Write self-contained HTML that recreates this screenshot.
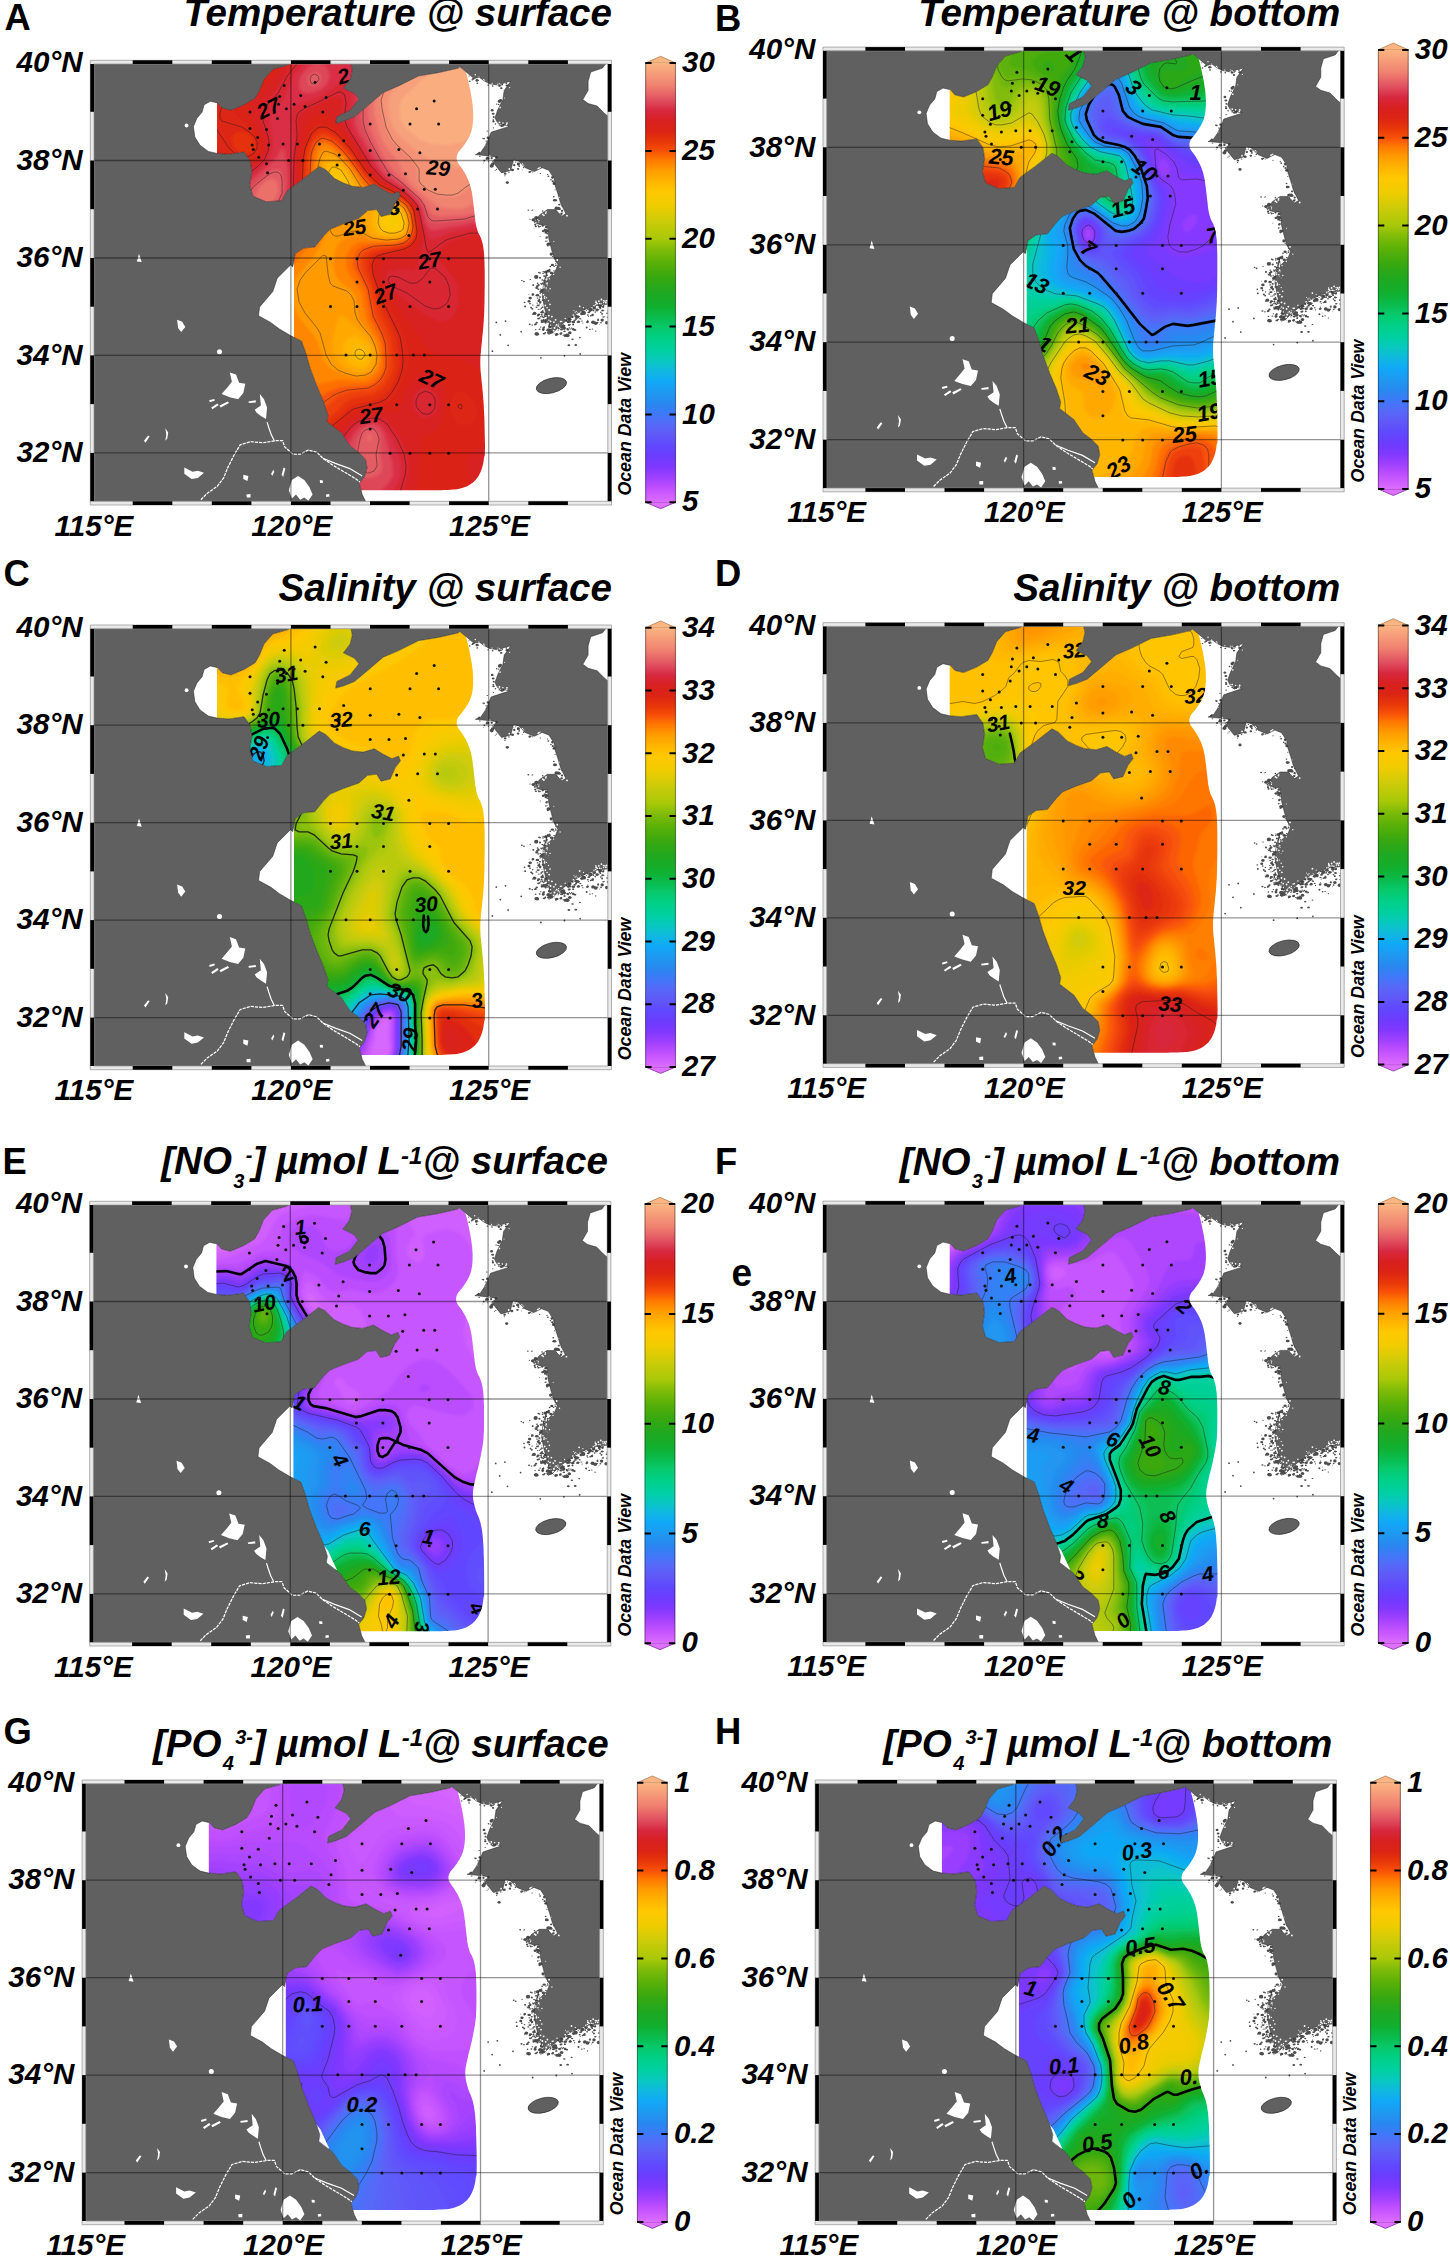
<!DOCTYPE html><html><head><meta charset="utf-8"><title>Figure</title><style>html,body{margin:0;padding:0;background:#fff}svg{display:block}text{font-family:"Liberation Sans", sans-serif}</style></head><body>
<svg width="1450" height="2259" viewBox="0 0 1450 2259">
<rect width="1450" height="2259" fill="#fff"/>
<defs><filter id="bl" x="-5%" y="-5%" width="110%" height="110%"><feGaussianBlur stdDeviation="1.6"/></filter><clipPath id="cf"><rect x="0" y="0" width="515.6" height="439.1"/></clipPath><clipPath id="csea"><path d="M123.9,90.3 135.6,91.2 151,89 157.2,97.8 158.8,108.9 156.6,122.1 159.9,133.1 173.1,138.7 188.6,137.6 194.1,127.6 210.6,115.5 226.1,103.3 232.7,106.7 241.5,115.5 250.3,119.9 259.2,123.2 270.2,124.3 281.2,121 290.1,126.5 298.9,130.9 305.5,128.3 307.3,133.1 302.2,139.8 297.1,151.2 287.9,153.4 283.5,146.4 274.6,147.5 265.8,155.2 250.3,160.7 237.1,166.2 230.5,172.9 221.7,183.9 210.6,185 202.2,190.5 199.6,203.8 197.4,201.9 184.1,215.1 179.7,228.4 166.5,243.8 165.4,252.7 177.5,259.3 186.3,265.9 197.4,272.5 204,275.8 208.4,278 212.8,290.2 217.2,305.6 223.9,323.3 230.5,338.7 234.9,352 233.8,358.6 248.1,369.6 257,382.9 265.8,389.5 272.4,396.1 274,404.9 271.3,413.8 266.2,420.4 269.1,431.4 272.9,439.1 272.9,442.1 518.6,442.1 518.6,241 515.9,241 504.1,242.3 495,244.9 484.5,250.1 472.7,258 464.8,264.6 459.6,269.8 455.7,259.3 451.7,246.2 449.1,233.1 450.4,220 454.3,206.9 451.7,222.5 455.7,214.7 462.2,208.1 464.8,201.6 460.9,195 458.3,185.8 455.7,175.3 454.3,162.2 449.1,162.2 441.2,159.6 446.5,151.8 454.3,146.5 462.2,146.5 468.8,153.1 472.7,150.5 467.5,140 464.8,130.8 462.2,122.9 460.9,115.1 455.7,107.2 449.1,104.6 441.2,108.5 432.1,104.6 425.5,98 420.3,96.7 417.7,107.2 408.5,109.8 403.2,103.3 399.3,98 404.6,94.1 395.4,92.8 382.3,91.5 387.5,89.5 391.5,83.6 395.4,75.8 398,69.2 409.8,65.3 416.3,63.3 404.6,60 401.9,54.8 404.6,46.9 409.8,36.5 411.1,27.3 417.7,18.1 412.4,19.4 404.6,22 396.7,20.7 391.5,18.1 386.2,14.2 381,15.5 373.1,8.9 366.6,3.7 365.1,5.1 345.2,9.6 325.4,12.9 305.5,22.8 290.1,29.4 274.6,42.7 261.4,53.7 250.3,58.1 242.6,60.3 243.7,53.7 257,47.1 265.8,36 261.4,30.5 250.3,25 257,16.2 259.2,7.3 257.4,-1.5 257.4,-3 197.4,-3 197.4,-1.5 195.2,1.8 179.7,6.2 170.9,16.2 166.5,27.2 162.1,34.9 151,41.6 137.8,47.1 129,44.9 124.1,39.3 123.9,39.7 117.2,38.2 111,41.7 109,49 103.8,55.2 100.3,63.5 101.7,73.8 106.9,82.1 115.2,88.3 123.9,90.3Z"/></clipPath><clipPath id="cenv"><path d="M123.9,-10 370.6,-10 370.6,0.7 370.7,1.1 370.9,1.8 371.2,2.8 371.6,4.2 372,5.9 372.6,8 373.2,10.4 374,13.1 374.7,15.9 375.4,18.8 376,21.6 376.6,24.5 377.2,27.5 377.8,30.4 378.3,33.4 378.8,36.5 379.2,39.4 379.6,42.3 379.8,45.1 380,47.9 380.1,50.6 380.1,53.2 380.1,55.8 379.9,58.2 379.7,60.6 379.4,62.9 379,65.1 378.5,67.1 378,69.1 377.3,71 376.6,72.7 375.7,74.4 374.8,76.1 373.8,77.7 372.7,79.5 371.6,81.2 370.3,82.9 369,84.7 367.5,86.5 366,88.2 364.8,90 364.1,91.8 363.6,93.6 363.6,95.4 363.8,97.2 364.5,99 365.5,100.8 366.9,102.6 368.2,104.4 369.5,106.2 370.6,108.1 371.7,109.9 372.8,111.8 373.7,113.7 374.6,115.6 375.5,117.6 376.2,119.6 376.9,121.7 377.6,124 378.1,126.3 378.7,128.8 379.1,131.3 379.5,134 379.8,136.7 380.2,139.5 380.5,142.1 380.8,144.8 381.1,147.4 381.4,150 381.7,152.6 382,155.1 382.2,157.6 382.6,159.9 383,162.1 383.4,164.2 384,166.1 384.5,167.9 385.2,169.6 385.9,171.1 386.7,172.5 387.4,173.9 388,175.5 388.6,177.2 389.1,179 389.6,180.9 390,182.9 390.3,185 390.6,187.2 390.9,189.7 391.1,192.5 391.2,195.7 391.4,199.1 391.5,202.8 391.6,206.8 391.6,211.2 391.6,215.8 391.6,220.2 391.6,224.5 391.5,228.6 391.5,232.5 391.4,236.1 391.4,239.7 391.3,243 391.2,246.1 391.1,249.2 391,252.2 390.8,255.2 390.6,258.2 390.4,261.1 390.2,263.9 390,266.7 389.7,269.5 389.4,272.2 389.1,275 388.9,277.8 388.6,280.5 388.3,283.3 388,286 387.8,288.8 387.5,291.6 387.3,294.5 387.2,297.6 387.2,300.9 387.3,304.3 387.5,307.9 387.9,311.7 388.3,315.7 388.7,319.8 389.2,324.1 389.6,328.6 390,333.3 390.4,338.1 390.7,343.1 390.9,348.3 391.2,353.6 391.4,359.1 391.5,364.3 391.6,369.1 391.7,373.6 391.8,377.8 391.9,381.6 391.9,385 391.8,388.1 391.8,390.9 391.7,393.1 391.7,394.8 391.7,396 391.6,396.7 391.6,396.8 391.6,396.5 391.6,395.6 391.6,394.2 391.6,393.2 391.5,392.6 391.4,392.5 391.3,392.8 391.1,393.5 390.9,394.6 390.7,396.2 390.5,398.2 390.1,400.2 389.7,402.1 389.2,403.9 388.7,405.7 388,407.5 387.3,409.2 386.5,410.9 385.7,412.5 384.7,414.1 383.6,415.5 382.5,416.9 381.2,418.2 379.9,419.3 378.4,420.5 376.9,421.5 375.3,422.4 373.6,423.3 371.8,424 369.9,424.7 368,425.2 366,425.7 363.9,426.1 361.7,426.4 359.5,426.5 357,426.7 354.4,426.8 351.6,427 348.6,427.1 345.4,427.1 342,427.2 338.5,427.2 334.7,427.2 331.4,427.2 328.6,427.2 326.3,427.2 324.4,427.2 323,427.2 322.1,427.2 321.6,427.2 200.9,427.2 200.9,198.9 123.9,198.9Z"/></clipPath><clipPath id="cenv2"><path d="M123.9,-10 370.6,-10 370.6,0.7 370.7,1.1 370.9,1.8 371.2,2.8 371.6,4.2 372,5.9 372.6,8 373.2,10.4 374,13.1 374.7,15.9 375.4,18.8 376,21.6 376.6,24.5 377.2,27.5 377.8,30.4 378.3,33.4 378.8,36.5 379.2,39.4 379.6,42.3 379.8,45.1 380,47.9 380.1,50.6 380.1,53.2 380.1,55.8 379.9,58.2 379.7,60.6 379.4,62.9 379,65.1 378.5,67.1 378,69.1 377.3,71 376.6,72.7 375.7,74.4 374.8,76.1 373.8,77.7 372.7,79.5 371.6,81.2 370.3,82.9 369,84.7 367.5,86.5 366,88.2 364.8,90 364.1,91.8 363.6,93.6 363.6,95.4 363.8,97.2 364.5,99 365.5,100.8 366.9,102.6 368.2,104.4 369.5,106.2 370.6,108.1 371.7,109.9 372.8,111.8 373.7,113.7 374.6,115.6 375.5,117.6 376.2,119.6 376.9,121.7 377.6,124 378.1,126.3 378.7,128.8 379.1,131.3 379.5,134 379.8,136.7 380.2,139.5 380.5,142.1 380.8,144.8 381.1,147.4 381.4,150 381.7,152.6 382,155.1 382.2,157.6 382.6,159.9 383,162.1 383.4,164.2 384,166.1 384.5,167.9 385.2,169.6 385.9,171.1 386.7,172.5 387.4,173.9 388,175.5 388.6,177.2 389.1,179 389.6,180.9 390,182.9 390.3,185 390.6,187.2 390.9,189.7 391.1,192.5 391.2,195.7 391.4,199.1 391.5,202.8 391.6,206.8 391.6,211.2 391.6,215.8 391.6,220.1 391.5,224 391.4,227.5 391.2,230.7 391.1,233.6 390.9,236 390.6,238.1 390.3,239.9 390.1,241.6 389.8,243.4 389.5,245.1 389.2,246.8 388.9,248.5 388.5,250.2 388.2,251.8 387.9,253.5 387.5,255.2 387.2,256.9 386.8,258.7 386.4,260.5 385.9,262.3 385.5,264.1 385,266 384.5,268 384,269.9 383.5,271.8 383.1,273.8 382.7,275.7 382.2,277.6 381.8,279.6 381.4,281.5 381,283.4 380.7,285.3 380.5,287.3 380.4,289.2 380.4,291.1 380.5,293.1 380.7,295 381,296.9 381.4,298.9 381.8,300.7 382.3,302.6 382.8,304.3 383.3,306.1 383.9,307.7 384.5,309.4 385.2,310.9 385.9,312.5 386.5,314.1 387.1,315.8 387.7,317.6 388.2,319.6 388.6,321.6 389.1,323.7 389.4,326 389.8,328.3 390.1,331 390.4,334.1 390.6,337.5 390.9,341.3 391.1,345.5 391.2,350 391.4,354.9 391.5,360.1 391.7,365 391.8,369.7 391.8,374 391.9,378 391.9,381.7 391.9,385 391.8,388.1 391.8,390.9 391.7,393.1 391.7,394.8 391.7,396 391.6,396.7 391.6,396.8 391.6,396.5 391.6,395.6 391.6,394.2 391.6,393.2 391.5,392.6 391.4,392.5 391.3,392.8 391.1,393.5 390.9,394.6 390.7,396.2 390.5,398.2 390.1,400.2 389.7,402.1 389.2,403.9 388.7,405.7 388,407.5 387.3,409.2 386.5,410.9 385.7,412.5 384.7,414.1 383.6,415.5 382.5,416.9 381.2,418.2 379.9,419.3 378.4,420.5 376.9,421.5 375.3,422.4 373.6,423.3 371.8,424 369.9,424.7 368,425.2 366,425.7 363.9,426.1 361.7,426.4 359.5,426.5 357,426.7 354.4,426.8 351.6,427 348.6,427.1 345.4,427.1 342,427.2 338.5,427.2 334.7,427.2 331.4,427.2 328.6,427.2 326.3,427.2 324.4,427.2 323,427.2 322.1,427.2 321.6,427.2 200.9,427.2 200.9,198.9 123.9,198.9Z"/></clipPath><g id="base"><rect x="0" y="0" width="515.6" height="439.1" fill="#606060"/><g clip-path="url(#cf)" fill="#fff"><path d="M123.9,90.3 135.6,91.2 151,89 157.2,97.8 158.8,108.9 156.6,122.1 159.9,133.1 173.1,138.7 188.6,137.6 194.1,127.6 210.6,115.5 226.1,103.3 232.7,106.7 241.5,115.5 250.3,119.9 259.2,123.2 270.2,124.3 281.2,121 290.1,126.5 298.9,130.9 305.5,128.3 307.3,133.1 302.2,139.8 297.1,151.2 287.9,153.4 283.5,146.4 274.6,147.5 265.8,155.2 250.3,160.7 237.1,166.2 230.5,172.9 221.7,183.9 210.6,185 202.2,190.5 199.6,203.8 197.4,201.9 184.1,215.1 179.7,228.4 166.5,243.8 165.4,252.7 177.5,259.3 186.3,265.9 197.4,272.5 204,275.8 208.4,278 212.8,290.2 217.2,305.6 223.9,323.3 230.5,338.7 234.9,352 233.8,358.6 248.1,369.6 257,382.9 265.8,389.5 272.4,396.1 274,404.9 271.3,413.8 266.2,420.4 269.1,431.4 272.9,439.1 272.9,442.1 518.6,442.1 518.6,241 515.9,241 504.1,242.3 495,244.9 484.5,250.1 472.7,258 464.8,264.6 459.6,269.8 455.7,259.3 451.7,246.2 449.1,233.1 450.4,220 454.3,206.9 451.7,222.5 455.7,214.7 462.2,208.1 464.8,201.6 460.9,195 458.3,185.8 455.7,175.3 454.3,162.2 449.1,162.2 441.2,159.6 446.5,151.8 454.3,146.5 462.2,146.5 468.8,153.1 472.7,150.5 467.5,140 464.8,130.8 462.2,122.9 460.9,115.1 455.7,107.2 449.1,104.6 441.2,108.5 432.1,104.6 425.5,98 420.3,96.7 417.7,107.2 408.5,109.8 403.2,103.3 399.3,98 404.6,94.1 395.4,92.8 382.3,91.5 387.5,89.5 391.5,83.6 395.4,75.8 398,69.2 409.8,65.3 416.3,63.3 404.6,60 401.9,54.8 404.6,46.9 409.8,36.5 411.1,27.3 417.7,18.1 412.4,19.4 404.6,22 396.7,20.7 391.5,18.1 386.2,14.2 381,15.5 373.1,8.9 366.6,3.7 365.1,5.1 345.2,9.6 325.4,12.9 305.5,22.8 290.1,29.4 274.6,42.7 261.4,53.7 250.3,58.1 242.6,60.3 243.7,53.7 257,47.1 265.8,36 261.4,30.5 250.3,25 257,16.2 259.2,7.3 257.4,-1.5 257.4,-3 197.4,-3 197.4,-1.5 195.2,1.8 179.7,6.2 170.9,16.2 166.5,27.2 162.1,34.9 151,41.6 137.8,47.1 129,44.9 124.1,39.3 123.9,39.7 117.2,38.2 111,41.7 109,49 103.8,55.2 100.3,63.5 101.7,73.8 106.9,82.1 115.2,88.3 123.9,90.3Z"/><path d="M518.6,-3 515.4,-3 509.4,5 497.6,8.9 495,18.1 495,27.3 489.7,36.5 495,40.4 504.1,43 510.7,49.6 516.6,54.8 518.6,54.8Z"/><path d="M136.7,309.3 142.9,311.4 146.0,319.7 152.2,320.7 150.2,330.0 145.0,336.2 136.7,334.1 128.5,331.0 134.7,323.8 138.8,318.6Z"/><path d="M166.7,331.0 170.9,336.2 174.0,344.5 172.9,355.9 167.8,352.8 163.6,349.7 161.6,346.6 167.8,342.4Z"/><path d="M91.2,404.5 99.5,408.6 104.7,407.6 110.9,409.7 104.7,414.8 98.5,415.9 91.2,410.7Z"/><path d="M198.8,416.9 205.0,412.8 211.2,416.9 216.4,424.1 219.5,431.4 215.3,437.6 211.2,434.5 207.1,436.6 202.9,431.4 198.8,435.5 195.7,427.2Z"/><path d="M84.0,256.6 89.1,258.6 92.2,263.8 88.1,269.0 85.0,264.8Z"/><path d="M150.2,411.7 155.3,412.8 154.3,417.9 150.2,415.9Z"/><path d="M153.3,431.4 157.4,431.0 157.4,434.5 153.7,434.5Z"/><path d="M178.1,410.7 180.2,406.6 181.2,408.6 179.1,412.8Z"/><path d="M188.5,411.7 190.5,404.5 192.2,405.5 190.1,413.8Z"/><path d="M50.9,377.6 55.0,372.4 56.5,373.5 52.3,379.7Z"/><path d="M72.2,365.2 75.1,369.3 74.2,375.5 72.2,377.6 73.2,371.4Z"/><path d="M116.0,337.2 121.2,335.8 121.8,337.5 116.7,339.1Z"/><path d="M118.1,344.5 124.3,340.3 125.6,342.0 119.3,346.1Z"/><path d="M126.4,342.4 134.7,338.3 135.9,339.9 127.6,344.5Z"/><path d="M155.3,338.3 162.6,337.2 162.8,339.3 155.8,339.9Z"/><path d="M226.7,416.9 229.8,417.3 229.8,420.0 226.9,419.8Z"/><path d="M232.9,431.4 236.0,431.0 236.5,433.5 233.1,433.9Z"/><path d="M200.9,423.1 207.1,424.1 209.1,428.3 205.0,427.2Z"/><circle cx="126.4" cy="288.6" r="2.5"/><circle cx="93.5" cy="62.4" r="1.9"/><path d="M45.9,190.7 48.6,199.0 43.8,198.3Z"/><path d="M107.8,436.6 114.0,430.3 124.3,423.1 130.5,414.8 134.7,404.5 140.9,392.1 147.1,381.7 157.4,378.6 169.8,379.7 182.2,377.6 189.5,377.6 191.6,383.8 199.8,391.0 207.1,391.0 215.3,386.9 223.6,389.0 229.8,395.2 240.2,402.4 252.6,409.7 262.9,415.9 272.2,423.1" fill="none" stroke="#fff" stroke-width="1.25" stroke-linejoin="round" stroke-dasharray="3.2 1"/><path d="M229.8,395.2 242.2,400.3 256.7,405.5 269.1,412.8" fill="none" stroke="#fff" stroke-width="1.2"/><path d="M174.0,359.0 175.6,364.1 178.1,371.4 181.2,377.6" fill="none" stroke="#fff" stroke-width="1.2"/></g><g clip-path="url(#cf)" fill="#4c4c4c"><ellipse cx="458.3" cy="322.5" rx="15.5" ry="7.3" transform="rotate(-14 458.3 322.5)" stroke="#222" stroke-width=".6" fill="#606060"/><ellipse cx="506.6" cy="261.2" rx="0.5" ry="0.4"/><ellipse cx="468.4" cy="266.5" rx="1.5" ry="1.0"/><ellipse cx="441.4" cy="250.6" rx="0.5" ry="0.4"/><ellipse cx="469.6" cy="149.4" rx="0.5" ry="0.3"/><ellipse cx="440.3" cy="156.7" rx="1.9" ry="1.6"/><ellipse cx="476.3" cy="264.7" rx="0.7" ry="0.6"/><ellipse cx="505.1" cy="255.7" rx="0.6" ry="0.4"/><ellipse cx="475.8" cy="282.2" rx="1.4" ry="1.0"/><ellipse cx="406.4" cy="61.9" rx="0.9" ry="0.8"/><ellipse cx="462.0" cy="126.7" rx="0.6" ry="0.5"/><ellipse cx="452.8" cy="178.2" rx="0.8" ry="0.8"/><ellipse cx="494.6" cy="257.3" rx="0.6" ry="0.6"/><ellipse cx="386.7" cy="93.2" rx="0.9" ry="0.5"/><ellipse cx="448.5" cy="251.5" rx="0.9" ry="0.9"/><ellipse cx="419.4" cy="106.9" rx="1.5" ry="1.2"/><ellipse cx="514.0" cy="250.1" rx="0.9" ry="0.7"/><ellipse cx="402.1" cy="107.4" rx="0.5" ry="0.5"/><ellipse cx="469.8" cy="263.6" rx="0.8" ry="0.7"/><ellipse cx="439.8" cy="251.2" rx="0.8" ry="0.7"/><ellipse cx="449.2" cy="226.7" rx="1.2" ry="0.9"/><ellipse cx="407.5" cy="37.2" rx="1.4" ry="1.3"/><ellipse cx="410.3" cy="61.7" rx="1.0" ry="1.0"/><ellipse cx="454.1" cy="177.9" rx="0.6" ry="0.4"/><ellipse cx="473.3" cy="273.0" rx="0.6" ry="0.5"/><ellipse cx="444.4" cy="235.0" rx="0.9" ry="0.6"/><ellipse cx="496.0" cy="248.0" rx="0.8" ry="0.5"/><ellipse cx="461.0" cy="203.2" rx="0.9" ry="0.6"/><ellipse cx="484.4" cy="253.9" rx="1.8" ry="1.4"/><ellipse cx="400.2" cy="57.0" rx="0.9" ry="0.8"/><ellipse cx="449.1" cy="243.8" rx="0.7" ry="0.5"/><ellipse cx="447.5" cy="253.4" rx="0.6" ry="0.6"/><ellipse cx="366.4" cy="9.2" rx="1.1" ry="0.7"/><ellipse cx="457.9" cy="116.7" rx="0.8" ry="0.8"/><ellipse cx="475.6" cy="266.0" rx="0.8" ry="0.7"/><ellipse cx="485.2" cy="259.0" rx="1.7" ry="1.0"/><ellipse cx="450.2" cy="266.4" rx="1.4" ry="1.4"/><ellipse cx="468.6" cy="263.9" rx="1.7" ry="1.5"/><ellipse cx="439.3" cy="230.8" rx="0.7" ry="0.4"/><ellipse cx="408.6" cy="22.7" rx="0.7" ry="0.4"/><ellipse cx="459.4" cy="115.1" rx="0.8" ry="0.6"/><ellipse cx="436.9" cy="240.5" rx="0.9" ry="0.8"/><ellipse cx="385.4" cy="17.4" rx="0.6" ry="0.6"/><ellipse cx="445.8" cy="251.4" rx="1.5" ry="1.0"/><ellipse cx="473.3" cy="257.6" rx="0.8" ry="0.8"/><ellipse cx="442.8" cy="163.4" rx="1.1" ry="0.8"/><ellipse cx="471.1" cy="265.0" rx="1.8" ry="1.5"/><ellipse cx="510.7" cy="247.5" rx="0.6" ry="0.5"/><ellipse cx="496.8" cy="248.2" rx="1.0" ry="0.9"/><ellipse cx="376.0" cy="12.9" rx="0.6" ry="0.5"/><ellipse cx="440.1" cy="221.9" rx="0.6" ry="0.6"/><ellipse cx="458.1" cy="191.0" rx="1.6" ry="1.6"/><ellipse cx="476.9" cy="261.4" rx="0.8" ry="0.7"/><ellipse cx="469.8" cy="264.1" rx="1.0" ry="0.7"/><ellipse cx="447.2" cy="110.3" rx="0.7" ry="0.5"/><ellipse cx="491.3" cy="249.2" rx="1.0" ry="0.7"/><ellipse cx="445.9" cy="209.4" rx="1.0" ry="0.8"/><ellipse cx="496.3" cy="263.0" rx="0.5" ry="0.3"/><ellipse cx="446.2" cy="241.3" rx="0.5" ry="0.4"/><ellipse cx="443.1" cy="213.9" rx="2.1" ry="1.9"/><ellipse cx="454.8" cy="259.4" rx="0.7" ry="0.6"/><ellipse cx="474.2" cy="265.7" rx="0.8" ry="0.7"/><ellipse cx="463.7" cy="271.1" rx="1.7" ry="1.2"/><ellipse cx="445.9" cy="163.6" rx="1.0" ry="0.9"/><ellipse cx="485.8" cy="258.4" rx="1.0" ry="0.7"/><ellipse cx="450.2" cy="168.0" rx="1.5" ry="1.2"/><ellipse cx="395.0" cy="22.0" rx="0.9" ry="0.6"/><ellipse cx="435.3" cy="147.0" rx="1.0" ry="0.7"/><ellipse cx="501.7" cy="244.6" rx="0.8" ry="0.6"/><ellipse cx="446.5" cy="266.2" rx="1.0" ry="0.7"/><ellipse cx="430.5" cy="104.5" rx="0.8" ry="0.7"/><ellipse cx="443.7" cy="224.8" rx="1.6" ry="1.0"/><ellipse cx="444.9" cy="251.0" rx="0.7" ry="0.4"/><ellipse cx="400.3" cy="64.7" rx="0.7" ry="0.6"/><ellipse cx="471.6" cy="268.1" rx="0.9" ry="0.7"/><ellipse cx="490.2" cy="249.5" rx="0.6" ry="0.5"/><ellipse cx="476.8" cy="258.6" rx="1.6" ry="1.1"/><ellipse cx="509.7" cy="247.5" rx="1.0" ry="1.0"/><ellipse cx="485.3" cy="258.0" rx="1.0" ry="0.7"/><ellipse cx="470.0" cy="261.4" rx="0.7" ry="0.6"/><ellipse cx="480.2" cy="266.1" rx="1.3" ry="1.2"/><ellipse cx="487.4" cy="255.8" rx="0.9" ry="0.7"/><ellipse cx="452.6" cy="250.9" rx="1.5" ry="1.3"/><ellipse cx="507.0" cy="242.3" rx="1.4" ry="1.0"/><ellipse cx="449.7" cy="162.8" rx="1.1" ry="0.8"/><ellipse cx="446.3" cy="236.4" rx="0.9" ry="0.9"/><ellipse cx="461.1" cy="270.2" rx="0.5" ry="0.4"/><ellipse cx="463.7" cy="147.9" rx="0.6" ry="0.6"/><ellipse cx="446.1" cy="237.9" rx="1.0" ry="0.8"/><ellipse cx="455.4" cy="181.1" rx="2.0" ry="1.6"/><ellipse cx="500.0" cy="259.1" rx="2.0" ry="1.7"/><ellipse cx="432.0" cy="243.4" rx="1.0" ry="0.9"/><ellipse cx="473.8" cy="270.7" rx="0.7" ry="0.6"/><ellipse cx="486.8" cy="258.4" rx="0.5" ry="0.3"/><ellipse cx="413.2" cy="20.2" rx="1.0" ry="0.8"/><ellipse cx="493.6" cy="264.3" rx="1.0" ry="1.0"/><ellipse cx="459.7" cy="118.1" rx="1.1" ry="1.0"/><ellipse cx="507.3" cy="245.5" rx="1.0" ry="0.6"/><ellipse cx="445.0" cy="242.3" rx="1.5" ry="0.9"/><ellipse cx="439.9" cy="231.3" rx="1.3" ry="1.2"/><ellipse cx="470.8" cy="268.2" rx="0.7" ry="0.5"/><ellipse cx="456.2" cy="263.9" rx="0.8" ry="0.7"/><ellipse cx="439.4" cy="109.0" rx="0.5" ry="0.5"/><ellipse cx="488.9" cy="257.9" rx="0.9" ry="0.6"/><ellipse cx="394.1" cy="94.1" rx="0.9" ry="0.6"/><ellipse cx="456.5" cy="269.1" rx="1.3" ry="1.0"/><ellipse cx="513.6" cy="259.7" rx="1.7" ry="1.7"/><ellipse cx="399.1" cy="100.7" rx="0.7" ry="0.5"/><ellipse cx="494.7" cy="251.9" rx="1.0" ry="0.7"/><ellipse cx="439.5" cy="146.9" rx="0.8" ry="0.5"/><ellipse cx="398.6" cy="95.0" rx="1.2" ry="1.1"/><ellipse cx="421.1" cy="102.1" rx="1.2" ry="1.1"/><ellipse cx="489.2" cy="250.5" rx="1.1" ry="0.7"/><ellipse cx="444.5" cy="220.2" rx="0.9" ry="0.7"/><ellipse cx="414.1" cy="22.4" rx="1.8" ry="1.1"/><ellipse cx="509.1" cy="257.0" rx="1.7" ry="1.6"/><ellipse cx="439.1" cy="261.9" rx="0.9" ry="0.6"/><ellipse cx="507.9" cy="259.6" rx="0.9" ry="0.8"/><ellipse cx="444.3" cy="232.1" rx="1.8" ry="1.2"/><ellipse cx="452.4" cy="208.4" rx="0.7" ry="0.6"/><ellipse cx="394.7" cy="74.8" rx="1.2" ry="1.1"/><ellipse cx="456.0" cy="271.1" rx="0.7" ry="0.5"/><ellipse cx="449.7" cy="257.6" rx="0.6" ry="0.6"/><ellipse cx="441.6" cy="261.7" rx="0.7" ry="0.6"/><ellipse cx="394.2" cy="67.8" rx="0.8" ry="0.5"/><ellipse cx="442.6" cy="266.5" rx="0.8" ry="0.7"/><ellipse cx="506.8" cy="243.9" rx="1.4" ry="1.3"/><ellipse cx="472.0" cy="272.4" rx="1.5" ry="1.5"/><ellipse cx="495.8" cy="249.4" rx="1.3" ry="0.8"/><ellipse cx="425.1" cy="100.9" rx="1.1" ry="1.0"/><ellipse cx="456.9" cy="263.5" rx="1.6" ry="1.3"/><ellipse cx="475.1" cy="258.8" rx="1.3" ry="1.3"/><ellipse cx="468.9" cy="147.7" rx="1.2" ry="1.1"/><ellipse cx="449.3" cy="220.2" rx="0.7" ry="0.6"/><ellipse cx="480.0" cy="261.4" rx="1.0" ry="0.9"/><ellipse cx="454.1" cy="170.9" rx="0.6" ry="0.4"/><ellipse cx="475.9" cy="261.8" rx="1.3" ry="1.0"/><ellipse cx="451.1" cy="263.6" rx="0.6" ry="0.5"/><ellipse cx="367.3" cy="9.6" rx="1.1" ry="0.7"/><ellipse cx="507.8" cy="242.5" rx="1.2" ry="0.9"/><ellipse cx="380.1" cy="15.8" rx="1.3" ry="0.8"/><ellipse cx="454.5" cy="207.4" rx="0.9" ry="0.8"/><ellipse cx="459.4" cy="193.3" rx="0.7" ry="0.5"/><ellipse cx="430.8" cy="218.5" rx="0.9" ry="0.8"/><ellipse cx="445.3" cy="255.5" rx="1.3" ry="0.9"/><ellipse cx="448.8" cy="258.8" rx="1.3" ry="1.1"/><ellipse cx="425.1" cy="101.6" rx="0.9" ry="0.7"/><ellipse cx="506.6" cy="243.1" rx="0.6" ry="0.6"/><ellipse cx="465.7" cy="265.3" rx="1.0" ry="0.9"/><ellipse cx="445.2" cy="226.1" rx="1.0" ry="0.7"/><ellipse cx="461.1" cy="120.6" rx="1.7" ry="1.2"/><ellipse cx="373.1" cy="25.2" rx="1.4" ry="0.8"/><ellipse cx="437.1" cy="235.0" rx="1.7" ry="1.4"/><ellipse cx="466.3" cy="141.5" rx="1.2" ry="0.9"/><ellipse cx="489.6" cy="248.8" rx="1.1" ry="0.8"/><ellipse cx="407.6" cy="62.7" rx="0.7" ry="0.6"/><ellipse cx="450.7" cy="249.3" rx="0.7" ry="0.6"/><ellipse cx="454.9" cy="214.2" rx="0.7" ry="0.6"/><ellipse cx="494.2" cy="259.1" rx="1.2" ry="1.1"/><ellipse cx="454.3" cy="182.3" rx="0.5" ry="0.5"/><ellipse cx="445.4" cy="222.0" rx="1.2" ry="1.2"/><ellipse cx="502.6" cy="268.1" rx="0.7" ry="0.6"/><ellipse cx="446.9" cy="246.1" rx="0.7" ry="0.5"/><ellipse cx="425.1" cy="106.6" rx="0.6" ry="0.4"/><ellipse cx="454.5" cy="111.3" rx="0.7" ry="0.5"/><ellipse cx="452.6" cy="208.9" rx="1.7" ry="1.5"/><ellipse cx="458.4" cy="209.9" rx="1.7" ry="1.3"/><ellipse cx="448.3" cy="257.3" rx="0.8" ry="0.8"/><ellipse cx="452.1" cy="169.8" rx="0.7" ry="0.7"/><ellipse cx="426.1" cy="103.0" rx="0.9" ry="0.9"/><ellipse cx="510.5" cy="242.4" rx="0.8" ry="0.5"/><ellipse cx="448.9" cy="241.8" rx="0.5" ry="0.4"/><ellipse cx="489.7" cy="259.9" rx="0.6" ry="0.6"/><ellipse cx="445.6" cy="271.3" rx="0.7" ry="0.4"/><ellipse cx="450.1" cy="267.6" rx="0.7" ry="0.4"/><ellipse cx="505.0" cy="256.9" rx="1.1" ry="0.9"/><ellipse cx="438.8" cy="147.4" rx="0.5" ry="0.4"/><ellipse cx="443.4" cy="244.1" rx="1.0" ry="0.7"/><ellipse cx="447.8" cy="228.0" rx="1.2" ry="0.9"/><ellipse cx="457.1" cy="267.7" rx="1.3" ry="1.0"/><ellipse cx="399.6" cy="100.9" rx="1.6" ry="1.4"/><ellipse cx="447.0" cy="239.8" rx="1.1" ry="0.8"/><ellipse cx="445.0" cy="162.3" rx="0.6" ry="0.6"/><ellipse cx="449.3" cy="216.8" rx="1.0" ry="0.7"/><ellipse cx="486.7" cy="274.6" rx="1.0" ry="0.6"/><ellipse cx="454.3" cy="170.7" rx="0.6" ry="0.5"/><ellipse cx="449.9" cy="220.5" rx="0.6" ry="0.4"/><ellipse cx="477.4" cy="265.9" rx="0.7" ry="0.6"/><ellipse cx="497.7" cy="252.7" rx="1.0" ry="0.7"/><ellipse cx="376.7" cy="18.1" rx="0.8" ry="0.7"/><ellipse cx="455.6" cy="269.5" rx="0.7" ry="0.6"/><ellipse cx="453.2" cy="218.5" rx="0.8" ry="0.5"/><ellipse cx="455.3" cy="113.2" rx="1.0" ry="0.8"/><ellipse cx="440.2" cy="222.0" rx="1.0" ry="0.9"/><ellipse cx="444.9" cy="252.5" rx="1.2" ry="1.0"/><ellipse cx="463.4" cy="145.2" rx="2.0" ry="1.7"/><ellipse cx="490.4" cy="248.6" rx="0.9" ry="0.8"/><ellipse cx="407.9" cy="24.8" rx="0.6" ry="0.4"/><ellipse cx="460.7" cy="133.6" rx="0.9" ry="0.7"/><ellipse cx="456.4" cy="206.5" rx="1.0" ry="0.8"/><ellipse cx="393.1" cy="78.0" rx="0.9" ry="0.5"/><ellipse cx="486.8" cy="255.4" rx="0.7" ry="0.6"/><ellipse cx="482.9" cy="255.8" rx="1.2" ry="0.9"/><ellipse cx="481.6" cy="257.1" rx="1.3" ry="0.8"/><ellipse cx="453.4" cy="174.8" rx="1.2" ry="0.9"/><ellipse cx="442.5" cy="261.1" rx="1.3" ry="1.0"/><ellipse cx="465.3" cy="145.3" rx="2.0" ry="1.7"/><ellipse cx="471.0" cy="262.5" rx="1.3" ry="0.9"/><ellipse cx="475.2" cy="267.0" rx="0.7" ry="0.5"/><ellipse cx="499.3" cy="265.9" rx="0.8" ry="0.5"/><ellipse cx="514.5" cy="254.1" rx="0.9" ry="0.8"/><ellipse cx="431.5" cy="239.4" rx="0.9" ry="0.7"/><ellipse cx="502.6" cy="260.2" rx="1.9" ry="1.7"/><ellipse cx="422.6" cy="99.0" rx="0.7" ry="0.5"/><ellipse cx="462.9" cy="272.1" rx="1.0" ry="0.8"/><ellipse cx="494.8" cy="245.9" rx="1.0" ry="0.7"/><ellipse cx="507.7" cy="249.2" rx="0.9" ry="0.8"/><ellipse cx="459.2" cy="114.2" rx="1.3" ry="1.1"/><ellipse cx="443.6" cy="259.6" rx="1.2" ry="0.9"/><ellipse cx="447.6" cy="263.9" rx="0.8" ry="0.5"/><ellipse cx="446.7" cy="255.0" rx="0.9" ry="0.8"/><ellipse cx="455.0" cy="269.5" rx="1.1" ry="0.9"/><ellipse cx="514.5" cy="250.3" rx="1.0" ry="0.7"/><ellipse cx="394.6" cy="95.3" rx="1.8" ry="1.4"/><ellipse cx="448.0" cy="228.7" rx="1.6" ry="1.3"/><ellipse cx="444.1" cy="239.9" rx="0.8" ry="0.5"/><ellipse cx="446.9" cy="234.0" rx="1.2" ry="0.8"/><ellipse cx="486.2" cy="253.5" rx="0.7" ry="0.6"/><ellipse cx="482.7" cy="281.9" rx="1.4" ry="0.9"/><ellipse cx="447.0" cy="209.9" rx="0.9" ry="0.7"/><ellipse cx="469.7" cy="263.2" rx="2.0" ry="1.5"/><ellipse cx="451.1" cy="213.0" rx="1.0" ry="0.9"/><ellipse cx="461.0" cy="207.8" rx="0.9" ry="0.6"/><ellipse cx="450.0" cy="210.1" rx="0.9" ry="0.7"/><ellipse cx="471.6" cy="268.3" rx="0.8" ry="0.5"/><ellipse cx="449.6" cy="147.9" rx="0.8" ry="0.7"/><ellipse cx="438.0" cy="244.5" rx="1.0" ry="0.9"/><ellipse cx="455.5" cy="266.8" rx="2.0" ry="1.6"/><ellipse cx="499.4" cy="252.0" rx="1.4" ry="1.2"/><ellipse cx="442.2" cy="161.7" rx="1.1" ry="1.1"/><ellipse cx="384.9" cy="90.2" rx="0.8" ry="0.6"/><ellipse cx="450.2" cy="256.5" rx="0.9" ry="0.6"/><ellipse cx="399.5" cy="22.9" rx="0.9" ry="0.7"/><ellipse cx="449.6" cy="244.1" rx="0.9" ry="0.7"/><ellipse cx="441.2" cy="158.5" rx="0.6" ry="0.5"/><ellipse cx="402.3" cy="60.9" rx="0.8" ry="0.7"/><ellipse cx="500.3" cy="247.3" rx="0.9" ry="0.9"/><ellipse cx="447.1" cy="173.2" rx="0.7" ry="0.4"/><ellipse cx="448.5" cy="221.0" rx="1.1" ry="0.8"/><ellipse cx="468.1" cy="270.0" rx="1.2" ry="0.8"/><ellipse cx="450.9" cy="258.0" rx="2.0" ry="1.6"/><ellipse cx="450.1" cy="208.5" rx="0.8" ry="0.6"/><ellipse cx="451.5" cy="166.1" rx="1.0" ry="0.6"/><ellipse cx="508.8" cy="247.4" rx="0.7" ry="0.7"/><ellipse cx="467.7" cy="270.7" rx="1.4" ry="1.1"/><ellipse cx="454.7" cy="182.7" rx="1.0" ry="0.8"/><ellipse cx="428.8" cy="217.5" rx="0.9" ry="0.7"/><ellipse cx="449.0" cy="249.2" rx="1.7" ry="1.2"/><ellipse cx="379.2" cy="16.6" rx="0.9" ry="0.7"/><ellipse cx="437.6" cy="108.5" rx="1.0" ry="0.7"/><ellipse cx="503.9" cy="246.9" rx="1.6" ry="1.4"/><ellipse cx="471.0" cy="265.2" rx="0.9" ry="0.8"/><ellipse cx="390.9" cy="75.5" rx="0.9" ry="0.9"/><ellipse cx="457.1" cy="266.6" rx="0.8" ry="0.5"/><ellipse cx="479.4" cy="254.0" rx="1.2" ry="1.0"/><ellipse cx="400.4" cy="58.4" rx="1.2" ry="1.0"/><ellipse cx="444.0" cy="213.0" rx="0.8" ry="0.6"/><ellipse cx="451.9" cy="253.2" rx="1.0" ry="1.0"/><ellipse cx="496.8" cy="266.3" rx="0.9" ry="0.7"/><ellipse cx="448.4" cy="227.3" rx="0.8" ry="0.8"/><ellipse cx="383.8" cy="17.3" rx="1.4" ry="1.3"/><ellipse cx="443.1" cy="270.7" rx="1.8" ry="1.6"/><ellipse cx="499.9" cy="250.8" rx="0.7" ry="0.5"/><ellipse cx="476.2" cy="257.7" rx="1.1" ry="0.9"/><ellipse cx="470.1" cy="271.9" rx="0.8" ry="0.5"/><ellipse cx="395.3" cy="98.7" rx="0.6" ry="0.5"/><ellipse cx="452.2" cy="269.6" rx="0.9" ry="0.8"/><ellipse cx="384.9" cy="16.1" rx="0.5" ry="0.4"/><ellipse cx="480.3" cy="258.7" rx="0.5" ry="0.4"/><ellipse cx="408.2" cy="25.1" rx="1.2" ry="0.9"/><ellipse cx="435.9" cy="231.3" rx="0.6" ry="0.4"/><ellipse cx="457.2" cy="270.1" rx="0.9" ry="0.9"/><ellipse cx="384.2" cy="20.1" rx="1.0" ry="0.7"/><ellipse cx="468.4" cy="150.6" rx="1.2" ry="1.2"/><ellipse cx="455.5" cy="269.7" rx="1.3" ry="1.0"/><ellipse cx="454.5" cy="257.7" rx="1.3" ry="1.0"/><ellipse cx="482.9" cy="253.4" rx="1.6" ry="1.4"/><ellipse cx="498.2" cy="247.0" rx="1.4" ry="1.1"/><ellipse cx="469.3" cy="266.0" rx="0.9" ry="0.7"/><ellipse cx="448.9" cy="252.1" rx="0.5" ry="0.5"/><ellipse cx="449.6" cy="247.6" rx="0.9" ry="0.8"/><ellipse cx="466.7" cy="145.9" rx="1.1" ry="1.0"/><ellipse cx="425.0" cy="105.7" rx="1.3" ry="0.9"/><ellipse cx="391.2" cy="97.5" rx="1.0" ry="0.9"/><ellipse cx="502.2" cy="248.9" rx="0.9" ry="0.8"/><ellipse cx="405.6" cy="41.3" rx="0.8" ry="0.6"/><ellipse cx="451.3" cy="252.1" rx="0.8" ry="0.7"/><ellipse cx="403.6" cy="41.0" rx="0.8" ry="0.7"/><ellipse cx="457.2" cy="203.4" rx="0.9" ry="0.8"/><ellipse cx="449.5" cy="237.1" rx="1.0" ry="0.8"/><ellipse cx="488.7" cy="250.8" rx="1.7" ry="1.4"/><ellipse cx="495.1" cy="249.2" rx="0.8" ry="0.5"/><ellipse cx="399.5" cy="101.1" rx="0.9" ry="0.8"/><ellipse cx="452.2" cy="257.2" rx="0.7" ry="0.4"/><ellipse cx="448.8" cy="227.0" rx="1.0" ry="0.9"/><ellipse cx="473.6" cy="257.8" rx="0.9" ry="0.9"/><ellipse cx="455.0" cy="267.2" rx="1.5" ry="1.2"/><ellipse cx="445.7" cy="237.6" rx="1.4" ry="1.2"/><ellipse cx="454.7" cy="215.6" rx="0.6" ry="0.5"/><ellipse cx="495.4" cy="253.5" rx="0.6" ry="0.5"/><ellipse cx="443.2" cy="154.9" rx="2.1" ry="2.0"/><ellipse cx="447.5" cy="163.5" rx="0.7" ry="0.5"/><ellipse cx="425.3" cy="100.9" rx="1.6" ry="1.4"/><ellipse cx="471.1" cy="266.0" rx="1.0" ry="0.7"/><ellipse cx="509.0" cy="250.7" rx="1.0" ry="0.9"/><ellipse cx="449.5" cy="219.5" rx="0.5" ry="0.4"/><ellipse cx="462.7" cy="198.5" rx="0.5" ry="0.5"/><ellipse cx="400.1" cy="50.6" rx="1.5" ry="1.0"/><ellipse cx="439.3" cy="245.7" rx="1.0" ry="0.9"/><ellipse cx="452.5" cy="164.4" rx="0.8" ry="0.6"/><ellipse cx="514.6" cy="247.9" rx="0.8" ry="0.5"/><ellipse cx="452.5" cy="256.7" rx="0.9" ry="0.6"/><ellipse cx="410.4" cy="62.7" rx="1.0" ry="0.8"/><ellipse cx="386.1" cy="89.5" rx="0.9" ry="0.9"/><ellipse cx="446.1" cy="238.4" rx="0.7" ry="0.5"/><ellipse cx="506.0" cy="242.2" rx="1.3" ry="0.9"/><ellipse cx="510.1" cy="243.7" rx="1.2" ry="1.1"/><ellipse cx="453.0" cy="169.3" rx="1.4" ry="1.0"/><ellipse cx="451.0" cy="270.5" rx="1.4" ry="0.9"/><ellipse cx="429.2" cy="106.8" rx="0.6" ry="0.4"/><ellipse cx="389.8" cy="75.3" rx="0.6" ry="0.6"/><ellipse cx="450.7" cy="254.4" rx="0.9" ry="0.8"/><ellipse cx="447.2" cy="238.9" rx="1.3" ry="0.9"/><ellipse cx="406.4" cy="22.5" rx="1.4" ry="1.4"/><ellipse cx="436.9" cy="156.2" rx="0.7" ry="0.5"/><ellipse cx="493.4" cy="247.5" rx="0.6" ry="0.5"/><ellipse cx="474.4" cy="272.4" rx="2.1" ry="1.8"/><ellipse cx="411.8" cy="112.6" rx="0.7" ry="0.5"/><ellipse cx="394.8" cy="74.1" rx="0.8" ry="0.6"/><ellipse cx="454.2" cy="267.1" rx="1.0" ry="0.7"/><ellipse cx="497.1" cy="247.8" rx="1.0" ry="0.7"/><ellipse cx="478.5" cy="265.0" rx="0.8" ry="0.7"/><ellipse cx="390.4" cy="99.8" rx="0.5" ry="0.4"/><ellipse cx="483.9" cy="254.1" rx="0.8" ry="0.7"/><ellipse cx="436.5" cy="108.9" rx="1.2" ry="1.1"/><ellipse cx="453.3" cy="164.0" rx="1.4" ry="1.3"/><ellipse cx="448.2" cy="245.1" rx="0.9" ry="0.8"/><ellipse cx="456.3" cy="266.9" rx="0.8" ry="0.7"/><ellipse cx="479.4" cy="276.2" rx="1.3" ry="0.8"/><ellipse cx="453.4" cy="168.0" rx="1.9" ry="1.4"/><ellipse cx="445.2" cy="246.3" rx="0.6" ry="0.6"/><ellipse cx="412.1" cy="110.6" rx="1.3" ry="1.1"/><ellipse cx="474.4" cy="266.2" rx="1.1" ry="1.1"/><ellipse cx="449.0" cy="216.8" rx="0.5" ry="0.4"/><ellipse cx="476.2" cy="258.4" rx="0.7" ry="0.5"/><ellipse cx="439.6" cy="241.9" rx="0.8" ry="0.6"/><ellipse cx="453.9" cy="212.3" rx="0.8" ry="0.6"/><ellipse cx="415.8" cy="109.1" rx="0.8" ry="0.6"/><ellipse cx="502.1" cy="243.3" rx="0.7" ry="0.6"/><ellipse cx="452.6" cy="259.6" rx="1.1" ry="1.0"/><ellipse cx="456.3" cy="261.3" rx="0.9" ry="0.6"/><ellipse cx="501.1" cy="244.8" rx="1.8" ry="1.5"/><ellipse cx="455.8" cy="207.8" rx="1.8" ry="1.5"/><ellipse cx="505.6" cy="246.5" rx="0.7" ry="0.6"/><ellipse cx="447.9" cy="220.2" rx="0.8" ry="0.5"/><ellipse cx="481.9" cy="266.9" rx="1.3" ry="0.9"/><ellipse cx="491.6" cy="246.6" rx="0.6" ry="0.6"/><ellipse cx="504.4" cy="259.3" rx="1.0" ry="0.7"/><ellipse cx="406.4" cy="38.2" rx="1.7" ry="1.7"/><ellipse cx="461.2" cy="136.4" rx="0.7" ry="0.6"/><ellipse cx="459.3" cy="201.8" rx="1.6" ry="1.2"/><ellipse cx="403.3" cy="106.3" rx="0.6" ry="0.6"/><ellipse cx="488.8" cy="249.5" rx="0.5" ry="0.5"/><ellipse cx="476.7" cy="269.7" rx="1.8" ry="1.5"/><ellipse cx="453.8" cy="174.0" rx="1.3" ry="0.8"/><ellipse cx="470.9" cy="263.8" rx="1.0" ry="0.7"/><ellipse cx="453.8" cy="211.7" rx="0.8" ry="0.5"/><ellipse cx="508.9" cy="243.6" rx="0.9" ry="0.6"/><ellipse cx="447.3" cy="225.9" rx="0.9" ry="0.6"/><ellipse cx="436.6" cy="261.1" rx="1.1" ry="0.8"/><ellipse cx="399.5" cy="101.8" rx="0.9" ry="0.6"/><ellipse cx="399.1" cy="47.1" rx="1.4" ry="1.2"/><ellipse cx="454.1" cy="255.9" rx="1.1" ry="0.8"/><ellipse cx="452.6" cy="218.6" rx="1.6" ry="1.5"/><ellipse cx="480.3" cy="258.9" rx="1.8" ry="1.3"/><ellipse cx="414.2" cy="119.5" rx="1.6" ry="1.4"/><ellipse cx="490.8" cy="249.9" rx="2.1" ry="1.9"/><ellipse cx="441.6" cy="155.6" rx="0.6" ry="0.6"/><ellipse cx="462.6" cy="200.4" rx="0.5" ry="0.5"/><ellipse cx="461.9" cy="137.1" rx="2.0" ry="1.3"/><ellipse cx="437.2" cy="216.4" rx="0.8" ry="0.5"/><ellipse cx="495.2" cy="258.6" rx="0.7" ry="0.7"/><ellipse cx="408.8" cy="62.6" rx="1.4" ry="1.3"/><ellipse cx="476.6" cy="256.3" rx="2.0" ry="1.4"/><ellipse cx="453.7" cy="170.0" rx="0.9" ry="0.6"/><ellipse cx="446.9" cy="214.6" rx="1.1" ry="1.0"/><ellipse cx="456.7" cy="263.3" rx="1.8" ry="1.3"/><ellipse cx="444.1" cy="223.1" rx="1.3" ry="1.0"/><ellipse cx="497.3" cy="246.2" rx="2.1" ry="1.6"/><ellipse cx="452.6" cy="167.2" rx="1.8" ry="1.3"/><ellipse cx="462.8" cy="202.2" rx="1.0" ry="0.8"/><ellipse cx="409.1" cy="21.4" rx="0.9" ry="0.8"/><ellipse cx="441.5" cy="250.3" rx="1.9" ry="1.6"/><ellipse cx="457.5" cy="267.1" rx="1.0" ry="0.9"/><ellipse cx="447.0" cy="230.2" rx="0.8" ry="0.6"/><ellipse cx="511.2" cy="253.4" rx="0.5" ry="0.4"/><ellipse cx="449.3" cy="253.6" rx="1.0" ry="0.9"/><ellipse cx="453.0" cy="253.2" rx="0.8" ry="0.5"/><ellipse cx="460.6" cy="119.3" rx="0.9" ry="0.7"/><ellipse cx="451.0" cy="217.6" rx="1.1" ry="0.8"/><ellipse cx="452.8" cy="257.5" rx="1.7" ry="1.6"/><ellipse cx="510.3" cy="253.9" rx="1.1" ry="0.8"/><ellipse cx="398.6" cy="102.8" rx="2.0" ry="1.8"/><ellipse cx="368.8" cy="7.9" rx="0.5" ry="0.5"/><ellipse cx="450.6" cy="264.5" rx="1.3" ry="0.9"/><ellipse cx="458.0" cy="269.1" rx="1.8" ry="1.5"/><ellipse cx="393.2" cy="95.9" rx="0.8" ry="0.7"/><ellipse cx="487.5" cy="248.8" rx="0.6" ry="0.4"/><ellipse cx="403.4" cy="94.2" rx="1.3" ry="1.3"/><ellipse cx="465.1" cy="266.9" rx="0.6" ry="0.6"/><ellipse cx="447.3" cy="228.3" rx="0.8" ry="0.5"/><ellipse cx="475.6" cy="257.0" rx="0.7" ry="0.7"/><ellipse cx="439.3" cy="232.0" rx="0.9" ry="0.6"/><ellipse cx="400.6" cy="53.9" rx="1.0" ry="0.9"/><ellipse cx="442.0" cy="224.0" rx="0.5" ry="0.4"/><ellipse cx="484.7" cy="253.8" rx="1.4" ry="1.4"/><ellipse cx="435.9" cy="238.2" rx="1.5" ry="1.2"/><ellipse cx="455.2" cy="269.9" rx="0.8" ry="0.5"/><ellipse cx="444.0" cy="270.9" rx="2.0" ry="1.7"/><ellipse cx="420.7" cy="99.9" rx="0.5" ry="0.4"/><ellipse cx="468.9" cy="142.9" rx="0.7" ry="0.6"/><g fill="#fff"><circle cx="450.6" cy="224.4" r="0.9"/><circle cx="453.1" cy="224.9" r="0.8"/><circle cx="399.0" cy="20.4" r="0.7"/><circle cx="513.7" cy="237.6" r="0.9"/><circle cx="451.7" cy="148.3" r="0.5"/><circle cx="460.5" cy="211.3" r="0.7"/><circle cx="504.1" cy="240.6" r="0.8"/><circle cx="452.1" cy="242.4" r="0.9"/><circle cx="406.4" cy="21.1" r="0.9"/><circle cx="385.8" cy="14.2" r="0.7"/><circle cx="445.2" cy="105.6" r="0.9"/><circle cx="456.1" cy="246.8" r="0.9"/><circle cx="391.4" cy="17.9" r="0.8"/><circle cx="487.4" cy="248.5" r="0.7"/><circle cx="449.4" cy="231.5" r="0.8"/><circle cx="455.6" cy="257.2" r="0.9"/><circle cx="512.8" cy="239.6" r="0.9"/><circle cx="461.3" cy="264.7" r="0.9"/><circle cx="461.7" cy="264.8" r="0.7"/><circle cx="390.6" cy="16.6" r="0.8"/><circle cx="510.8" cy="241.5" r="0.5"/><circle cx="455.4" cy="237.7" r="0.7"/><circle cx="462.2" cy="262.9" r="0.5"/><circle cx="452.7" cy="150.0" r="0.9"/><circle cx="502.8" cy="238.0" r="0.7"/><circle cx="460.8" cy="259.0" r="0.9"/><circle cx="449.6" cy="151.3" r="0.9"/><circle cx="453.9" cy="220.3" r="0.8"/><circle cx="510.3" cy="237.7" r="0.7"/><circle cx="452.1" cy="218.5" r="0.5"/><circle cx="445.9" cy="105.2" r="0.9"/><circle cx="473.9" cy="152.6" r="0.9"/><circle cx="464.2" cy="196.9" r="0.9"/><circle cx="442.7" cy="159.9" r="0.9"/><circle cx="429.3" cy="101.0" r="0.8"/><circle cx="461.5" cy="267.4" r="0.4"/><circle cx="480.6" cy="252.7" r="0.7"/><circle cx="458.3" cy="265.1" r="0.7"/><circle cx="409.8" cy="60.0" r="0.8"/><circle cx="484.7" cy="249.9" r="0.7"/><circle cx="508.1" cy="240.9" r="0.8"/><circle cx="400.2" cy="97.7" r="0.8"/><circle cx="503.0" cy="239.4" r="0.9"/><circle cx="452.5" cy="216.4" r="0.9"/><circle cx="413.9" cy="60.0" r="0.9"/><circle cx="406.4" cy="59.2" r="0.9"/><circle cx="451.5" cy="235.0" r="0.9"/><circle cx="453.6" cy="226.8" r="0.4"/><circle cx="465.3" cy="263.1" r="0.9"/><circle cx="467.0" cy="204.2" r="0.7"/><circle cx="462.5" cy="256.7" r="0.9"/><circle cx="450.4" cy="231.7" r="0.8"/><circle cx="508.3" cy="236.4" r="0.9"/><circle cx="457.5" cy="258.2" r="0.9"/><circle cx="501.0" cy="242.6" r="0.9"/><circle cx="503.4" cy="239.8" r="0.7"/><circle cx="404.4" cy="59.4" r="0.8"/><circle cx="482.0" cy="249.1" r="0.6"/><circle cx="445.8" cy="157.3" r="0.6"/><circle cx="502.6" cy="241.8" r="0.8"/><circle cx="465.5" cy="260.9" r="0.6"/><circle cx="406.9" cy="44.3" r="0.9"/><circle cx="453.4" cy="219.6" r="0.9"/><circle cx="467.4" cy="258.5" r="0.8"/><circle cx="480.3" cy="252.0" r="0.9"/><circle cx="416.6" cy="24.5" r="0.6"/><circle cx="463.6" cy="261.8" r="0.9"/><circle cx="483.2" cy="248.2" r="0.6"/><circle cx="468.6" cy="258.3" r="0.7"/><circle cx="490.4" cy="244.6" r="0.6"/><circle cx="510.6" cy="239.5" r="0.7"/><circle cx="480.8" cy="247.5" r="0.5"/><circle cx="382.2" cy="11.7" r="0.7"/><circle cx="453.5" cy="234.6" r="0.6"/><circle cx="450.7" cy="222.9" r="0.9"/><circle cx="460.4" cy="267.8" r="0.9"/><circle cx="483.0" cy="250.2" r="0.4"/><circle cx="396.6" cy="92.7" r="0.9"/><circle cx="458.8" cy="253.5" r="0.9"/><circle cx="457.4" cy="262.1" r="0.8"/><circle cx="515.3" cy="240.4" r="0.7"/><circle cx="451.6" cy="233.4" r="0.7"/><circle cx="452.7" cy="221.0" r="0.8"/><circle cx="444.4" cy="156.1" r="0.5"/><circle cx="456.1" cy="215.6" r="0.8"/><circle cx="413.4" cy="61.8" r="0.9"/><circle cx="430.6" cy="102.1" r="0.6"/><circle cx="447.0" cy="104.3" r="0.7"/><circle cx="460.7" cy="267.4" r="0.7"/><circle cx="454.3" cy="221.9" r="0.5"/><circle cx="416.2" cy="105.9" r="0.9"/><circle cx="404.8" cy="19.8" r="0.4"/><circle cx="472.1" cy="255.4" r="0.7"/><circle cx="486.6" cy="243.2" r="0.9"/><circle cx="411.5" cy="34.8" r="0.5"/><circle cx="450.8" cy="152.2" r="0.9"/><circle cx="445.7" cy="158.9" r="0.6"/><circle cx="457.0" cy="225.6" r="0.7"/><circle cx="511.9" cy="238.0" r="0.9"/><circle cx="505.8" cy="238.0" r="0.9"/><circle cx="455.7" cy="252.5" r="0.9"/><circle cx="455.3" cy="228.0" r="0.4"/><circle cx="404.5" cy="21.8" r="0.9"/><circle cx="466.0" cy="134.4" r="0.7"/><circle cx="392.5" cy="82.0" r="0.6"/><circle cx="456.9" cy="241.3" r="0.8"/><circle cx="460.7" cy="178.4" r="0.5"/><circle cx="506.4" cy="240.5" r="0.8"/><circle cx="454.0" cy="244.7" r="0.8"/><circle cx="453.0" cy="148.6" r="0.7"/></g><circle cx="403.2" cy="259.3" r=".9"/><circle cx="412.4" cy="258.0" r=".9"/><circle cx="407.2" cy="271.8" r=".9"/><circle cx="415.0" cy="282.2" r=".9"/><circle cx="399.3" cy="288.1" r=".9"/><circle cx="428.1" cy="268.5" r=".9"/><circle cx="521.2" cy="258.7" r=".9"/><circle cx="487.1" cy="290.8" r=".9"/><circle cx="447.8" cy="294.7" r=".9"/><circle cx="471.4" cy="292.7" r=".9"/></g></g><g id="over"><g clip-path="url(#cf)"><path d="M123.9,90.3 135.6,91.2 151,89 157.2,97.8 158.8,108.9 156.6,122.1 159.9,133.1 173.1,138.7 188.6,137.6 194.1,127.6 210.6,115.5 226.1,103.3 232.7,106.7 241.5,115.5 250.3,119.9 259.2,123.2 270.2,124.3 281.2,121 290.1,126.5 298.9,130.9 305.5,128.3 307.3,133.1 302.2,139.8 297.1,151.2 287.9,153.4 283.5,146.4 274.6,147.5 265.8,155.2 250.3,160.7 237.1,166.2 230.5,172.9 221.7,183.9 210.6,185 202.2,190.5 199.6,203.8 197.4,201.9 184.1,215.1 179.7,228.4 166.5,243.8 165.4,252.7 177.5,259.3 186.3,265.9 197.4,272.5 204,275.8 208.4,278 212.8,290.2 217.2,305.6 223.9,323.3 230.5,338.7 234.9,352 233.8,358.6 248.1,369.6 257,382.9 265.8,389.5 272.4,396.1 274,404.9 271.3,413.8 266.2,420.4 269.1,431.4 272.9,439.1 272.9,442.1 518.6,442.1 518.6,241 515.9,241 504.1,242.3 495,244.9 484.5,250.1 472.7,258 464.8,264.6 459.6,269.8 455.7,259.3 451.7,246.2 449.1,233.1 450.4,220 454.3,206.9 451.7,222.5 455.7,214.7 462.2,208.1 464.8,201.6 460.9,195 458.3,185.8 455.7,175.3 454.3,162.2 449.1,162.2 441.2,159.6 446.5,151.8 454.3,146.5 462.2,146.5 468.8,153.1 472.7,150.5 467.5,140 464.8,130.8 462.2,122.9 460.9,115.1 455.7,107.2 449.1,104.6 441.2,108.5 432.1,104.6 425.5,98 420.3,96.7 417.7,107.2 408.5,109.8 403.2,103.3 399.3,98 404.6,94.1 395.4,92.8 382.3,91.5 387.5,89.5 391.5,83.6 395.4,75.8 398,69.2 409.8,65.3 416.3,63.3 404.6,60 401.9,54.8 404.6,46.9 409.8,36.5 411.1,27.3 417.7,18.1 412.4,19.4 404.6,22 396.7,20.7 391.5,18.1 386.2,14.2 381,15.5 373.1,8.9 366.6,3.7 365.1,5.1 345.2,9.6 325.4,12.9 305.5,22.8 290.1,29.4 274.6,42.7 261.4,53.7 250.3,58.1 242.6,60.3 243.7,53.7 257,47.1 265.8,36 261.4,30.5 250.3,25 257,16.2 259.2,7.3 257.4,-1.5 257.4,-3 197.4,-3 197.4,-1.5 195.2,1.8 179.7,6.2 170.9,16.2 166.5,27.2 162.1,34.9 151,41.6 137.8,47.1 129,44.9 124.1,39.3 123.9,39.7 117.2,38.2 111,41.7 109,49 103.8,55.2 100.3,63.5 101.7,73.8 106.9,82.1 115.2,88.3 123.9,90.3Z" fill="none" stroke="#262626" stroke-opacity=".75" stroke-width=".7"/><path d="M518.6,-3 515.4,-3 509.4,5 497.6,8.9 495,18.1 495,27.3 489.7,36.5 495,40.4 504.1,43 510.7,49.6 516.6,54.8 518.6,54.8Z" fill="none" stroke="#262626" stroke-opacity=".75" stroke-width=".7"/></g><g stroke="#000" stroke-opacity=".42" stroke-width="1.3"><line x1="197.8" y1="0" x2="197.8" y2="439.1"/><line x1="395.6" y1="0" x2="395.6" y2="439.1"/><line x1="0" y1="97.4" x2="515.6" y2="97.4"/><line x1="0" y1="194.9" x2="515.6" y2="194.9"/><line x1="0" y1="292.3" x2="515.6" y2="292.3"/><line x1="0" y1="389.8" x2="515.6" y2="389.8"/></g><path d="M-2.8,-2.8H518.4V441.9H-2.8ZM0.9,0.9V438.2H514.7V0.9Z" fill="#e9e9e9" fill-rule="evenodd" stroke="#909090" stroke-width=".7"/><g fill="#000"><rect x="39.6" y="-2.8" width="39.6" height="3.7"/><rect x="39.6" y="438.2" width="39.6" height="3.7"/><rect x="118.7" y="-2.8" width="39.6" height="3.7"/><rect x="118.7" y="438.2" width="39.6" height="3.7"/><rect x="197.8" y="-2.8" width="39.6" height="3.7"/><rect x="197.8" y="438.2" width="39.6" height="3.7"/><rect x="276.9" y="-2.8" width="39.6" height="3.7"/><rect x="276.9" y="438.2" width="39.6" height="3.7"/><rect x="356.0" y="-2.8" width="39.6" height="3.7"/><rect x="356.0" y="438.2" width="39.6" height="3.7"/><rect x="435.2" y="-2.8" width="39.6" height="3.7"/><rect x="435.2" y="438.2" width="39.6" height="3.7"/><rect x="-2.8" y="0.9" width="3.7" height="47.8"/><rect x="514.7" y="0.9" width="3.7" height="47.8"/><rect x="-2.8" y="97.4" width="3.7" height="48.7"/><rect x="514.7" y="97.4" width="3.7" height="48.7"/><rect x="-2.8" y="194.9" width="3.7" height="48.7"/><rect x="514.7" y="194.9" width="3.7" height="48.7"/><rect x="-2.8" y="292.3" width="3.7" height="48.7"/><rect x="514.7" y="292.3" width="3.7" height="48.7"/><rect x="-2.8" y="389.8" width="3.7" height="48.4"/><rect x="514.7" y="389.8" width="3.7" height="48.4"/></g></g><g id="axl" font-size="29.6" font-weight="bold" font-style="italic" fill="#000"><text x="-10.5" y="9.3" text-anchor="end">40°N</text><text x="-10.5" y="106.7" text-anchor="end">38°N</text><text x="-10.5" y="204.2" text-anchor="end">36°N</text><text x="-10.5" y="301.6" text-anchor="end">34°N</text><text x="-10.5" y="399.1" text-anchor="end">32°N</text><text x="0.8" y="472.5" text-anchor="middle">115°E</text><text x="198.6" y="472.5" text-anchor="middle">120°E</text><text x="396.4" y="472.5" text-anchor="middle">125°E</text><text transform="translate(538.1,361.2) rotate(-90)" font-size="17.8" text-anchor="middle">Ocean Data View</text></g><g id="st" fill="#111"><circle cx="191.1" cy="22.4" r="1.5"/><circle cx="222.0" cy="19.1" r="1.5"/><circle cx="186.6" cy="33.4" r="1.5"/><circle cx="207.6" cy="32.3" r="1.5"/><circle cx="233.0" cy="34.5" r="1.5"/><circle cx="185.5" cy="41.2" r="1.5"/><circle cx="193.3" cy="45.6" r="1.5"/><circle cx="201.0" cy="41.2" r="1.5"/><circle cx="212.0" cy="43.4" r="1.5"/><circle cx="229.7" cy="48.9" r="1.5"/><circle cx="156.9" cy="48.9" r="1.5"/><circle cx="184.4" cy="55.5" r="1.5"/><circle cx="156.9" cy="65.4" r="1.5"/><circle cx="173.4" cy="66.5" r="1.5"/><circle cx="164.6" cy="74.3" r="1.5"/><circle cx="159.1" cy="82.0" r="1.5"/><circle cx="175.6" cy="82.0" r="1.5"/><circle cx="190.0" cy="80.9" r="1.5"/><circle cx="204.3" cy="80.9" r="1.5"/><circle cx="226.4" cy="80.9" r="1.5"/><circle cx="160.2" cy="86.4" r="1.5"/><circle cx="165.7" cy="94.1" r="1.5"/><circle cx="195.5" cy="97.4" r="1.5"/><circle cx="209.8" cy="97.4" r="1.5"/><circle cx="173.4" cy="100.7" r="1.5"/><circle cx="174.5" cy="109.6" r="1.5"/><circle cx="246.2" cy="91.9" r="1.5"/><circle cx="250.6" cy="77.6" r="1.5"/><circle cx="244.0" cy="101.8" r="1.5"/><circle cx="277.1" cy="61.0" r="1.5"/><circle cx="316.9" cy="61.0" r="1.5"/><circle cx="345.5" cy="61.0" r="1.5"/><circle cx="341.1" cy="37.8" r="1.5"/><circle cx="323.5" cy="45.6" r="1.5"/><circle cx="277.1" cy="87.5" r="1.5"/><circle cx="305.8" cy="86.4" r="1.5"/><circle cx="326.8" cy="89.7" r="1.5"/><circle cx="277.1" cy="111.8" r="1.5"/><circle cx="295.9" cy="111.8" r="1.5"/><circle cx="312.4" cy="110.7" r="1.5"/><circle cx="310.2" cy="127.2" r="1.5"/><circle cx="331.2" cy="126.1" r="1.5"/><circle cx="342.2" cy="126.1" r="1.5"/><circle cx="303.6" cy="147.1" r="1.5"/><circle cx="324.6" cy="146.0" r="1.5"/><circle cx="344.4" cy="146.0" r="1.5"/><circle cx="315.8" cy="172.5" r="1.5"/><circle cx="237.4" cy="195.6" r="1.5"/><circle cx="263.9" cy="195.6" r="1.5"/><circle cx="290.4" cy="195.6" r="1.5"/><circle cx="336.7" cy="195.6" r="1.5"/><circle cx="355.5" cy="195.6" r="1.5"/><circle cx="263.9" cy="218.8" r="1.5"/><circle cx="290.4" cy="218.8" r="1.5"/><circle cx="336.7" cy="218.8" r="1.5"/><circle cx="237.4" cy="243.4" r="1.5"/><circle cx="263.9" cy="243.4" r="1.5"/><circle cx="290.4" cy="243.4" r="1.5"/><circle cx="316.9" cy="243.4" r="1.5"/><circle cx="355.5" cy="243.4" r="1.5"/><circle cx="252.9" cy="292.0" r="1.5"/><circle cx="277.1" cy="292.0" r="1.5"/><circle cx="303.6" cy="292.0" r="1.5"/><circle cx="320.2" cy="292.0" r="1.5"/><circle cx="331.2" cy="292.0" r="1.5"/><circle cx="277.1" cy="341.6" r="1.5"/><circle cx="303.6" cy="341.6" r="1.5"/><circle cx="336.7" cy="341.6" r="1.5"/><circle cx="355.5" cy="341.6" r="1.5"/><circle cx="277.1" cy="365.9" r="1.5"/><circle cx="297.0" cy="390.2" r="1.5"/><circle cx="316.9" cy="390.2" r="1.5"/><circle cx="336.7" cy="390.2" r="1.5"/><circle cx="355.5" cy="390.2" r="1.5"/></g><linearGradient id="cb" x1="0" y1="0" x2="0" y2="1"><stop offset="0.000" stop-color="#fbb582"/><stop offset="0.052" stop-color="#f08070"/><stop offset="0.084" stop-color="#e05060"/><stop offset="0.108" stop-color="#d82840"/><stop offset="0.132" stop-color="#d82020"/><stop offset="0.156" stop-color="#dc2414"/><stop offset="0.180" stop-color="#e83808"/><stop offset="0.200" stop-color="#f85008"/><stop offset="0.220" stop-color="#ff7800"/><stop offset="0.244" stop-color="#ff9c00"/><stop offset="0.268" stop-color="#ffb400"/><stop offset="0.292" stop-color="#ffc800"/><stop offset="0.324" stop-color="#f0cc00"/><stop offset="0.356" stop-color="#d0cc08"/><stop offset="0.400" stop-color="#a8c808"/><stop offset="0.424" stop-color="#80bc08"/><stop offset="0.456" stop-color="#58b008"/><stop offset="0.488" stop-color="#38a810"/><stop offset="0.520" stop-color="#20a820"/><stop offset="0.556" stop-color="#10b030"/><stop offset="0.588" stop-color="#08c058"/><stop offset="0.600" stop-color="#08c868"/><stop offset="0.628" stop-color="#00d088"/><stop offset="0.654" stop-color="#00d0a0"/><stop offset="0.678" stop-color="#08c8c0"/><stop offset="0.702" stop-color="#10b8e0"/><stop offset="0.726" stop-color="#10a8f8"/><stop offset="0.752" stop-color="#2098f0"/><stop offset="0.776" stop-color="#2888f0"/><stop offset="0.800" stop-color="#4078f8"/><stop offset="0.824" stop-color="#5868f8"/><stop offset="0.848" stop-color="#6058f8"/><stop offset="0.872" stop-color="#6048ff"/><stop offset="0.896" stop-color="#6c3cff"/><stop offset="0.920" stop-color="#8038ff"/><stop offset="0.944" stop-color="#a040ff"/><stop offset="0.968" stop-color="#c050ff"/><stop offset="1.000" stop-color="#dc6cff"/></linearGradient></defs>
<g transform="translate(93.1,63.1)">
<use href="#base"/>
<g clip-path="url(#csea)"><g clip-path="url(#cenv)">
<g filter="url(#bl)"><rect x="105" y="-13" width="310" height="454" fill="#f5cb00"/><path fill="#fcc900" d="M110-8l300 0 0 444-300 0zM299 152l-3 2 0 3 1 3 5 3 3-3 0-3-3-5z"/><path fill="#ffc200" d="M110-8l300 0 0 444-300 0zM242 112l-1 3 1 6 3 4 3 1 3-2-1-6-5-6zM296 147l-5 4-2 6 1 4 5 5 4 1 6 0 4-4-1-9-5-6z"/><path fill="#ffb600" d="M110-8l300 0 0 444-300 0zM242 103l-3 0-3 3-1 3-1 6 2 9 3 7 3 4 3 2 6 1 4-2 3-3 0-6-1-6-6-11-4-4zM263 284l-3 4 0 5 3 4 3 1 3 0 3-3 1-6-4-4-3-1zM293 144l-6 4-2 3-1 9 2 6 5 3 5 1 6 0 6-1 3-6 0-6-3-8-6-4z"/><path fill="#ffa900" d="M110-8l300 0 0 444-300 0zM236 98l-4 5-2 9 1 9 3 12 5 9 6 5 6 1 6-1 6-4 2-4 0-6-4-12-7-12-6-7-6-4zM290 142l-9 3-2 3 1 15 3 6 4 3 6 1 9 0 6-2 3-2 2-6-1-9-3-6-2-3-5-3zM254 276l-3 4-1 6 1 6 3 6 3 3 6 3 6 1 3-1 3-3 3-6 0-6-3-7-6-5-6-3-6 0z"/><path fill="#ff9b00" d="M110-8l300 0 0 444-300 0zM233 93l-3 4-2 6-1 16 4 20 8 15 6 5 6 1 18-5 3 2 4 12 3 3 5 2 18 1 9-3 3-6 1-6-2-9-4-6-4-3-6-2-18-1-6-2-4-4-10-18-10-14-9-7-6-2zM245 255l-4 16-1 9 1 9 2 6 5 7 9 6 9 2 6-1 3-2 5-6 1-6 0-8-3-7-6-8-21-18-3-1z"/><path fill="#ff8600" d="M110-8l300 0 0 444-300 0zM230 87l-3 4-2 6-1 18 2 18 6 30 0 9-2 6-7 12-20 25-4 11 0 12 3 9 3 6 15 18 4 6 7 21 5 6 4 3 11 4 12 3 6 0 9-4 5-6 2-9-1-9-3-9-15-21-4-24-5-6-9-6-5-6-3-12 2-15 3-6 3-3 6-4 9-2 6 0 9 4 9 1 12 0 9-1 5-4 2-3 1-6 0-6-3-9-5-6-9-4-15-3-6-2-6-5-15-23-9-10-12-8z"/><path fill="#fd6f02" d="M110-8l300 0 0 444-300 0zM230 81l-3 1-3 5-3 16 0 18 3 33-2 15-7 15-19 24-6 9-6 15-3 18 1 11 2 10 13 36 4 6 7 6 7 3 6 0 24-5 27 1 6-3 6-6 2-5 2-6-1-9-1-9-3-6-10-18-5-27-14-21-1-6 0-9 5-9 8-5 6 0 27 0 12-3 4-4 2-9-1-12-6-9-8-5-18-5-6-3-6-6-21-29-12-10-6-3z"/><path fill="#f85307" d="M110-8l300 0 0 444-300 0zM227 78l-3 3-3 4-2 9-1 18 1 39-3 15-8 15-24 30-11 18-11 27-6 27 0 12 1 9 2 9 5 8 7 7 8 6 9 3 9 2 12 0 9-1 21-11 9-3 27-2 6-3 6-6 3-6 1-6-2-21-3-9-8-15-5-27-2-6-9-15-2-6 1-6 2-6 2-3 7-4 6-1 24-1 9-3 6-6 2-6-2-15-2-6-4-4-9-6-15-4-7-4-8-8-16-22-8-9-12-9-6-1z"/><path fill="#ee4108" d="M110-8l300 0 0 444-300 0zM227 75l-6 5-4 11-1 18 0 36-2 12-3 9-10 15-30 33-19 27-20 33-5 12-3 12-2 12 1 9 3 9 3 6 5 6 8 6 10 5 9 3 15 2 15 0 15-2 15-4 9-4 14-12 6-3 7-2 18-2 6-2 6-5 3-4 4-9 1-9-2-21-11-24-6-27-9-21 0-9 3-6 8-5 27-3 6-2 4-2 3-3 2-6 0-6-2-12-4-9-6-5-21-9-9-6-9-10-15-21-12-12-9-5z"/><path fill="#e5330b" d="M134-5l2-3 274 0 0 444-300 0 0-62 21 4 18 0 21-2 24-5 18-6 18-8 9-5 15-14 6-3 21-4 6-4 5-5 5-9 3-9-2-27-3-9-8-18-7-24-7-18-1-9 2-6 3-3 4-2 24-4 9-3 6-6 2-9-3-18-5-8-9-7-16-6-8-5-9-9-15-22-12-13-9-6-6-2-3 1-6 5-4 6-2 6-2 12-1 45-3 12-6 12-15 18-34 33-38 38-6 5 0-254 9-4z"/><path fill="#de2712" d="M163-5l1-3 246 0 0 444-300 0 0-21 39-11 42-18 45-24 9-7 12-11 6-2 21-5 6-4 6-5 5-9 4-12 1-9-2-18-3-12-11-23-11-31-2-9 0-6 3-6 4-3 30-6 6-6 3-6 0-9-2-12-2-6-4-6-10-7-15-7-6-4-12-12-15-22-12-13-9-6-6-2-3 0-6 4-8 15-2 12-2 45-3 12-6 12-12 14-18 15-36 26-18 12-6 3 0-196 6-4 16-14 21-15zM143 69l-3 3-1 4 1 6 3 5 6 4 6 0 3-2 3-3 1-4-2-6-2-3-6-3-6-1z"/><path fill="#da2219" d="M181-8l229 0 0 444-262 0 5-6 83-61 21-18 9-4 21-4 9-4 6-7 7-13 5-12 2-9-1-12-4-15-4-9-20-35-5-13-1-9 1-6 5-5 27-7 7-6 3-6 1-6-3-21-3-6-8-8-21-11-10-8-8-9-12-19-9-11-9-9-9-6-6-1-6 3-3 3-7 16-2 12-2 33-1 15-4 12-8 12-15 15-21 14-27 14-21 7 0-134 12 3 15 9 9 4 9-1 8-6 3-6-1-9-4-7-18-17-2-3 0-6 2-6 5-6 16-13 5-5zM365 328l-3 2-3 4-1 6 0 9 4 9 3 3 3 1 6 0 6-3 3-4 1-3 0-6-2-6-5-6-6-5z"/><path fill="#d82020" d="M193-5l1-3 216 0 0 339-27-27-6-4-12-5-21-4-6-3-6-7-22-31-17-20-6-13-1-6 1-7 3-5 3-2 10-4 14-3 6-6 3-6 1-6-3-24-3-6-7-8-9-6-15-8-9-8-8-9-13-21-24-30-6-2-9 2-6 4-2 5-7 30-1 33-2 15-4 12-8 12-15 13-21 11-24 9-21 3 0-96 30 2 9-1 9-3 8-7 3-6 1-9-1-6-11-18-2-6 1-6 4-7 15-14zM329 310l6-1 3 1 3 2 6 7 3 9 1 15-2 12-3 9-5 5-11 4-3 3-4 60-140 0 6-9 21-24 47-46 9-5 12-2 9-1 15 1 3 0 2-4 5-15 5-9 6-8zM408 370l2-2 0 68-31 0-5-33 1-9 5-5 18-10z"/><path fill="#d82533" d="M206-8l204 0 0 189-18-7-12-2-21 6-6 3-6 6-2 6 1 3 14 18 4 6 2 9 0 9-2 9-3 6-5 4-6 1-6 0-12-6-33-24-6-8-1-6 1-4 3-2 15-3 9 2 3-2 1-6 4-12 2-9 0-6-5-24-2-6-5-6-10-8-18-10-13-15-27-42-2-9 1-15-1-2-3-1-3 0-27 12-6 4-3 5-1 18-3 21-1 39-5 15-8 11-6 6-9 6-9 5-12 4-21 3-21-2 0-60 15-5 27-7 9-5 8-7 5-9 1-9-1-6-7-15-1-6 2-6 3-6 11-12 11-18 9-12zM328 325l4-1 6 2 3 2 3 6 1 9-2 6-2 3-6 3-6 0-3-2-4-4-2-6 0-9 3-5zM273 355l11-1 9 3 11 13 7 12 4 12 1 12-2 12-5 18-102 0 4-9 8-15 19-27 21-24 7-4z"/><path fill="#d92e45" d="M218-8l192 0 0 175-18-2-12 0-24 5-15 6-3 0-3-2-6-15-3-14-3-6-12-11-16-10-7-6-10-12-18-30-4-12 2-21-1-7-3-8-3-3-3 0-18 13-9 4-15 5-5 2-2 3-1 9 2 21-2 51-4 15-6 11-6 5-9 6-9 4-9 2-9 1-9-1-9-2-7-5-4-6-1-6 0-6 3-6 4-6 7-6 31-17 13-13 5-9 1-9-4-21 0-6 4-6 10-9 10-24zM334 340l1 0zM274 358l10 0 6 3 2 3 9 15 5 15 2 9 0 9-3 8-8 16-69 0 1-9 3-12 5-12 6-12 17-25 6-5z"/><path fill="#de4658" d="M266-5l0-3 144 0 0 165-24 2-45 8-3 0-3-3-3-5-3-14-4-6-14-14-16-10-5-5-9-13-17-30-2-6 0-6 2-21 0-24zM220 1l7-1 6 3 3 7 0 6-3 6-6 5-9 3-6 0-4-2-2-3 0-6 2-6 4-6zM187 88l1-2 3 0 3 17 1 12-1 18-6 12-9 9-12 6-9 1-6 0-6-1-5-3-3-3-3-6 1-6 2-6 8-9 29-24 9-9zM275 361l6 0 3 1 3 2 4 6 8 30 1 12-3 6-4 5-16 13-22 0-6-9-2-6-1-9 3-12 5-15 8-15 6-6z"/><path fill="#e45b64" d="M277-8l133 0 0 155-39 10-27 3-6-1-3-3-5-14-4-6-15-14-17-13-16-27-7-15-3-9 0-12 3-24zM219 10l5-1 3 2 1 2-1 6-3 3-3 1-5-1-2-3 1-5zM177 109l5-3 3 0 3 3 3 12-1 9-2 6-6 9-6 4-9 3-10-1-4-3-2-3-1-6 2-6 10-12zM270 367l5-3 6 1 5 5 1 6 0 15 2 12-1 6-4 4-9 2-6 0-3-2-4-4-1-6 0-9 4-18 3-6z"/><path fill="#eb706b" d="M286-5l1-3 123 0 0 145-9 3-24 11-6 1-24 1-6-1-3-2-9-14-28-27-11-16-7-14-5-12-3-15 0-12 2-15zM173 118l6-2 4 2 2 6 0 6-3 6-3 3-6 3-6 0-4-3-1-6 4-9zM274 373l4-1 0 5-3 1z"/><path fill="#f18371" d="M298-8l112 0 0 132-15 7-21 13-6 2-6 0-12-1-6-2-24-20-10-14-6-12-8-9-6-9-4-9-5-21 0-12 3-12z"/><path fill="#f49276" d="M311-8l99 0 0 116-18 8-15 8-12 9-6 1-9 0-6-2-10-5-8-6-2-6-1-9-1-3-7-9-15-15-4-6-4-9-4-18-1-9 4-12z"/><path fill="#f7a07b" d="M328-8l82 0 0 96-39 15-9 2-9 0-6-2-24-15-17-15-6-9-3-9-2-12 1-9 6-11 22-25z"/><path fill="#faae80" d="M356-8l54 0 0 69-25 12-17 6-15 3-15-1-12-5-14-12-5-9 0-12 1-5 3-4z"/></g><path d="M239 104l-3 4-1 4 1 9 2 6 4 6 3 2 3 1 4 0 4-3 1-3 0-6-2-6-7-11-6-3zM293 145l-5 3-2 3-1 9 2 5 3 3 6 2 6 0 6-2 2-2 1-6-3-10-3-3-3-2zM266 286l-3 1-1 2 0 3 2 3 2 1 3 0 3-4-1-3-2-2zM230 89l-3 6-2 8 0 18 5 26 6 18 3 6 3 2 3 0 15-5 6 0 13 7 14 2 12-1 3-1 5-3 2-6 1-6-2-9-3-6-4-3-5-3-21-3-5-3-6-6-13-21-9-10-6-5-6-2-3-1zM230 192l-18 18-5 7-3 9 2 13 6 11 12 15 3 5 6 22 5 9 7 6 7 3 11 3 9-1 6-3 5-8 1-9-2-9-4-9-10-12-4-6-2-6-1-12-3-6-4-4-14-5-3-3-2-9-2-18zM230 75l-3 1-4 3-3 6-2 6-1 18 0 39-1 9-3 9-9 15-26 30-16 24-16 30-5 15-3 12-1 12 0 9 3 9 4 6 5 6 9 7 9 4 12 3 9 1 12 0 18-3 9-4 12-9 6-3 9-3 21-2 6-3 6-5 4-7 2-6 0-9-1-15-3-9-9-18-5-27-10-21-1-9 3-6 3-3 5-2 6-2 21-1 9-2 6-5 2-6 1-6-2-12-5-9-8-6-18-7-9-5-8-9-15-21-7-8-9-8-6-2zM110 63l9 0 3 1 14 21 7 7 3 2 6 1 6-3 3-2 3-5 0-3 0-3-3-6-6-5-6-4-20-6-2-3 0-6 3-9 4-6 8-9 20-15 8-12 3-6M365 342l0 2 3 2 1-3-1-2zM114 436l9-6 44-23 42-24 30-20 21-17 27-7 6-3 6-7 6-10 4-12 1-9-1-12-2-12-4-9-13-26-6-16-4-12-1-9 2-6 3-3 6-2 21-5 6-3 3-3 3-5 1-6-3-21-3-6-7-7-6-4-18-9-8-7-7-8-15-22-15-16-9-5-6 0-3 1-6 6-6 14-2 12-1 33-2 12-3 12-7 12-12 13-21 16-30 19-18 10-6 2M110 129l15-8 30-11 9-6 7-7 4-9 1-9-1-6-5-15 0-9 3-6 12-13 9-17 12-15 4-6M410 175l-21-5-12 0-18 5-6 2-6 4-9 7-3 1-2-5-2-12-5-24-2-6-5-6-8-7-21-13-12-13-24-39-3-9 2-15-1-6-1-3-3-2-3 0-18 9-15 7-6 4-2 3-1 6 1 15-3 21-1 36-4 15-8 12-9 8-9 5-9 4-12 3-12 1-9 0-9-2-9-4M335 208l3-3 3 0 3 2 8 7 4 9 1 9-2 6-2 3-6 4-6 1-9-3-18-13-15-7-3-3-1-3 1-3 3-1 6 1 12 6 6 0 6-4zM326 331l6-3 3 1 3 1 3 4 1 3 0 6-1 3-3 4-3 1-3 0-3-1-4-4-2-3 0-6zM215 436l5-15 7-15 10-15 16-21 7-8 6-4 6-2 9-1 6 1 7 5 10 15 7 15 2 12-1 9-7 24M218 13l3-2 3 1 1 1 1 3-2 3-3 2-3-1-1-4zM181 109l4 0 3 3 1 6 0 12-4 9-6 6-6 4-9 1-6-2-4-3-1-6 3-9 4-6 7-6 9-7zM410 145l-9 2-30 9-30 2-3-1-3-3-4-12-4-6-19-17-13-10-8-13-9-16-6-13-2-9 0-12 2-21 7-33M272 367l6-2 3 1 3 4 2 6-3 15 1 12-3 5-6 2-6-1-3-4-2-5 0-9 3-15 2-6zM410 106l-6 2-18 8-12 7-9 7-6 2-6 0-9-1-9-4-7-6-2-3 0-12-2-3-7-9-13-12-5-6-6-12-4-18-1-9 4-12 4-8 16-25" fill="none" stroke="#181818" stroke-opacity="0.6" stroke-width="0.75"/><g font-size="21" font-weight="bold" font-style="italic" fill="#000"><text transform="translate(175.3,44.9) rotate(-25)" y="7.6" text-anchor="middle">27</text><text transform="translate(250.3,12.9) rotate(-15)" y="7.6" text-anchor="middle">2</text><text transform="translate(345.2,104.5) rotate(5)" y="7.6" text-anchor="middle">29</text><text transform="translate(301.1,144.2) rotate(-10)" y="7.6" text-anchor="middle">3</text><text transform="translate(261.4,164.0) rotate(-8)" y="7.6" text-anchor="middle">25</text><text transform="translate(336.4,197.1) rotate(-10)" y="7.6" text-anchor="middle">27</text><text transform="translate(292.3,230.6) rotate(-20)" y="7.6" text-anchor="middle">27</text><text transform="translate(338.6,315.6) rotate(25)" y="7.6" text-anchor="middle">27</text><text transform="translate(277.9,352.0) rotate(-8)" y="7.6" text-anchor="middle">27</text></g>
</g></g>
<use href="#st"/>
<use href="#over"/>
<use href="#axl"/>
<path d="M552.2,0L567.5,-6.8L582.7,0Z" fill="#fbb582" stroke="#b08050" stroke-width=".8"/><path d="M552.2,439.1L567.5,445.6L582.7,439.1Z" fill="#e070ff" stroke="#8030a0" stroke-width=".8"/><rect x="552.2" y="0" width="30.5" height="439.1" fill="url(#cb)"/><path d="M552.5,0V439.1M582.4,0V439.1" stroke="#000" stroke-opacity=".35" stroke-width="1.2" fill="none"/><path d="M552.2,439.1h6.3M582.7,439.1h-6.3M552.2,351.3h6.3M582.7,351.3h-6.3M552.2,263.5h6.3M582.7,263.5h-6.3M552.2,175.6h6.3M582.7,175.6h-6.3M552.2,87.8h6.3M582.7,87.8h-6.3M552.2,0.0h6.3M582.7,0.0h-6.3" stroke="#000" stroke-width="2" fill="none"/><g font-size="29.4" font-weight="bold" font-style="italic" fill="#000"><text x="589.0" y="448.4">5</text><text x="589.0" y="360.6">10</text><text x="589.0" y="272.8">15</text><text x="589.0" y="184.9">20</text><text x="589.0" y="97.1">25</text><text x="589.0" y="9.3">30</text></g>
</g>
<text x="4.6" y="30.3" font-size="36.4" font-weight="bold">A</text><text x="612.0" y="26.4" text-anchor="end" font-size="38.6" font-weight="bold" font-style="italic">Temperature @ surface</text>
<g transform="translate(825.8,49.9)">
<use href="#base"/>
<g clip-path="url(#csea)"><g clip-path="url(#cenv)">
<g filter="url(#bl)"><rect x="105" y="-13" width="310" height="454" fill="#aa45ff"/><path fill="#973eff" d="M110-8l300 0 0 444-300 0zM263 180l-2 1-1 3 1 3 2 1 3-4z"/><path fill="#8539ff" d="M110-8l300 0 0 444-300 0zM260 178l-2 3-1 3 3 6 3 2 3-2 2-3-1-6-2-3-2-1zM335 109l-2 6 0 6 2 3 3 2 3 0 3-5-1-6-2-4-3-2zM365 166l-6 4-2 5 0 3 2 4 3 0 3-2 6-8 0-7-3 0z"/><path fill="#773aff" d="M110-8l300 0 0 444-300 0zM263 175l-3 0-3 3-1 6 2 6 2 3 3 1 3-1 3-3 1-6-2-6zM329 96l-2 1 0 3 4 24 4 6 9 9 3 9 0 9-8 33 0 6 1 3 7 5 9 3 9-1 15-3 6-5 6-7 4-7 4-9 1-15-4-15-6-9-8-7-6-2-15-2-6-2-9-14-12-10z"/><path fill="#6c3cff" d="M110-8l300 0 0 152-13-14-7-6-7-4-21-6-30-22-3-2-6 0-4 1 0 3 6 12 4 20 10 16 2 9-1 9-6 21-5 9-7 9-1 3 2 4 30 22 11 4 10 1 9-1 9-6 6-6 12-19 0 235-300 0zM257 175l-3 6 2 9 4 5 3 1 3 0 3-3 2-6 0-6-1-3-2-3-5-2-3 0z"/><path fill="#6543ff" d="M110-8l300 0 0 140-20-14-34-14-9-5-16-11-8-2-15 1 0 1 8 9 6 9 4 18 8 15 3 12-3 18-5 12-6 7-13 8-3 3-1 3 3 6 15 15 9 15 5 3 9 3 15 1 18-4 15-7 15-13 0 215-300 0zM260 171l-3 1-3 4-1 5 1 6 2 6 3 3 4 3 3-1 3-1 2-4 2-6 0-6-4-7-3-2z"/><path fill="#604bfe" d="M110-8l300 0 0 132-21-12-39-14-20-13-34-4-9-4-3 2 4 3 8 2 15 11 5 5 5 9 5 18 7 18 1 6-1 9-4 12-3 7-6 7-18 10-5 6 0 3 2 4 12 11 4 6 6 15 4 6 7 4 27 2 6 0 24-9 21-12 0 204-300 0zM257 170l-3 3-2 5 0 6 2 8 3 5 3 2 6 2 3-1 3-3 2-4 1-9-1-6-2-3-6-5-6-1z"/><path fill="#6054fa" d="M110-8l300 0 0 126-21-10-39-13-15-10-6-2-15-2-12-3-18-9-4 1-2 2-1 4 1 4 3 4 18 5 9 6 5 5 6 9 4 15 7 18 1 6-1 9-2 12-5 9-6 6-23 12-7 6 0 3 4 6 16 15 6 15 5 9 5 5 6 4 18-2 15 2 27-9 21-11 0 197-300 0zM257 168l-4 4-3 6 0 6 3 9 4 6 3 3 6 2 6-1 4-4 1-15-1-6-5-6-5-3-6-2z"/><path fill="#5d5df8" d="M110-8l300 0 0 121-34-13-26-7-18-11-18-3-12-4-9-5-12-11-3 0-3 4-2 7 0 6 2 6 3 3 3 2 15 3 9 5 6 5 6 9 11 33 1 9-2 12-5 12-5 6-9 5-21 7-3 1-3-3-2-10-3-6-7-6-6-3-6 0-3 2-4 7-1 6 3 12 5 9 6 4 15 3 6 4 16 16 7 15 7 9 6 7 6 4 6 0 15-3 18 2 24-8 21-9 0 190-300 0z"/><path fill="#5966f8" d="M110-8l300 0 0 116-39-13-21-4-18-11-18-3-11-4-7-4-5-5-7-17-3-2-3 1-5 6-4 9 0 9 3 12 2 3 4 3 18 4 6 3 7 5 4 6 5 9 8 27 0 9-2 12-3 9-4 6-6 4-15 6-6 0-4-1-11-15-9-7-6-1-6 2-3 3-3 6 0 6 2 12 5 9 5 5 15 6 6 4 10 12 17 24 9 10 6 5 6 1 18-4 18 2 24-7 21-9 0 185-300 0z"/><path fill="#4c70f8" d="M110-8l300 0 0 112-42-12-18-3-16-10-18-3-9-3-8-5-4-4-8-22-3-2-6 1-6 5-7 15 0 6 3 12 3 6 4 3 6 3 12 2 6 2 8 5 5 6 4 9 8 24 1 12-3 12-3 9-5 6-9 5-12 2-6-2-10-11-8-6-6-3-6-1-3 2-5 5-2 6-1 6 4 15 4 8 6 6 18 10 27 35 12 13 6 4 9 1 15-4 15 1 6 0 21-6 21-7 0 179-300 0z"/><path fill="#3f79f8" d="M110-8l300 0 0 108-42-11-15-1-6-3-12-7-18-4-9-3-10-7-3-6-4-15-4-6-3-1-6 1-7 6-7 12-3 9 1 6 5 12 5 6 6 3 21 5 6 4 5 6 5 9 7 21 1 12-2 12-3 9-4 6-6 5-6 2-6 1-6-1-18-16-6-4-6-2-6 2-3 2-4 5-2 9 0 6 4 15 5 9 6 6 15 9 39 48 6 5 9 3 18-7 15 2 6-1 21-4 21-7 0 174-300 0z"/><path fill="#3182f3" d="M110-8l300 0 0 104-42-9-15-1-6-3-12-7-18-3-6-2-6-4-6-6-6-20-4-7-5-2-3 1-6 3-4 4-5 7-6 11-2 6 1 6 8 15 5 5 6 3 20 4 5 3 5 6 6 11 5 16 2 12-1 12-2 9-3 6-7 6-6 2-6 0-6-1-21-16-9-4-6 1-4 3-5 6-2 9 0 6 5 18 6 12 3 4 15 9 18 19 17 22 6 9 5 12 3 3 5 1 6-2 9-10 6-3 21 0 18-3 24-8 0 169-300 0z"/><path fill="#268bf0" d="M110-8l300 0 0 101-42-8-15-1-18-10-21-4-6-3-6-6-9-26-3-4-3-2-6 1-10 7-7 9-6 12-2 6 0 6 9 15 6 6 7 3 18 4 6 3 4 5 7 12 5 15 1 12-1 12-2 9-5 7-6 4-9 1-9-3-21-16-6-2-6 1-4 2-5 6-3 6-1 6 8 39 5 5 15 9 21 18 14 19 3 6 5 15 5 7 6 2 6-1 6-2 15-9 21-1 39-14 0 165-300 0z"/><path fill="#2295f0" d="M110-8l300 0 0 97-42-7-15 0-15-8-18-4-8-3-4-3-5-6-8-24-2-4-3-2-3-1-6 0-6 4-6 6-7 9-6 12-2 6 0 7 9 14 6 6 9 5 18 3 6 4 3 3 6 12 5 15 2 12-2 12-2 9-4 6-5 3-9 2-9-4-21-15-6-2-6 0-6 4-3 3-5 9-1 6 4 18-1 21 2 6 4 3 21 10 18 13 15 22 9 23 6 6 9 0 24-6 23-2 37-16 0 160-300 0z"/><path fill="#1a9ef3" d="M110-8l300 0 0 94-42-6-15 0-15-8-18-4-6-2-8-8-10-27-3-4-3-2-3-1-6 1-6 4-6 5-9 12-6 12-2 9 1 6 11 15 5 5 9 4 18 3 7 6 8 16 4 11 1 12-1 12-3 9-4 5-6 3-6 1-9-4-21-14-6-3-6 1-6 3-5 5-5 9-2 9 4 15-1 9-2 12 0 6 1 3 4 3 18 6 9 5 16 10 13 18 10 26 6 7 9 2 24-4 24-1 9-3 21-11 9-3 0 155-300 0z"/><path fill="#12a6f7" d="M110-8l300 0 0 91-45-6-12 0-15-7-21-5-6-4-3-4-6-13-5-16-4-4-3-2-9 1-6 3-6 6-9 12-8 14-2 9 1 6 11 15 7 7 9 3 15 2 5 3 3 3 9 18 3 9 1 15-2 12-4 9-6 3-6 1-9-3-21-15-6-2-6 0-8 4-5 6-9 15-1 6 5 12 0 6-4 18 1 6 1 3 5 4 18 5 12 5 9 4 6 5 6 7 7 12 8 21 3 6 6 6 9 2 21-4 21 0 9 0 9-4 21-11 6-2 0 151-300 0z"/><path fill="#10afed" d="M110-8l300 0 0 87-57-5-12-5-21-5-6-4-4-5-6-12-7-18-2-3-5-2-9 0-6 4-6 6-10 13-8 15-2 9 1 6 10 15 9 8 6 3 18 3 7 4 3 6 8 21 1 18-1 9-3 6-3 3-3 1-6 1-6-1-6-3-18-13-6-2-6 0-6 2-7 6-13 18-3 6 0 3 5 12-1 6-3 15 2 9 3 3 5 3 24 7 15 6 7 5 6 6 7 12 10 25 3 5 6 5 9 2 18-3 24 1 9-1 9-3 27-13 0 147-300 0z"/><path fill="#10b8df" d="M110-8l300 0 0 84-57-5-33-9-6-5-6-9-4-8-5-16-3-4-6-3-6 0-6 3-12 11-9 12-6 12-3 9 1 9 5 9 12 13 9 5 18 3 6 4 10 26 1 15 0 9-2 6-3 3-3 2-6 2-6-2-6-3-15-11-6-3-9-1-9 4-6 6-18 22-1 5 2 15-2 18 3 9 7 7 6 3 21 4 18 8 6 3 6 7 6 10 12 28 4 5 5 4 9 1 18-2 21 2 9 0 12-3 27-13 0 143-300 0z"/><path fill="#0bc2cd" d="M110-8l300 0 0 81-30-1-27-4-30-7-6-4-6-8-5-9-6-18-7-6-6-1-6 1-6 3-9 9-9 13-8 14-2 9 0 9 7 11 12 13 9 4 18 3 6 5 8 24 2 18-1 6-2 6-4 3-6 2-6-1-6-3-15-11-6-4-9-1-9 4-6 5-21 24-1 6-1 15-3 15 0 6 3 6 9 9 8 3 21 3 21 9 6 4 10 14 9 21 5 9 3 4 6 4 9 2 18-2 21 3 9 0 12-3 27-12 0 139-300 0z"/><path fill="#07c9ba" d="M110-8l300 0 0 77-33-1-15-2-15-1-19-4-8-5-6-7-6-9-6-18-6-7-6-2-6 0-6 2-9 8-12 15-8 14-4 12 1 9 8 13 12 12 9 4 15 2 4 2 3 3 7 21 3 21-1 6-4 7-3 2-6 0-9-4-15-11-6-3-9-1-9 3-6 5-18 19-5 7-9 33 0 6 1 6 3 6 4 5 7 4 8 3 21 2 21 8 6 3 5 5 6 9 14 30 5 6 6 4 9 1 12-1 9 0 24 4 15-4 27-10 0 135-300 0z"/><path fill="#02cea8" d="M110-8l300 0 0 74-30 0-18-3-18-1-15-3-7-4-10-12-4-7-6-17-6-7-6-2-6 0-9 5-6 5-12 16-8 13-5 15 1 9 3 7 6 8 12 12 9 4 15 2 6 4 6 20 3 21-1 6-1 3-3 3-7 1-9-3-15-12-6-3-9-1-9 3-9 8-21 22-3 6-8 27-3 12 1 6 2 6 3 3 5 4 15 5 15-1 9 1 21 9 6 3 5 6 6 9 10 21 5 9 6 6 7 3 6 1 18-2 21 5 6 1 12-3 30-11 0 132-300 0z"/><path fill="#00d098" d="M110-8l300 0 0 70-30 1-18-3-18 0-12-2-9-6-9-10-5-8-4-15-4-6-5-4-6-1-6 0-9 4-6 6-12 16-9 15-5 15 1 9 7 13 12 13 9 5 18 3 3 2 2 3 5 18 3 21-1 6-3 4-3 1-6 0-9-5-12-9-9-4-9 0-9 4-21 21-8 9-14 36-3 15 0 6 2 6 2 3 5 3 19 3 24-2 9 3 18 8 6 6 6 9 16 30 6 6 8 4 6 1 18-1 21 6 6 1 42-14 0 129-300 0z"/><path fill="#00d08c" d="M110-8l300 0 0 67-27 1-21-2-18 0-9-2-9-4-12-13-3-6-6-17-6-8-6-3-9 0-9 5-6 5-14 19-7 12-5 15-1 9 2 6 5 9 7 9 7 7 9 5 18 3 4 3 3 15 3 24-1 6-3 3-3 0-6-1-6-4-12-9-9-4-6 0-6 1-9 6-21 20-9 12-15 36-4 15-1 12 2 10 3 4 3 1 48-9 9 1 17 8 7 6 6 7 14 26 6 9 7 6 6 3 6 1 18-2 6 2 15 6 6 1 42-14 0 126-300 0z"/><path fill="#03cd7d" d="M110-8l300 0 0 63-27 2-39-1-9-2-6-3-13-14-4-6-6-18-7-8-6-3-9 1-9 4-6 6-14 18-7 12-6 15-1 12 3 9 6 9 13 15 9 5 15 2 3 1 3 4 2 12 3 27-2 3-3 1-6-1-5-3-13-10-9-4-6 0-6 2-12 7-21 21-9 14-18 39-6 21-3 15 1 6 2 6 4 3 5 1 6-2 12-10 9-4 24-7 6 0 9 2 15 8 6 5 8 10 17 30 8 7 9 4 21-1 6 2 15 7 6 2 6-2 12-6 24-7 0 123-300 0z"/><path fill="#07c96d" d="M110-8l300 0 0 59-27 3-36 0-9-1-7-4-14-14-3-5-6-19-3-5-6-5-6-2-9 1-9 4-6 6-15 21-8 12-5 15-1 12 2 7 6 11 12 14 9 6 6 2 12 2 4 3 2 9 2 24-1 6-4 1-5-1-16-13-9-3-6 0-6 2-6 3-7 5-21 21-10 15-22 42-9 24-3 15 1 9 4 6 7 4 9 1 9-4 11-13 8-6 20-8 6-1 6 0 15 7 9 6 9 11 18 31 6 5 9 5 6 1 18 0 8 3 13 7 6 2 6-1 14-8 22-6 0 120-300 0z"/><path fill="#08c25b" d="M110-8l300 0 0 55-21 3-42 1-6 0-6-2-13-12-5-6-6-20-4-7-5-5-6-3-6 0-6 0-9 5-6 6-19 27-5 9-5 15-1 12 2 6 6 12 13 16 9 6 18 5 3 3 1 27-1 6-3 1-3-2-12-10-6-3-6-1-12 2-6 3-9 6-24 26-21 35-21 42-4 12-1 9 2 9 6 8 9 3 12 0 6-2 6-3 10-15 8-7 18-9 6-1 6 1 15 7 9 6 9 11 18 30 6 5 9 5 6 1 12 0 6 0 6 3 15 9 9 2 17-9 22-6 0 117-300 0z"/><path fill="#0bba49" d="M110-8l173 0-11 8-6 7-20 30-6 15-2 15 1 9 5 9 5 9 8 9 6 6 6 4 12 3 5 2 1 3 1 6-1 15-3 3-12-8-6-2-12-1-9 3-6 4-15 13-14 15-6 9-37 60-6 12-5 12-1 9 0 9 4 9 8 6 12 2 12-1 9-3 6-4 11-18 7-6 15-8 6-1 6 0 13 6 11 8 9 11 18 29 6 5 9 5 6 2 12-1 6 1 19 12 5 2 6 1 6-2 12-8 21-5 0 114-300 0zM298-8l112 0 0 51-33 4-30 2-9-1-6-4-12-13-3-6-3-15-3-6-5-6z"/><path fill="#0eb338" d="M110-8l166 0-11 12-20 33-6 15-2 15 0 6 4 9 5 9 8 11 12 12 16 7 2 6-2 6-1 2-3 0-12-4-6 0-6 1-9 3-12 8-22 23-9 12-23 33-24 39-5 12-2 9-1 9 2 6 5 9 4 3 6 3 12 2 15-3 12-5 6-4 9-17 5-6 16-9 9-2 6 1 7 4 14 10 9 11 17 27 7 7 9 4 6 2 12 0 6 1 18 12 6 3 6 0 6-1 15-8 18-5 0 111-300 0zM307-8l103 0 0 46-27 5-33 4-6 0-6-1-7-6-10-12-6-24z"/><path fill="#13ae2d" d="M110-8l161 0-8 11-20 34-5 12-3 15 2 12 7 15 23 30 0 3-19 7-12 7-21 22-15 18-41 57-13 21-4 12-2 9 0 9 4 9 8 9 9 3 15 1 15-4 12-5 9-7 8-18 6-6 13-8 9-2 6 2 6 3 15 11 8 9 17 27 8 8 9 5 6 1 15 1 18 12 12 4 9 0 18-9 15-4 0 108-300 0zM314-8l96 0 0 41-31 7-29 5-6 0-6-1-7-7-7-9-2-6-3-18z"/><path fill="#19ab27" d="M110-8l156 0-14 27-11 18-4 12-3 15 0 6 3 9 7 15 13 18 2 6 0 3-3 3-14 8-9 7-21 22-12 14-52 69-10 18-5 15 0 12 1 6 3 6 9 8 12 4 15 0 15-4 15-8 9-6 4-6 5-12 6-8 12-7 9-2 6 1 6 3 15 12 6 7 18 28 6 5 12 8 6 2 15 2 15 11 9 3 6 2 9-1 18-8 15-4 0 105-300 0zM321-8l89 0 0 35-57 15-6 1-6 0-8-6-7-12-1-21z"/><path fill="#20a820" d="M110-8l152 0-12 27-11 18-4 12-2 12 0 9 3 9 6 15 10 15 2 6 0 3-4 6-11 7-9 8-22 24-59 72-10 15-10 18-4 15 1 12 5 12 9 8 12 4 15 0 15-4 15-7 15-10 5-6 6-15 4-6 12-8 9-2 6 1 5 3 16 13 6 7 17 25 7 8 15 8 18 5 8 6 10 5 12 4 9-1 21-8 12-4 0 103-300 0zM330-8l80 0 0 28-59 20-10 0-7-6-4-9 0-6 3-15z"/><path fill="#2aa819" d="M110-8l148 0-10 27-9 12-2 6-5 24 0 9 1 6 7 18 9 15 2 6-1 3-2 3-18 16-23 26-62 72-14 18-9 18-4 15 0 15 6 12 4 4 6 5 12 4 15-1 15-3 21-11 18-13 4-6 6-15 8-8 12-6 9 1 12 8 10 8 21 30 8 9 12 7 18 7 9 6 8 4 10 4 12 1 8-2 19-7 9-3 0 100-300 0zM345-8l65 0 0 20-45 14-16 11-5 1-3-1-3-3-3-6 0-3 3-5 3-1 15 2 3-1 2-4 0-3-2-6z"/><path fill="#34a813" d="M110-8l144 0-8 24-8 12-3 6-5 27 1 9 2 10 5 14 8 15 1 6-1 3-19 19-48 56-45 48-13 18-11 21zM366-8l44 0 0 10-18 3-9 0-9-4zM242 265l6-1 5 1 16 11 9 8 18 26 6 7 12 9 17 8 15 9 16 6 12 1 9-2 18-7 9-2 0 97-300 0 0-126 12 15 12 6 15 2 18-3 21-10 24-17 7-8 6-15 4-6 7-6z"/><path fill="#41aa0e" d="M110-8l138 0-6 24-9 9-4 36 0 9 2 9 5 15 7 15 0 6-2 3-53 62-54 55-24 29zM218 12l-2 4 2 3 6 3 4 0 2-3-3-6-3-2-3 0zM239 268l6-2 6 0 6 3 12 8 9 9 17 24 7 8 12 9 27 16 18 7 15 2 9-2 27-8 0 94-300 0 0-107 15 9 15 2 15-1 18-7 21-12 21-18 6-7 8-18 4-5z"/><path fill="#4fae0a" d="M110-8l130 0-1 4-3 5-3 0-12 0-6 2-6 4-2 3-1 3 1 3 5 6 12 7 4 5 0 6 0 30 11 39-2 9-25 33-27 30-53 51-22 22zM243 268l5-1 4 1 17 11 9 8 18 26 6 6 30 22 9 5 18 6 15 1 10-1 26-7 0 91-300 0 0-93 15 5 15 0 15-3 18-7 21-15 21-19 8-9 8-18 5-5z"/><path fill="#5eb208" d="M110-8l95 0-17 11-3 4-2 6 2 4 15 4 6 3 13 7 5 5 2 7 0 27 9 39-1 9-6 9-16 21-15 18-27 27-60 53zM241 271l4-2 6 0 18 11 9 9 21 29 30 23 9 5 18 7 15 2 12-1 27-7 0 89-300 0 0-81 15 2 15 0 15-5 18-9 21-16 24-23 6-9 9-18z"/><path fill="#6fb708" d="M110-8l72 0-6 11-2 7 0 9 4 6 4 3 15-1 9 2 11 5 5 6 2 9 1 21 6 27 1 12-1 9-5 9-15 21-17 19-27 26-57 47zM246 271l8 1 17 11 7 8 21 28 29 24 7 4 18 7 18 3 12-1 27-6 0 86-300 0 0-70 15 1 15-2 15-5 18-11 15-12 15-15 21-24 8-15 4-6 3-3z"/><path fill="#81bc08" d="M110-8l62 0-3 12-1 12 2 9 6 11 3 2 3 0 12-5 9-1 6 2 6 3 5 6 2 6 1 21 6 27 1 9-2 12-4 9-15 21-15 17-30 28-54 41zM243 274l8-1 18 10 9 9 20 27 27 24 10 6 18 7 15 3 15-1 27-5 0 83-300 0 0-58 18-1 15-4 15-7 15-10 15-14 15-16 21-25 12-21z"/><path fill="#98c308" d="M110-8l55 0-2 12 0 12 7 35 2 4 4 3 3 0 3-3 7-12 8-6 9 0 6 2 3 2 4 8 2 18 5 24 2 12-1 12-4 9-14 21-12 15-15 15-18 15-48 35-6 3zM242 277l3-1 6-1 9 4 9 6 9 9 18 25 14 12 13 13 12 7 18 7 15 2 15 0 27-5 0 81-300 0 0-47 18-2 15-5 15-8 15-11 12-12 12-13 28-37 11-18z"/><path fill="#acc808" d="M110-8l49 0-1 12 0 12 6 36 2 6 3 3 4 2 6 1 6-4 8-14 4-4 3-1 6 0 6 2 3 4 2 5 2 18 6 24 1 9-2 12-5 12-11 18-14 16-15 14-18 14-45 31-6 3zM241 280l4-2 6-1 9 4 9 5 9 10 18 24 13 11 13 15 11 6 17 7 18 3 12 0 30-5 0 79-300 0 0-35 15-2 18-7 15-9 15-12 12-12 12-15 30-43 9-15z"/><path fill="#b8ca08" d="M110-8l43 0 0 12 1 12 5 24 1 15 3 6 4 4 4 2 5 1 6-1 8-6 7-12 3-3 6-1 3 1 3 3 1 3 3 15 7 21 2 12-2 12-5 12-12 21-12 14-15 14-18 14-45 28-6 3zM247 280l4 0 6 1 12 7 9 10 18 23 14 13 10 12 9 6 18 8 15 3 15 1 33-4 0 76-300 0 0-22 15-3 18-8 15-10 15-13 12-13 9-12 44-69 4-4z"/><path fill="#c5cb08" d="M110-8l38 0 0 12 1 12 6 24 2 18 3 6 4 4 6 3 6 1 6-1 10-7 10-12 4-1 4 4 10 30 3 15-3 15-7 15-9 15-13 15-15 13-18 13-42 25-6 2zM245 283l6-1 6 1 12 6 9 10 17 23 13 12 9 12 9 7 21 9 12 3 15 0 36-3 0 74-300 0 0-9 18-5 18-9 15-11 15-15 12-14 9-14 27-49 15-22z"/><path fill="#d2cc08" d="M110-8l32 0 2 18 7 30 2 18 4 9 8 6 11 2 9-2 18-11 3 1 6 8 6 12 2 8 1 9-3 15-8 18-10 15-9 10-15 13-15 10-27 16-24 12zM245 286l6-2 6 1 6 2 6 4 12 14 12 16 13 13 8 12 9 7 21 10 12 3 15 1 39-2 0 71-280 0 31-21 12-12 9-11 18-28 24-51 15-21z"/><path fill="#e0cc04" d="M110-8l27 0 2 18 8 33 2 18 1 3 5 6 9 6 12 3 9-2 15-7 6 1 6 6 5 8 3 9 0 6-3 12-11 24-8 12-10 11-15 12-15 10-27 14-21 9zM245 289l6-3 6 1 6 2 6 4 12 13 12 17 11 11 10 15 8 6 22 10 12 3 15 1 39-2 0 69-256 0 22-22 15-21 14-26 20-51 11-17z"/><path fill="#eecc01" d="M110-8l21 0 2 15 9 36-1 18 7 9 13 9 12 3 9-1 18-6 6 1 6 5 3 4 4 12-3 12-12 27-7 12-9 9-12 10-18 11-24 12-24 10zM250 289l10 0 9 6 12 13 12 17 9 9 9 16 3 3 6 4 24 10 9 3 15 1 24-2 18 1 0 66-239 0 18-24 12-21 10-24 13-42 5-12 13-19z"/><path fill="#f5cb00" d="M110-8l15 0 3 15 9 33-1 6-1 3-8 9 0 3 2 3 29 17 12 4 12 0 18-6 6 1 6 5 2 3 3 9-2 9-13 30-5 9-9 10-12 10-18 10-24 11-24 9zM249 292l5-1 6 0 9 6 12 13 9 14 11 13 8 15 8 6 27 12 9 2 15 0 24-1 18 1 0 64-223 0 14-24 9-21 7-21 9-42 3-12 10-15 6-6z"/><path fill="#fcc900" d="M110-8l9 0 3 15 9 30 0 6-1 3-8 9-1 3 1 6 2 3 4 3 15 7 15 8 9 4 12 0 6-1 15-5 6 0 6 5 3 9-1 6-7 15-8 21-6 9-8 8-12 9-18 9-24 10-21 7zM249 295l5-2 6 1 9 5 12 13 8 13 10 12 8 18 7 5 12 4 15 7 9 2 12 1 30-1 18 2 0 61-208 0 11-24 6-18 4-21 5-42 3-12 2-6 6-9z"/><path fill="#ffc200" d="M110-8l12 36 2 9-1 6-6 9-2 6 0 6 4 6 6 4 15 6 24 12 9 1 9 0 21-6 6 2 3 4 1 4-1 6-7 12-4 15-4 9-6 9-6 6-12 9-18 9-21 7-24 7zM249 298l8-2 6 1 12 11 21 29 6 18 3 5 3 3 18 4 21 8 12 1 30-1 21 3 0 58-192 0 8-21 4-21 2-33 0-33 1-9 6-12z"/><path fill="#ffb600" d="M110 22l0-1 3 7 1 9-1 5-3 5zM110 70l0-1 12 9 15 5 27 13 9 1 12 0 18-6 3 0 3 3 1 3-1 5-7 10-5 24-5 9-7 7-12 8-18 9-21 7-24 6zM249 301l8-3 6 2 6 4 8 9 16 27 4 21 2 5 3 3 6 2 15 0 24 7 42-1 21 4 0 55-173 0 7-21 1-18-4-45-5-21 0-9 1-6 3-6 5-6z"/><path fill="#ffa900" d="M110 79l0-2 12 6 15 5 24 11 9 2 25 2 2 3 0 21-2 9-5 9-11 9-18 10-24 8-27 5zM250 304l4-2 6 0 9 6 9 10 9 19 3 9-2 9-4 8-6 4-9 1-6-2-5-8-1-15-12-8-3-5-2-8 1-6 3-6zM317 379l9-2 24 3 36-1 9 1 15 5 0 51-145 0 1-3 6-5 18-9 9-7 6-9 6-18z"/><path fill="#ff9b00" d="M110 85l24 7 26 11 22 4 6 2 4 6 3 9-1 9-4 9-5 6-6 4-18 9-21 6-30 5zM253 307l4-1 6 1 9 8 4 10 2 9 0 3-3 1-10-7-14-3-4-3-2-5 0-4 3-5zM362 382l15-1 12 0 21 9 0 46-113 0 17-21 3-8 2-13 4-7 3-3 6-1 18 0z"/><path fill="#ff8600" d="M110 94l0-3 3 1 21 5 24 10 18 2 7 3 5 4 4 8 0 9-2 6-5 6-6 5-15 8-24 6-30 3zM255 316l2-3 3 0 4 3 1 3-2 1-6 0zM359 385l15-2 12 1 9 3 15 9 0 40-98 0 12-21 3-18 4-6 7-3z"/><path fill="#fd6f02" d="M110 100l0-2 15 3 30 9 24 4 6 4 4 6 1 9-3 6-9 9-8 5-9 3-21 4-30 1zM360 388l14-2 13 2 5 3 15 13 3 2 0 30-88 0 8-18 3-15 3-6 3-3 5-2z"/><path fill="#f85307" d="M110 109l0-2 15 1 51 9 6 3 3 4 2 6-1 6-3 6-4 3-9 5-9 3-21 2-30-1zM364 391l13-1 8 4 5 6 5 15 6 5 9 4 0 12-80 0 9-30 3-6 8-5z"/><path fill="#ee4108" d="M119 118l18-1 36 3 6 2 3 3 2 5 0 3-2 6-3 3-12 6-18 2-22-2-17-5 0-24zM361 397l10-1 6 4 1 6 1 15 3 6 8 9-52 0 4-21 3-9 7-6z"/><path fill="#e5330b" d="M151 124l13-1 9 1 5 3 2 3 0 6-2 3-5 3-9 3-6 0-9 0-9-3-5-3-3-3 0-3 2-3 4-3zM356 406l6-1 3 2 2 2 2 6 4 21-27 0 0-12 2-9 3-6z"/><path fill="#de2712" d="M161 130l9-1 3 1 1 3-1 3-3 2-9 0-4-2 0-3z"/></g><path d="M332 99l-3 1 0 3 1 15 1 6 4 5 10 7 2 3 2 6 1 9-6 21-2 12 1 6 1 3 3 3 6 3 9 0 9-3 6-3 9-8 6-7 3-6 3-12-1-6-2-9-6-10-5-5-4-2-9-2-15 1-3-2-2-10-3-6-7-7zM260 176l-3 3-1 5 2 6 2 2 3 2 3-1 2-3 1-3 0-6-3-4-3-2zM410 88l-42-6-15-1-3-1-12-7-18-4-6-2-5-3-5-6-8-24-3-5-3-2-3-1-3 0-6 2-9 8-9 13-6 12-1 9 4 7 8 11 4 4 9 4 18 3 6 4 2 3 7 13 5 14 1 15-2 12-2 6-4 6-7 4-6 0-9-3-21-15-6-3-6 1-6 3-5 7-4 9-1 6 4 15 0 9-1 12 1 6 2 3 4 2 12 4 9 5 12 8 6 5 7 9 7 12 7 18 3 6 3 4 3 2 9 0 21-5 21-1 6-2 28-13 8-3M410 69l-33-1-15-2-15-1-21-5-7-5-8-10-4-8-5-15-5-6-4-3-6-1-6 2-6 3-9 9-12 17-7 15-2 6 0 6 2 6 4 6 7 9 8 7 9 4 15 3 4 1 3 3 3 6 4 18 3 18-2 9-3 4-3 1-6 1-9-4-15-11-6-3-9-1-9 3-6 5-18 19-5 7-9 33 0 6 0 6 3 6 5 5 7 4 8 3 21 2 21 8 6 3 5 5 6 9 14 30 5 6 6 4 9 2 12-2 9 0 18 4 6 0 15-4 27-10M410 48l-30 3-33 1-9-1-6-3-14-14-3-6-5-18-4-6-4-4-6-3-9 0-9 3-6 4-9 11-18 28-5 15-1 12 2 6 6 12 4 6 9 9 9 7 15 3 4 2 2 3 1 6 1 24 0 3-2 1-6-1-12-10-6-3-6-1-9 0-6 2-12 9-18 18-7 9-20 33-20 42-4 12-1 9 3 9 5 6 8 4 12 0 6-2 6-4 9-13 9-8 18-8 6-1 6 1 15 6 9 7 9 11 12 21 6 9 6 5 9 5 6 1 12-1 6 1 6 2 15 10 6 1 6 0 9-6 6-3 21-6M260-8l-11 27-8 12-3 6-4 12-2 12 1 9 2 9 6 15 10 15 1 6 0 3-5 6-17 14-23 25-60 72-12 15-8 15-5 15-1 12 2 12 4 6 4 5 6 4 6 2 6 2 9 0 9-1 9-2 18-9 18-12 6-7 6-15 5-6 10-7 9-2 9 3 18 13 6 8 16 24 8 8 15 9 15 4 8 6 10 6 12 3 9 1 6-1 18-8 12-3M410 15l-15 5-27 10-18 8-6 1-3-1-3-1-4-6-1-6 1-6 4-5 3-1 9 1 1-1-1-3-9-11-4-7M178-8l-5 12-1 6 0 9 4 8 3 3 3 1 15-2 9 1 9 4 6 6 2 9 1 21 7 30 0 9 0 6-4 9-12 18-12 15-15 16-24 22-51 41-3 2M110 370l15 0 15-2 15-6 18-11 21-18 27-30 5-8 6-12 4-5 6-5 6-2 9 4 15 10 6 6 21 28 27 23 9 6 18 7 18 3 12-1 27-6M142-8l1 18 7 30 3 18 2 6 2 3 8 6 5 2 6 0 10-2 17-10 3 1 6 8 6 12 3 10 0 9-3 12-10 21-8 12-12 13-15 12-15 10-27 15-21 10M133 436l28-20 12-12 9-11 9-13 9-15 25-52 14-21 3-3 6-4 6-1 6 2 9 5 12 14 12 16 13 13 11 15 6 4 21 10 12 3 15 1 39-2M110 17l4 8 2 12-1 6-5 7M110 67l6 6 6 4 15 6 27 12 9 2 12-1 18-6 3 1 3 2 2 4-2 6-6 9-6 24-5 9-7 7-12 9-18 8-21 8-24 6M233 436l7-21 2-18-3-45-4-24 1-9 2-6 4-6 6-6 6-3 6 0 5 3 13 13 16 26 5 21 3 5 3 2 18 2 24 7 9 1 33-2 21 5M110 113l21 1 42 4 6 3 4 3 2 4 1 5-3 6-4 4-9 5-9 3-12 1-12 0-27-4M335 436l5-24 4-9 3-3 6-3 11-3 7-1 6 2 3 2 2 3 1 6 0 12 3 6 6 5 15 7" fill="none" stroke="#181818" stroke-opacity="0.6" stroke-width="0.75"/><path d="M410 99l-42-11-15-1-6-2-12-8-18-3-9-4-6-3-5-6-4-16-4-8-2-2-3-1-6 2-8 7-7 12-3 9 1 6 7 15 4 4 6 3 15 3 6 2 5 3 5 6 5 9 7 21 1 12-2 12-2 9-4 5-6 5-6 2-6 1-6-1-21-17-9-4-6 1-3 2-4 6-3 9 1 6 3 15 6 11 6 6 12 7 3 3 18 21 21 27 12 11 3-1 10-7 8-3 15 2 6-1 21-4 21-7" fill="none" stroke="#000" stroke-width="2.6" stroke-linejoin="round"/><g font-size="22" font-weight="bold" font-style="italic" fill="#000"><text transform="translate(222.0,36.2) rotate(20)" y="7.9" text-anchor="middle">19</text><text transform="translate(248.4,4.2) rotate(45)" y="7.9" text-anchor="middle">1</text><text transform="translate(173.4,60.5) rotate(-15)" y="7.9" text-anchor="middle">19</text><text transform="translate(175.6,106.9) rotate(5)" y="7.9" text-anchor="middle">25</text><text transform="translate(308.0,37.3) rotate(40)" y="7.9" text-anchor="middle">3</text><text transform="translate(369.8,41.8) rotate(0)" y="7.9" text-anchor="middle">1</text><text transform="translate(319.1,120.1) rotate(35)" y="7.9" text-anchor="middle">10</text><text transform="translate(297.0,157.6) rotate(-15)" y="7.9" text-anchor="middle">15</text><text transform="translate(386.4,185.2) rotate(-10)" y="7.9" text-anchor="middle">7</text><text transform="translate(262.8,198.4) rotate(35)" y="7.9" text-anchor="middle">7</text><text transform="translate(210.9,233.0) rotate(25)" y="7.9" text-anchor="middle">13</text><text transform="translate(251.8,274.9) rotate(-5)" y="7.9" text-anchor="middle">21</text><text transform="translate(218.6,293.7) rotate(30)" y="7.9" text-anchor="middle">1</text><text transform="translate(271.6,324.6) rotate(25)" y="7.9" text-anchor="middle">23</text><text transform="translate(384.2,327.9) rotate(-10)" y="7.9" text-anchor="middle">15</text><text transform="translate(383.1,362.1) rotate(-10)" y="7.9" text-anchor="middle">19</text><text transform="translate(358.8,384.2) rotate(-5)" y="7.9" text-anchor="middle">25</text><text transform="translate(292.6,417.3) rotate(-30)" y="7.9" text-anchor="middle">23</text></g>
</g></g>
<use href="#st"/>
<use href="#over"/>
<use href="#axl"/>
<path d="M552.2,0L567.5,-6.8L582.7,0Z" fill="#fbb582" stroke="#b08050" stroke-width=".8"/><path d="M552.2,439.1L567.5,445.6L582.7,439.1Z" fill="#e070ff" stroke="#8030a0" stroke-width=".8"/><rect x="552.2" y="0" width="30.5" height="439.1" fill="url(#cb)"/><path d="M552.5,0V439.1M582.4,0V439.1" stroke="#000" stroke-opacity=".35" stroke-width="1.2" fill="none"/><path d="M552.2,439.1h6.3M582.7,439.1h-6.3M552.2,351.3h6.3M582.7,351.3h-6.3M552.2,263.5h6.3M582.7,263.5h-6.3M552.2,175.6h6.3M582.7,175.6h-6.3M552.2,87.8h6.3M582.7,87.8h-6.3M552.2,0.0h6.3M582.7,0.0h-6.3" stroke="#000" stroke-width="2" fill="none"/><g font-size="29.4" font-weight="bold" font-style="italic" fill="#000"><text x="589.0" y="448.4">5</text><text x="589.0" y="360.6">10</text><text x="589.0" y="272.8">15</text><text x="589.0" y="184.9">20</text><text x="589.0" y="97.1">25</text><text x="589.0" y="9.3">30</text></g>
</g>
<text x="715.1" y="30.6" font-size="36.4" font-weight="bold">B</text><text x="1340.3" y="26.4" text-anchor="end" font-size="38.6" font-weight="bold" font-style="italic">Temperature @ bottom</text>
<g transform="translate(93.1,627.8)">
<use href="#base"/>
<g clip-path="url(#csea)"><g clip-path="url(#cenv)">
<g filter="url(#bl)"><rect x="105" y="-13" width="310" height="454" fill="#d767ff"/><path fill="#cc5cff" d="M110-8l300 0 0 444-120 0 5-9 2-6-2-12 1-15-1-3-2-1-3 1-3 3-4 6-1 12-5 15-1 9-166 0z"/><path fill="#c151ff" d="M110-8l300 0 0 444-117 0 4-9 2-6-2-12 1-18-2-3-3-1-6 4-6 9-2 12-7 18-1 6-161 0z"/><path fill="#b048ff" d="M110-8l300 0 0 444-115 0 4-9 1-6 0-30-1-3-3-3-3 0-5 3-7 8-6 19-8 21-157 0z"/><path fill="#a040ff" d="M110-8l300 0 0 444-113 0 4-15 0-30-2-6-3-1-6 1-3 2-6 6-3 7-5 15-10 21-153 0z"/><path fill="#8f3cff" d="M110-8l300 0 0 444-112 0 4-14 0-31-1-6-2-2-3-1-9 3-6 6-3 6-7 18-12 21-149 0z"/><path fill="#7f38ff" d="M110-8l300 0 0 444-110 0 3-15 0-33 0-3-2-3-5-1-9 3-7 7-11 23-14 22-145 0z"/><path fill="#753aff" d="M110-8l300 0 0 444-109 0 3-15 0-33-2-7-6-2-8 3-8 6-3 6-10 21-16 21-141 0z"/><path fill="#6b3dff" d="M110-8l300 0 0 444-108 0 3-15 0-36-3-5-6-2-9 3-8 7-13 25-19 23-137 0z"/><path fill="#6543ff" d="M110-8l300 0 0 444-107 0 3-15 0-36-1-4-2-2-7-2-9 3-7 5-4 6-13 23-20 22-133 0z"/><path fill="#604afe" d="M110-8l300 0 0 444-106 0 2-15 1-36-2-6-3-2-6-1-9 3-9 6-15 26-24 25-129 0z"/><path fill="#6052fa" d="M110-8l300 0 0 444-105 0 2-15 1-36-3-7-3-2-6-1-9 3-9 6-3 4-9 16-6 8-27 24-123 0z"/><path fill="#5f5bf8" d="M110-8l300 0 0 444-104 0 2-18 0-36-1-3-3-3-8-1-9 2-9 5-5 6-7 14-9 11-9 8-20 15-118 0z"/><path fill="#5a63f8" d="M110-8l300 0 0 444-104 0 3-18 0-36-1-3-3-3-9-2-9 2-9 5-4 4-8 14-9 11-12 10-24 16-111 0z"/><path fill="#536cf8" d="M110-8l300 0 0 444-103 0 3-21 0-33-2-5-3-2-9-2-9 2-9 4-6 6-9 16-9 10-15 11-27 14-98 0-4-1z"/><path fill="#4674f8" d="M110-8l300 0 0 444-102 0 2-21 1-33-3-6-3-2-9-2-9 2-12 6-4 5-5 9-6 9-15 12-18 10-29 11-60 0-28-8z"/><path fill="#3a7cf6" d="M110-8l300 0 0 444-101 0 2-21 0-33-2-6-4-3-9-2-10 2-11 6-6 6-9 15-15 13-18 9-18 6-21 4-21 1-24-3-33-8z"/><path fill="#2d84f2" d="M110-8l300 0 0 444-101 0 3-21 0-33-1-4-3-4-9-3-12 1-10 4-7 6-10 16-9 8-18 11-24 8-21 3-24 0-24-3-30-9z"/><path fill="#268df0" d="M110-8l300 0 0 444-100 0 2-21 1-33-2-6-3-3-9-3-12 1-9 3-7 5-11 17-12 10-18 9-21 7-24 3-24-1-24-5-27-8z"/><path fill="#2195f0" d="M110-8l300 0 0 444-99 0 2-24 0-33-2-4-3-3-9-3-12 1-10 3-8 6-9 15-12 10-18 9-21 6-24 2-24-2-24-5-27-9z"/><path fill="#1b9df3" d="M110-8l300 0 0 444-98 0 2-24 0-33-3-5-3-3-9-2-12 0-9 2-9 6-12 17-9 8-18 8-21 5-24 2-24-2-24-6-27-10z"/><path fill="#13a5f6" d="M110-8l300 0 0 444-98 0 2-24 0-33-3-6-3-2-9-3-12 0-9 2-9 6-12 16-9 7-18 9-21 4-24 1-24-2-24-7-27-11z"/><path fill="#10adf1" d="M110-8l300 0 0 444-97 0 2-24 0-33-4-7-6-3-6-2-12 0-9 2-11 7-11 15-11 8-18 7-21 4-24 0-22-4-23-7-27-13z"/><path fill="#10b5e4" d="M110-8l300 0 0 444-96 0 2-24 0-33-2-5-3-3-9-4-15-1-9 1-12 8-12 15-9 7-18 6-21 3-22 0-23-4-22-8-29-14zM164 123l-5 4-3 6-1 6 3 4 6-1 3-2 3-4 2-6-1-3-2-3z"/><path fill="#0dbed5" d="M110-8l300 0 0 444-96 0 2-24 0-33-2-6-3-3-9-3-15-2-9 1-12 7-12 15-9 6-18 7-21 2-24-1-21-5-23-9-28-15zM164 120l-9 7-5 9-1 6 1 3 2 3 3 1 6 0 6-3 5-4 3-6 1-6-3-8-3-3z"/><path fill="#09c6c4" d="M110-8l300 0 0 444-95 0 2-24 0-33-3-7-3-3-6-2-18-4-9 1-12 8-15 16-9 5-18 5-21 2-24-3-22-6-20-9-27-17zM164 117l-10 7-8 12-2 6 0 6 2 4 3 2 6 1 9-2 9-7 4-7 2-9-3-9-3-3-3-2z"/><path fill="#05cbb4" d="M110-8l300 0 0 444-94 0 2-24-1-33-3-8-3-3-6-2-18-4-9 1-9 5-18 17-9 6-18 5-21 1-21-3-24-7-21-11-27-19zM164 115l-12 9-5 6-6 9-2 6 0 6 2 6 4 3 10 0 9-3 9-6 6-9 3-9-1-6-2-6-6-7-3 0z"/><path fill="#01cfa3" d="M110-8l300 0 0 444-93 0 1-24 0-33-2-6-2-3-6-4-24-5-6 0-9 5-18 16-9 6-18 5-24 0-24-5-21-8-21-13-24-19zM167 112l-7 3-8 6-8 9-7 9-3 9-1 6 1 6 3 4 3 2 6 1 6-1 9-4 12-7 8-10 3-9 0-6-2-6-6-10-3-2z"/><path fill="#00d097" d="M110-8l300 0 0 444-93 0 2-24 0-33-2-6-2-3-7-4-24-7-6 0-9 5-21 18-9 4-18 4-21-1-24-5-24-11-18-13-24-22zM164 111l-10 7-10 9-8 9-6 9-4 9-1 6 1 6 5 6 6 1 6 0 15-5 15-10 9-10 3-6 2-9-4-12-3-6-4-4-6-1z"/><path fill="#00d08b" d="M110-8l300 0 0 444-92 0 2-24-1-15 0-18-2-8-6-5-27-8-6 0-9 4-21 17-9 4-9 3-12 1-23-2-13-4-12-4-21-12-18-16-21-23zM167 109l-12 6-11 9-12 12-8 12-6 12-2 9 1 6 2 3 3 3 6 1 6 0 18-7 18-11 13-13 4-9 2-6-1-6-1-6-8-13-6-3z"/><path fill="#03cd7d" d="M110-8l300 0 0 444-91 0 1-24-1-15 1-18-3-9-3-3-20-6-10-4-6-1-6 2-24 18-12 5-9 2-12 1-12-1-12-3-12-4-12-6-21-15-18-18-18-26 0-111 12-4 15-7 18-11 15-10 9-9 6-8 5-9 1-9-3-9-6-12-6-5-3-1-6 1-14 8-15 12-12 12-16 20z"/><path fill="#06ca6f" d="M110-8l300 0 0 444-91 0 2-24-1-15 1-18-3-9-4-4-17-5-13-6-6-1-6 2-18 14-15 7-9 3-9 0-18-1-21-7-20-11-17-15-14-18-10-18-11-26 0-54 10-16 8-9 42-34 12-12 6-8 3-6 1-12-2-9-8-15-6-4-6 0-9 4-18 12-33 29z"/><path fill="#08c460" d="M110-8l300 0 0 444-90 0 1-24-1-15 1-21-2-6-5-5-18-5-12-6-6-2-6 2-18 14-15 6-15 3-18-2-18-5-18-10-17-14-12-15-7-12-6-12-6-24-2-24 1-12 2-12 6-15 10-15 14-15 26-24 8-9 6-12 1-12-2-9-8-15-5-5-6-1-9 3-15 9-39 29z"/><path fill="#0abd50" d="M110-8l300 0 0 444-89 0 1-24-1-15 1-18-2-9-3-4-3-2-18-5-12-7-6-2-7 2-17 14-12 4-15 3-18-1-16-5-17-9-14-12-13-15-11-21-6-24-1-24 3-27 6-18 9-15 9-12 24-24 7-9 6-12 1-12-2-9-9-17-6-5-6 0-9 3-13 7-41 28z"/><path fill="#0db640" d="M110-8l300 0 0 444-89 0 2-24-1-15 0-21-2-8-3-3-21-6-12-9-6-2-6 1-15 13-9 4-18 4-18-1-15-5-16-9-14-12-10-12-5-9-5-12-5-21-1-27 3-33 5-15 7-15 9-12 20-21 7-9 5-12 0-12-3-12-8-15-4-5-6-1-6 1-9 4-51 31z"/><path fill="#10b030" d="M110-8l300 0 0 444-88 0 1-24-1-15 1-21-2-9-3-3-22-6-15-11-6-1-6 2-12 11-6 3-18 4-9 1-9-2-14-4-13-7-13-11-10-12-9-18-5-21 0-18 3-54 3-12 6-12 6-9 19-21 6-9 4-12 1-12-2-9-9-19-3-4-6-3-6 1-6 2-57 31z"/><path fill="#15ad2b" d="M110-8l300 0 0 444-87 0 1-24-1-15 0-21 0-6-3-6-6-3-16-3-17-13-6-1-6 2-12 11-6 3-18 3-15-1-12-4-12-6-11-9-10-12-9-18-3-18-1-15 3-27-3-27 0-12 3-9 6-12 22-27 5-9 4-12 0-12-2-9-10-22-3-4-6-2-9 2-60 31z"/><path fill="#1baa25" d="M110-8l300 0 0 444-87 0 1-24-1-15 1-21-1-9-3-4-4-2-17-3-5-3-10-10-6-3-3 0-6 1-12 11-6 4-15 2-15-1-11-4-11-6-11-9-7-9-8-15-3-15 0-18 5-24 1-9-1-6-8-18-1-9 0-6 2-9 4-9 19-24 7-12 4-15-1-12-12-30-4-5-3-1-3-1-6 3-33 17-30 13z"/><path fill="#21a81f" d="M110-8l300 0 0 444-86 0 1-24-1-15 0-24-1-8-3-4-21-4-6-4-12-12-6-2-9 4-10 9-5 3-12 2-15-2-9-3-11-6-7-6-8-9-5-9-4-12-1-9 0-12 5-15 4-8 12-16 2-6 0-3-5-3-12-3-8-6-5-9-1-12 1-6 4-9 18-24 7-12 3-15-1-12-13-33-5-6-3-1-6 2-33 18-33 14zM332 295l-3 3-3 9 1 6 2 2 3 1 6-3 3-4 1-5-1-4-3-5-3-1z"/><path fill="#2aa819" d="M110-8l300 0 0 444-85 0 0-63-1-9-2-3-5-2-12-1-6-2-6-4-9-11-3-2-6-2-9 3-15 12-9 2-12-1-9-3-9-5-7-5-8-9-5-9-4-12 0-12 1-9 4-9 7-8 6-3 9-2 4-2 2-9 0-12-5-9-6-6-4-1-15 0-9-3-6-8-1-9 1-6 3-9 18-24 6-12 3-15-2-12-13-36-3-6-3-3-3 0-16 12-14 8-21 9-21 7zM332 286l-3 2-3 6-3 10 1 12 2 3 3 1 6-1 6-3 3-3 2-6-1-9-4-7-6-5z"/><path fill="#34a813" d="M110-8l300 0 0 444-85 0 1-24-1-18 1-24-1-6-2-5-3-1-15-1-6-2-4-3-11-13-3-2-6-2-9 2-12 10-6 3-6 1-9-1-10-4-8-5-8-7-5-6-3-6-2-9-1-9 2-9 3-6 5-6 6-2 9 0 3-1 3-3 7-33 0-3-4-3-15-12-6-2-15-1-6-1-6-5-3-6 0-6 2-9 20-30 5-12 1-9-1-15-9-21-6-24-1-18-2-5-2-1-4 2-2 7-1 9-2 6-5 6-8 6-21 11-33 11zM329 277l-3 3-1 3-4 21 1 15 1 3 3 2 6-1 11-4 4-3 3-6-1-9-5-12-9-10-3-2z"/><path fill="#3faa0e" d="M110-8l300 0 0 444-84 0 1-24-2-18 2-27-1-6-2-3-4-2-12 1-8-2-7-6-9-12-6-4-6 0-5 1-16 12-9 2-9-2-9-5-9-7-5-6-3-6-2-9 1-12 6-8 12-7 6-5 3-7 2-12 6-18-2-6-12-8-9-7-9-3-12 0-6-2-6-4-2-6-1-6 2-6 19-30 5-12 1-9-1-12-8-21-4-15-2-12-2-21-1-4-3-3-3-1-3 2-4 9-3 18-5 6-8 6-22 11-30 8zM326 269l-3 3-2 5-3 24 2 21 3 5 3 0 27-8 2-3 1-3-5-15-10-19-6-7-3-2z"/><path fill="#4bad0b" d="M110-8l300 0 0 444-83 0-1-12 1-12-1-21 2-27-2-7-3-2-3-1-12 2-6-1-8-6-10-14-6-4-6-1-6 2-15 10-9 2-6-1-6-3-8-6-5-6-3-6-2-6 1-9 5-9 12-12 4-6 5-18 6-15 0-6-3-6-12-7-12-9-6-2-12 0-6-1-3-2-5-6 0-6 1-6 19-30 4-12 1-9-2-12-8-21-2-9-5-42-3-6-3-3-3 0-3 1-6 14-3 18-5 6-7 6-21 9-30 8zM323 264l-3 3-2 4-3 12 2 33 3 11 3 3 3 0 12-4 6-1 6 1 9 3 3-1 2-6-1-6-22-42-9-9-6-2z"/><path fill="#58b008" d="M110-8l300 0 0 444-83 0 0-45 2-30-2-6-4-3-15 3-6-1-7-5-11-17-6-4-6 0-6 1-18 11-6 1-9-4-9-9-3-6-2-6 1-9 3-6 10-14 4-7 6-18 6-15 1-6-3-6-14-8-12-10-6-2-18-2-4-2-3-6 1-9 12-19 5-11 3-9 2-9-2-15-10-27-4-39-2-9-3-6-4-3-3-1-3 1-3 5-4 10-4 21-7 9-9 5-12 5-15 4-18 4zM323 259l-3 1-4 5-3 9-2 9 0 9 5 30 2 6 2 3 3 2 3 0 12-4 6-1 6 3 9 7 3 0 3-3 4-7 1-6-1-6-10-14-19-34-8-7-6-2z"/><path fill="#67b508" d="M110-8l300 0 0 444-82 0-1-48 4-30-2-5-3-2-3-1-15 4-6-1-8-7-10-17-6-3-6-1-6 2-21 10-3 0-6-3-6-6-4-12 0-9 2-6 12-21 5-15 7-18 2-9-1-3-3-3-14-6-15-13-6-2-15 0-5-3-2-3 0-3 2-6 10-18 6-12 2-9 2-9-2-15-8-18-3-9-3-36-2-13-2-5-4-4-3-2-6 0-3 3-3 8-3 10-3 18-6 7-9 6-12 5-15 4-18 2zM320 256l-4 3-4 6-3 12-2 9 10 45 3 5 3 1 15-6 6 1 4 2 8 9 3 1 3 0 6-5 4-8 2-9-1-6-14-19-14-26-5-6-5-5-6-4-6-1z"/><path fill="#77b908" d="M110-8l300 0 0 444-81 0-1-51 5-30-1-3-7-6-2-3 12-8 6-1 5 3 7 10 3 1 6 0 6-4 3-4 5-12 2-6-3-9-15-18-16-29-6-6-6-5-9-3-6 1-3 2-5 10-5 18 1 9 5 15 5 24 5 11 3 1-6 6-5 3-4 1-6-1-6-6-11-18-7-5-6 0-6 1-21 8-4-1-4-3-5-12 0-12 16-39 8-18 3-12-1-3-4-3-12-3-6-3-15-13-6-2-12 0-5-3 0-6 8-15 6-14 4-13 1-9-3-15-8-18-3-9-2-33-3-18-3-6-4-4-6-2-3 1-3 2-3 5-5 16-2 15-2 6-3 3-9 6-12 5-15 3-18 2z"/><path fill="#89bf08" d="M110-8l300 0 0 444-80 0-1-12 0-12 0-30 2-12 4-15 0-4-3-8 2-3 4-2 4 2 4 6 7 4 6 1 6-2 5-3 4-5 5-13 1-6-2-9-18-21-15-27-5-6-8-6-6-3-6-1-5 1-4 3-4 9-5 18-1 6 1 6 6 16 8 35 0 3-2 3-6 3-3 0-5-3-5-6-7-15-7-6-9-1-24 5-4-1-3-3-4-12 1-12 13-33 13-27 3-9-1-3-3-1-15 0-7-2-5-3-15-14-6-3-9-2-1-2 12-36 2-15-3-15-11-24-1-33-2-15-3-9-3-6-5-4-6-1-6 2-4 6-5 18-2 15-3 6-2 3-8 5-12 5-15 3-18 1z"/><path fill="#9ec508" d="M110-8l300 0 0 444-80 0-1-12 1-12-1-27 2-12 4-12 6-9 3-1 15 2 6-1 9-6 4-6 5-18-3-9-18-21-15-27-12-13-6-4-6-2-6 0-4 1-6 6-5 15-3 15-1 6 7 18 6 24 2 12 0 3-2 3-6 1-6-4-4-6-7-15-7-5-9-1-21 2-5-2-2-3-3-9 1-12 12-30 20-39 1-6-3-2-18 4-12-2-9-6-15-15-4-6 0-6 0-6 7-27 0-12-4-12-10-21-1-9 0-21-3-21-3-9-6-7-3-2-6-1-6 2-3 3-3 5-4 15-3 21-5 6-3 3-9 4-12 3-27 1zM284 187l-4 3-2 6 1 9 2 5 3 0 3-3 3-3 3-8 0-3-3-5-3-2z"/><path fill="#aec908" d="M110-8l300 0 0 444-79 0-1-12 1-12-2-24 2-12 3-9 4-7 6-5 16 0 15-6 5-6 5-21-2-9-19-21-14-27-6-7-9-8-12-6-6-1-6 1-3 1-3 4-4 10-5 21 0 9 7 18 7 24 1 12-3 5-3 1-6-5-3-4-5-15-7-6-9-2-21 0-4-1-3-3-3-9 2-12 12-27 14-27 6-8 13-16 5-15-1-9-2-4-3-3-6 0-3 1-5 6-4 15-2 6-7 5-9 2-9 0-6-2-6-6-10-11-5-9 0-6 5-27 0-15-4-12-10-21-1-9 0-21-3-24-4-9-7-7-5-2-4 0-6 2-4 4-3 6-4 15-3 21-7 7-9 5-12 2-27 1z"/><path fill="#b9ca08" d="M110-8l300 0 0 444-78 0-1-12 0-12-1-24 1-9 2-9 5-8 6-4 18-2 13-4 5-3 3-6 4-18 0-6-2-6-4-6-16-17-13-25-8-9-15-12-9-4-9-1-6 2-4 6-3 12-5 27 1 6 14 39 1 6-1 6-3 3-3-1-3-3-3-6-3-11-2-3-4-4-9-3-21-1-6-3-3-7 0-9 13-30 17-28 6-6 8-5 4-6 3-23-2-10-4-5-3-2-6-1-6 2-3 3-3 6-6 18-6 5-6 2-9 0-6-3-6-5-6-8-5-9-1-6 1-9 4-21 0-12-3-9-13-24-1-9 1-21-4-27-5-9-7-7-6-1-6 0-6 4-3 4-3 6-4 15-2 18-2 6-4 3-9 5-12 2-27-1z"/><path fill="#c4cb08" d="M110-8l300 0 0 444-77 0-2-12 0-36 1-12 2-6 4-6 6-4 18-2 18-5 3-2 3-5 4-21 0-6-2-6-4-6-18-18-12-24-8-9-14-13-24-11-3-3-3-12-1-27-2-6-6-6-9-3-6 2-3 2-5 8-7 18-3 4-4 2-8 1-6-1-6-5-6-7-5-9-1-9 5-24 0-12-4-12-13-24-1-9 0-21-3-27-4-9-7-8-6-2-6 0-6 2-6 5-5 9-3 12-2 21-2 5-4 4-8 4-12 2-9 0-18-2zM353 138l-3 1-3 3-1 3 1 4 3 3 3 1 3 0 6-2 3-3 0-3-1-3-5-4zM287 238l6 0 2 6-4 42 1 6 5 15 2 12 7 12 0 6-1 5-3 0-4-5-1-6 0-9-3-3-16-6-18-1-4-2-4-6-1-6 2-6 14-30 11-17 3-3z"/><path fill="#d0cc08" d="M110-8l300 0 0 444-76 0-2-12-1-33 1-12 2-6 4-7 6-4 38-7 5-3 2-6 1-9 2-12 0-6-2-6-4-6-18-19-5-8-6-12-6-9-16-16-18-11-6-6-5-12-3-27-3-6-4-5-6-3-6-2-6 1-6 3-4 6-7 21-3 3-4 3-6 1-6-2-9-8-4-6-2-9 1-9 5-18-1-12-4-12-14-24-1-6 1-24-2-24-5-12-7-9-6-3-9-1-6 3-6 5-5 8-3 9-2 9-1 18-3 6-4 3-9 3-9 1-12-1-15-2zM350 133l-6 5-3 7 2 6 4 5 6 2 9 0 6-2 6-5 1-3 1-6-1-3-4-4-9-4-6 0zM279 253l5-3 3 1 3 8 0 9-2 18 6 21-1 5-3 1-27-4-4-2-3-6 1-9 12-25 6-10zM302 331l1 3-1 3-1-3z"/><path fill="#dccc05" d="M110-8l300 0 0 444-75 0-2-12-1-36 1-9 2-7 6-7 6-3 36-5 6-3 3-5 3-24 0-6-2-6-4-6-15-14-6-7-10-21-5-6-18-18-16-12-5-6-5-12-2-21-2-6-3-6-6-6-6-3-9-3-6 1-6 2-4 6-5 18-2 6-4 4-3 1-3 1-6-1-6-5-2-3-3-6-1-9 7-21 0-12-6-15-14-24-2-9 1-21-2-27-3-9-8-10-6-4-9-1-9 2-6 5-5 8-4 9-3 12 0 18-3 5-3 3-9 3-9 1-9-1-18-5zM242 7l-3 3-3 6 0 3 2 3 4 1 5-1 5-3 2-3 1-6-1-3-3-2-3-1zM353 126l-9 5-5 8-2 9 4 8 6 5 12 2 12-1 9-5 5-6 1-6 0-6-3-6-6-5-6-2-9-1zM280 262l4 1 1 5-1 15 5 21 0 3-2 1-21-2-3-2-2-3-1-3 2-6 9-15 4-10 3-4z"/><path fill="#e9cc02" d="M110-8l138 0-9 6-5 6-6 12-1 6 2 6 4 3 6 1 8-1 7-3 7-6 4-6 2-6 1-6-3-6-6-6 151 0 0 444-74 0-3-12 0-33 0-9 2-8 6-7 6-3 24-4 15-1 6-4 4-6 1-6 1-21-2-9-6-9-13-11-6-7-4-6-7-15-4-6-21-21-11-9-5-6-7-15-2-18-3-9-5-8-6-5-6-4-9-3-9 0-9 1-5 4 0 3 0 18-4 10-3 3-6 1-6-3-3-3-3-8 0-6 3-7 7-11 1-3 0-6-3-9-4-9-16-23-3-7-1-9 1-45-3-9-9-12-9-5-9-1-9 3-6 5-7 10-5 12-2 9 1 18-2 3-3 3-9 4-9 0-9-1-18-7zM353 120l-9 5-5 5-3 6-2 6-1 6 4 9 7 6 12 4 18 1 6-2 6-3 6-6 3-9 1-9-4-10-6-5-9-4-12-2zM271 289l4-3 3 2 4 10 0 3-1 1-6 1-6-2-2-3 0-3z"/><path fill="#f2cb00" d="M110-8l124 0-9 15-5 12-2 10-3 2-12-7-12-2-9 2-9 6-11 16-4 9-1 9 2 12-1 7-3 4-3 1-12 3-12-3-18-8zM278-8l132 0 0 444-73 0-3-12-1-33 0-9 2-7 6-7 6-3 24-4 15 0 6-2 3-3 3-4 2-9 1-18-2-12-6-9-13-11-7-7-5-9-5-12-4-6-36-36-7-15-5-27-7-12-8-7-12-6-9-2-15-2-6-2-6-6-21-28-6-11-1-14 5-48 2-2 15-1 9-3 9-5 9-7 5-6 4-9 2-9zM371 112l-18 3-6 2-6 4-6 8-4 7-2 9 0 6 4 9 5 4 6 4 12 3 24 3 6-2 5-3 9-9 5-12 1-12-3-9-8-9-12-5zM244 175l4 0 3 3 2 6-2 9-3 2-3 1-6-3-2-6 2-8z"/><path fill="#f8ca00" d="M110-8l117 0-12 21-3 4-6 3-15-1-6 1-6 2-6 5-13 19-5 9-1 6 3 15-1 6-1 3-3 2-9 2-6-1-6-2-15-10-6-2zM293-8l117 0 0 124-12-8-12-3-15 0-21 5-9 4-7 7-8 15-3 12 1 6 3 6 5 6 5 3 10 4 30 7 6 0 9-4 6-4 12-10 0 274-72 0-3-15-1-36 2-9 5-7 6-2 24-4 15 0 6-2 5-3 5-6 3-12 0-15-2-12-6-9-15-12-6-6-5-8-5-13-4-6-13-12-11-14-12-13-7-15-5-27-4-9-5-6-6-6-9-5-12-5-17-5-7-4-9-8-15-16-6-11-1-12 3-18 2-9 4-9 7-6 26-12 14-12 8-9 4-9 2-6z"/><path fill="#fec800" d="M110-8l110 0-8 15-5 6-4 1-15 2-6 1-6 4-6 6-17 25-2 6 0 6 4 12-1 6-2 3-9 2-9-2-7-6-8-10-9-4zM310-8l100 0 0 107-12-4-12 0-36 7-9 3-6 5-4 5-17 34-3 3-6-2-21-10-21-8-12-6-18-17-4-6-2-9 3-18 3-7 5-8 7-6 30-16 18-14 8-9 5-9 2-6zM320 172l0-2 3-1 18 7 21 5 12 4 6 1 12-3 18-9 0 146-8-16-6-6-10-7-6-5-4-6-6-15-4-6-17-15-8-14-12-16-6-15zM410 343l0-2 0 95-71 0-3-12-1-36 0-9 3-5 6-5 6-2 21-3 15 1 9-3 9-7z"/><path fill="#ffbf00" d="M110-8l104 0-5 10-6 6-4 2-17 4-6 3-6 6-9 14-17 21 0 3 7 12 1 6-1 3-2 1-6 1-6-2-3-3-2-6 3-9-1-3-3-3-6-2-15 0zM336-8l74 0 0 88-12-4-9 0-6 2-14 10-7 3-6 1-15-1-9 2-5 4-4 6-5 18-2 6-5 5-6 2-6-1-18-11-24-7-15-9-6-8-1-7 4-11 7-10 6-6 8-6 36-19 21-13 13-10 3-3 3-6 1-6zM330 184l8-1 21 3 18 10 6-1 9-5 18-6 0 123-9-10-15-11-4-6-3-12-3-6-6-6-14-10-4-5-3-6-3-15-11-11-6-10-1-9 0-3zM409 355l1-1 0 82-70 0-3-12-2-33 1-9 2-7 6-5 6-1 21-3 15 1 9-2 7-4z"/><path fill="#ffb500" d="M110-8l98 0-3 6-5 5-18 7-9 6-6 7-9 14-6 6-9 5-6 1-27-1zM376-8l34 0 0 48-3-3-14-24zM142 76l1-1 3 0 0 4-3 0zM410 208l0 3zM410 247l0 50-13-11-2-3 0-3 8-15zM408 361l2-1 0 76-69 0-3-12-2-33 0-9 3-6 5-4 9-2 18-3 15 1 9-1 6-2z"/><path fill="#ffa800" d="M110-8l90 0-1 3-5 5-15 7-6 4-7 8-8 13-6 6-6 3-9 2-27-1zM404-8l6 0 0 8-3-3zM404 367l6-3 0 72-68 0-4-15-1-30 0-9 3-6 4-3 9-2 18-2 21 1z"/><path fill="#ff9c00" d="M110-8l81 0-2 3-19 14-18 23-6 4-9 1-27-1zM405 370l5-2 0 68-66 0-3-9-2-9-1-33 0-3 3-5 6-4 6-1 18-1 21 1z"/><path fill="#ff8900" d="M110-8l72 0-16 15-14 19-6 4-9 1-27-2zM363 373l32 2 15-3 0 64-65 0-5-15-1-33 0-6 2-4 3-2 6-2z"/><path fill="#ff7600" d="M110-8l63 0-24 28-6 4-9 1-24-2zM348 376l20-1 30 3 12-2 0 60-63 0-5-15-2-33 1-7 3-3z"/><path fill="#fa5c06" d="M110-8l55 0-5 6-14 15-9 4-9 1-18-2zM345 379l5-2 12 0 36 4 12 0 0 55-61 0-5-11-2-10-1-27 1-6z"/><path fill="#f34808" d="M110-8l46 0-5 6-8 7-9 4-9 1-15-1zM351 379l17 1 30 6 12-1 0 51-58 0-5-9-3-7-1-29 1-9 3-2z"/><path fill="#e93908" d="M110-8l34 0-4 4-6 3-15 2-9 0zM349 382l4-1 9 1 33 9 15 0 0 45-55 0-8-12-2-9-1-27 1-3z"/><path fill="#e22f0e" d="M349 385l4-1 7 1 14 6 15 8 9 1 12-1 0 37-49 0-11-11-3-7-1-9 0-18 1-3z"/><path fill="#dc2414" d="M350 391l3-2 3 0 13 8 6 6 11 14 6 1 18-7 0 25-20 0-4-7-3-1-18 2-9-3-6-6-2-6 0-9z"/><path fill="#da221a" d="M353 400l3-2 3 1 6 4 4 6 1 6-1 3-4 5-6 1-3-1-4-5-2-9z"/><path fill="#d82021" d="M355 409l1-1 4 1 1 3-1 3-1 1-3-1-1-3z"/></g><path d="M305 436l3-18 0-34-3-7-3-1-6-1-9 2-9 6-4 5-8 15-6 8-9 9-20 16M167 124l-3 0-3 2-3 4-2 6 0 3 2 2 3 1 3-1 3-2 3-3 1-3-1-6zM314 436l2-24-1-33-2-6-3-3-5-2-18-2-9 1-6 4-6 4-12 16-9 6-18 7-21 3-21 0-24-5-24-8-27-13M329 436l0-9 0-15-1-27 2-12 4-18 0-3-4-6 0-3 1-3 4-2 5-1 4 3 4 6 4 3 7 1 6-1 7-6 3-6 3-9 1-9-2-6-16-18-14-27-5-6-10-9-6-3-6 0-6 2-5 7-5 15-2 12 1 6 5 15 9 36-1 3-2 3-6 3-4 0-5-3-4-6-8-15-3-3-6-3-9 0-21 6-3 0-4-3-2-3-3-9-1-6 1-6 14-36 10-21 3-9 1-6-1-1-3-1-12-1-9-3-4-3-14-13-6-3-9 0-4-2 1-6 6-12 7-21 2-9 0-9-2-12-11-24-1-9-1-21-2-18-2-9-5-7-3-2-6-1-4 1-4 3-3 6-4 15-3 18-3 5-5 4-7 4-12 4-12 2-18 1M166-8l-14 17-9 7-6 2-6 1-21-2M349 436l-5-10-2-8-1-30 1-6 2-3 6-2 9 0 12 0 27 4 12-1" fill="none" stroke="#181818" stroke-opacity="0.9" stroke-width="1.3"/><path d="M321 436l2-24-1-15 0-21-2-9-3-3-21-6-12-8-6-3-6 1-3 2-9 9-6 4-12 4-9 2-9 0-9-1-9-2-18-8-15-11-11-13-10-18-6-18-2-18 0-24 3-27 4-15 7-15 9-12 21-23 4-7 4-9 2-9-1-9-3-9-7-15-5-5-3-1-9 1-16 8-44 26" fill="none" stroke="#000" stroke-width="2.6" stroke-linejoin="round"/><path d="M330.7,287.8 330.0,297.1 331.1,302.6 332.9,304.4 334.7,302.0 335.5,296.0 334.9,288.7" fill="none" stroke="#000" stroke-width="2.6" stroke-linecap="round" stroke-linejoin="round"/><g font-size="21" font-weight="bold" font-style="italic" fill="#000"><text transform="translate(193.0,46.3) rotate(-10)" y="7.6" text-anchor="middle">31</text><text transform="translate(175.3,91.5) rotate(-5)" y="7.6" text-anchor="middle">30</text><text transform="translate(165.4,120.2) rotate(-70)" y="7.6" text-anchor="middle">29</text><text transform="translate(248.1,91.5) rotate(-5)" y="7.6" text-anchor="middle">32</text><text transform="translate(290.1,184.2) rotate(10)" y="7.6" text-anchor="middle">31</text><text transform="translate(248.1,213.2) rotate(-5)" y="7.6" text-anchor="middle">31</text><text transform="translate(333.1,276.1) rotate(-5)" y="7.6" text-anchor="middle">30</text><text transform="translate(306.6,364.4) rotate(20)" y="7.6" text-anchor="middle">30</text><text transform="translate(281.2,387.6) rotate(-55)" y="7.6" text-anchor="middle">27</text><text transform="translate(316.6,411.9) rotate(-85)" y="7.6" text-anchor="middle">29</text><text transform="translate(383.9,372.1) rotate(-10)" y="7.6" text-anchor="middle">3</text></g>
</g></g>
<use href="#st"/>
<use href="#over"/>
<use href="#axl"/>
<path d="M552.2,0L567.5,-6.8L582.7,0Z" fill="#fbb582" stroke="#b08050" stroke-width=".8"/><path d="M552.2,439.1L567.5,445.6L582.7,439.1Z" fill="#e070ff" stroke="#8030a0" stroke-width=".8"/><rect x="552.2" y="0" width="30.5" height="439.1" fill="url(#cb)"/><path d="M552.5,0V439.1M582.4,0V439.1" stroke="#000" stroke-opacity=".35" stroke-width="1.2" fill="none"/><path d="M552.2,439.1h6.3M582.7,439.1h-6.3M552.2,376.4h6.3M582.7,376.4h-6.3M552.2,313.6h6.3M582.7,313.6h-6.3M552.2,250.9h6.3M582.7,250.9h-6.3M552.2,188.2h6.3M582.7,188.2h-6.3M552.2,125.5h6.3M582.7,125.5h-6.3M552.2,62.7h6.3M582.7,62.7h-6.3M552.2,0.0h6.3M582.7,0.0h-6.3" stroke="#000" stroke-width="2" fill="none"/><g font-size="29.4" font-weight="bold" font-style="italic" fill="#000"><text x="589.0" y="448.4">27</text><text x="589.0" y="385.7">28</text><text x="589.0" y="322.9">29</text><text x="589.0" y="260.2">30</text><text x="589.0" y="197.5">31</text><text x="589.0" y="134.8">32</text><text x="589.0" y="72.0">33</text><text x="589.0" y="9.3">34</text></g>
</g>
<text x="3.5" y="586.0" font-size="36.4" font-weight="bold">C</text><text x="612.0" y="601.0" text-anchor="end" font-size="38.6" font-weight="bold" font-style="italic">Salinity @ surface</text>
<g transform="translate(825.8,625.5)">
<use href="#base"/>
<g clip-path="url(#csea)"><g clip-path="url(#cenv)">
<g filter="url(#bl)"><rect x="105" y="-13" width="310" height="454" fill="#4cad0b"/><path fill="#53af09" d="M110-8l300 0 0 444-300 0zM170 118l-1 0-2 3 1 3 5 1 3-1 0-3-3-3z"/><path fill="#5bb108" d="M110-8l300 0 0 444-300 0zM164 114l-3 4-1 6 3 9 4 2 3 0 9-6 2-5-1-6-4-4-6-2z"/><path fill="#64b408" d="M110-8l300 0 0 444-300 0zM164 111l-5 4-2 3-2 12 2 9 3 3 4 1 6-1 9-8 3-3 1-7-1-7-4-5-5-2z"/><path fill="#6db608" d="M110-8l300 0 0 444-300 0zM164 109l-5 3-5 6-5 15 1 6 2 6 3 2 6 2 6-1 9-6 6-7 3-9-1-8-2-5-3-3-6-2z"/><path fill="#76b908" d="M110-8l300 0 0 444-300 0zM170 106l-9 2-5 4-5 6-4 9-3 9 0 6 2 6 6 5 9 1 9-3 9-8 6-10 1-12-3-9-4-4z"/><path fill="#7fbc08" d="M110-8l300 0 0 444-300 0zM164 106l-7 3-7 6-6 9-3 9-2 9 1 6 3 6 6 4 9 0 12-4 9-7 6-11 2-9 0-6-2-8-2-4-4-3-3-1-6 0z"/><path fill="#8abf08" d="M110-8l300 0 0 444-300 0zM161 105l-7 4-9 9-7 12-4 9 0 9 1 6 5 6 6 3 6 0 6 0 12-5 6-5 6-7 5-10 1-15-3-12-3-3-6-3-6 0z"/><path fill="#96c308" d="M110-8l300 0 0 444-300 0zM164 103l-9 4-10 8-9 12-6 12-2 9 1 9 5 6 6 4 12 1 9-2 6-3 12-10 6-9 2-5 2-9 0-9-1-6-3-8-3-3-6-2z"/><path fill="#a2c608" d="M110-8l300 0 0 444-300 0zM161 102l-9 5-10 8-10 12-7 12-3 12 1 9 4 6 7 5 6 2 9 0 15-5 9-6 6-6 6-8 2-6 2-9 1-12-2-9-3-6-3-3-6-2-6 0z"/><path fill="#abc808" d="M110-8l300 0 0 444-300 0zM167 100l-12 3-13 9-11 12-11 15-4 12 0 9 4 9 6 6 8 3 6 0 9 0 9-3 15-9 6-6 6-9 4-9 1-9 1-12-3-12-3-5-3-2-6-2z"/><path fill="#b2c908" d="M110-8l300 0 0 444-300 0 0-264 12 9 12 3 15-2 15-6 12-10 9-12 3-6 3-9 1-15-3-15-4-7-3-2-6-1-15 1-14 6-11 9-14 15-12 17z"/><path fill="#b8ca08" d="M110-8l300 0 0 444-300 0 0-251 15 4 12 0 15-3 15-9 12-11 9-14 4-13 0-15-2-15-2-5-3-3-9-4-12 1-12 4-12 7-14 12-16 16z"/><path fill="#bfca08" d="M110-8l300 0 0 444-300 0 0-242 15 2 15-2 15-5 15-10 12-13 7-12 3-12 1-18-1-12-4-10-3-3-6-2-12-1-12 3-14 7-31 24z"/><path fill="#c5cb08" d="M110-8l300 0 0 444-300 0 0-233 15 0 18-5 15-7 15-11 12-14 6-12 2-12 1-21-2-12-4-9-6-4-12-1-12 2-12 5-13 7-23 16z"/><path fill="#cccc08" d="M110-8l300 0 0 444-300 0 0-224 18-3 18-7 15-9 15-12 9-12 7-15 2-12 0-21-1-12-4-9-7-5-9-1-12 1-15 5-36 21z"/><path fill="#d2cc07" d="M110-8l300 0 0 444-300 0 0-216 15-3 18-8 15-9 15-12 11-13 7-12 3-12 1-12 0-21-2-12-2-6-3-3-6-3-12-1-15 2-15 6-30 16z"/><path fill="#dacc06" d="M110-8l300 0 0 444-300 0 0-207 15-5 18-9 15-10 15-13 12-14 6-11 4-13 1-12 0-24-1-12-5-9-8-5-12-1-15 3-17 6-28 13zM251 306l-4 4-1 6 2 5 3 1 3 0 5-3 2-3 0-3-4-6z"/><path fill="#e1cc04" d="M110-8l300 0 0 444-300 0 0-198 12-5 21-12 15-11 15-14 10-12 8-12 4-12 2-15-1-39-4-9-7-5-12-2-15 2-17 5-31 13zM248 304l-5 6-1 9 3 8 6 1 6-1 6-5 2-3 0-6-3-6-4-3-4-1z"/><path fill="#e8cc02" d="M110-8l300 0 0 444-300 0 0-187 12-7 24-17 15-12 15-15 9-12 8-14 4-12 2-12-2-18 1-15-2-12-5-9-6-4-9-2-15 2-18 5-33 11zM248 301l-6 6-4 12 1 10 3 5 3 1 6-1 12-6 4-3 3-6-2-9-5-6-9-4z"/><path fill="#efcc00" d="M110-8l300 0 0 444-300 0 0-175 6-4 33-27 15-14 12-13 12-16 6-12 4-12 2-12-2-21 1-15-1-12-4-8-6-5-9-3-12 0-21 5-36 11zM251 297l-6 3-4 4-4 6-2 9-2 15 2 6 4 4 6 0 6-2 18-12 3-5 1-6 0-6-4-7-9-7z"/><path fill="#f3cb00" d="M110-8l300 0 0 444-300 0 0-159 3-2 48-49 21-26 9-14 6-12 3-11 1-12-2-21 0-27-3-9-8-7-9-2-12 0-57 14zM251 294l-6 3-8 7-10 27-1 9 1 5 3 4 6 3 9 0 9-3 18-14 3-3 1-4 0-15-4-9-9-7-6-2z"/><path fill="#f6ca00" d="M110-8l300 0 0 444-300 0 0-133 22-35 38-46 18-25 11-22 3-9 1-12-3-24 1-18-1-12-2-6-7-7-9-4-9 0-63 13zM248 292l-9 6-5 6-17 33-2 9 1 6 2 4 6 4 9 1 15-2 14-4 6-3 4-3 6-10 2-8-1-9-1-10-3-8-6-7-6-3-9-3z"/><path fill="#fac900" d="M110-8l300 0 0 444-300 0 0-22 13-8 21-15 5-6 3-6-3-6-13-21-7-18-1-9 0-12 4-21 6-15 7-12 31-43 18-30 8-17 2-9 1-9-1-9-3-18 2-30-4-9-8-7-9-4-9 0-45 10-18 2zM248 287l-9 7-7 7-8 13-44 56-3 6 1 3 3 3 8 3 8 1 12 0 9-2 12-5 12-9 30-12 6-3 2-3 3-21-2-18-3-9-6-8-9-6-9-4z"/><path fill="#fdc900" d="M110-8l300 0 0 444-274 0 9-6 16-7 60-22 23-13 7-6 5-9 6-6 16-8 4-4 2-6 1-18-3-21-4-11-6-8-6-5-6-4-6-2-6 1-6 4-12 12-15 18-15 12-12 6-12 3-10-2-10-6-6-9-3-9-1-12 1-12 4-12 9-18 19-30 12-22 10-20 4-12 1-9 0-9-4-27 3-30-2-6-6-7-6-4-9-3-9 0-24 7-24 4-15 0z"/><path fill="#ffc600" d="M110-8l300 0 0 444-232 0 9-6 43-23 12-9 9-7 6-8 4-10 2-3 6-4 9-5 7-6 1-6 1-12 0-9-4-21-5-12-12-15-4-3-5-2-9 1-9 3-27 28-15 8-12 2-9-2-8-5-4-6-3-7-1-8 0-9 3-12 6-12 16-31 12-25 7-16 4-12 1-9-1-9-5-27 3-16 6-20-1-3-14-10-6-4-6-2-12 2-24 8-24 2-15-1z"/><path fill="#ffc000" d="M110-8l300 0 0 444-208 0 3-3 28-20 15-13 9-10 7-17 5-5 15-9 3-4 1-6 1-18-5-28-9-17-12-13-3-2-6 0-15 1-6 2-5 3-19 18-6 4-9 2-9-1-6-4-4-7-2-6 0-9 2-12 30-72 5-15 1-9 0-9-6-27 1-11 3-9 3-5 6-5 11-3 2-3 1-18 10-15 0-6-3-5-4-4-2-9-3-2-3-1-12 2-12-1-6 2-3 3-6 8-5 4-3 9-3 3-20 12-8 2-12-2-12 2-15-3zM281 106l-21 3-4 3 0 3 7 8 9 6 9 3 6-1 3-2 7-8 3-6 0-3-1-3-4-3-5-1zM341-2l-12 3-9 5-6 9 0 10 6 12 3 3 11 6 3 3 7 15 6 5 4 1 5 0 6-3 5-6 3-9 1-9-3-9-3-3-3 0-9 2-3-2 3-5 11-4 1-3 0-6-2-6-8-6-8-3zM338 336l-3 2-1 5 1 2 3 2 4-1 1-3-2-6zM207 58l5-1 3 1 0 3-3 4-3 1-3 0-3-2 0-3z"/><path fill="#ffba00" d="M110-8l198 0-7 12-3 9 0 6 4 9 12 15 15 9 3 3 5 12 4 5 6 4 9 3 9-1 11-5 28-23 6-4 0 390-193 0 2-3 23-20 12-13 6-9 7-18 20-15 2-6 2-18-4-27-3-10-9-16-6-7-6-4-9-3-21 0-6 1-6 3-12 10-9 4-8-2-5-6-2-9 1-9 15-48 9-27 3-12 0-15-6-24 0-9 2-8 3-5 3-3 6-2 6 1 18 11 24 18 15 7 15 4 3-1 1-1-3-6-1-6 1-6 6-12 0-6-3-6-7-3-24 2-15 0-6-2-6-6-4-6 0-9 8-18 2-15-1-9-6-6-8-4-9 0-15 3-12 1-18 5-9 0-9-3-15-14-6-3-6-1-12 3-15 10zM338 330l-3 2-3 5-1 6 0 3 3 3 7 1 3-1 2-3 0-6-2-6-3-3z"/><path fill="#ffb400" d="M146-8l145 0-11 24-1 6 2 3 30 24 15 9 7 15 6 6 6 3 8 2 9 1 6-1 16-5 26-12 0 369-183 0 21-23 9-11 6-11 3-12 4-6 14-10 4-5 3-6 1-21-3-24-5-15-9-15-9-9-6-2-18-2-21-6-6 0-9 5-2-1-1-27 0-12 4-18 8-24 2-12-1-15-7-21 0-9 3-7 3-3 6-2 6 1 13 8 23 18 18 11 15 7 9 1 9-4 3-6-1-6-7-9-2-3 4-15 0-9-3-7-6-3-6-1-21 3-12 0-9-3-4-4-3-6 0-9 7-17 10-22 2-6-3-4-3-2-9-2-15-2-9 1-18 5-18 2-6 0-6-1-5-3-2-3-5-12-3-5-6-5zM338 327l-3 1-3 4-3 5-1 6 1 4 3 3 4 2 5 0 6-3 2-3 0-6-2-7-3-4-3-2z"/><path fill="#ffad00" d="M168-8l108 0-3 6-5 6-11 7-48 12-15 2-9-1-4-2-2-3-3-13zM280 46l10 0 6 2 20 13 5 6 5 14 3 2 6 3 18 3 15 1 15-3 27-7 0 356-174 0 15-20 9-13 4-9 6-18 2-3 12-9 6-6 2-6 2-21-4-24-2-9-5-12-8-12-6-6-6-4-18-3-10-5-16-15-6-9-2-9 0-12 2-9 6-24 1-12-1-12-7-18-1-9 2-6 5-4 3 0 6 1 36 28 21 13 9 4 9 1 6-1 7-3 5-4 3-5 1-6-2-6-7-12 2-27-1-6-2-3-3-2-6 0-27 5-12 1-9-3-5-7-1-6 1-6 4-9 4-7 9-8zM335 325l-3 3-4 6-1 6-1 6 2 3 4 4 6 1 6-1 3-1 3-3 2-3-1-6-1-6-3-6-3-3-3-1z"/><path fill="#ffa600" d="M178-8l84 0-2 3-6 6-10 6-32 12-15 2-9-2-3-3zM268 58l4-1 6-1 18 4 6 4 3 3 1 6 0 3-6 6-11 6-14 3-12-1-3-2-3-3-1-9 4-11 3-4zM405 91l5-1 0 346-167 0 14-22 6-11 9-27 14-12 5-6 2-6 2-21-5-32-5-13-5-9-7-9-7-5-6-2-12-3-9-5-5-6-14-24-2-9 0-9 6-24 1-15-3-15-7-18 0-6 3-3 3-1 6 2 24 20 33 21 12 3 12-1 12-6 5-5 3-6 0-9-6-15-1-9 3-15 5-7 9-3 33 2zM338 321l-6 4-3 4-4 8 0 9 1 3 3 4 6 2 6 1 3-1 6-3 3-3 1-6-3-12-3-6-4-4z"/><path fill="#ff9e00" d="M186-8l62 0-2 3-7 6-15 9-12 5-12 2-5-1-4-3zM270 64l8-1 11 4 4 3 1 3-2 6-5 4-6 3-9 1-7-2-3-3-1-3 0-6 4-6zM337 100l10-1 24 1 39 0 0 336-162 0 12-20 6-12 6-25 3-4 12-10 6-8 2-5 1-21-5-33-4-12-4-9-7-9-7-6-6-3-12-3-6-3-5-6-6-12-6-21-2-9 5-36-1-27 3 1 42 25 8 4 7 1 9 1 15-3 12-8 6-9 2-6-1-6-6-18 0-9 3-9 2-3zM338 319l-6 3-5 6-3 9-1 9 2 6 4 3 6 1 6 1 7-2 5-3 2-3 2-6-4-14-3-6-6-4z"/><path fill="#ff9500" d="M194-8l40 0-5 6-7 6-7 4-9 2-3 0-5-3-2-6zM272 73l6-1 4 4-3 3-6 0-2-3zM339 106l5-2 6 0 60 6 0 326-156 0 14-30 3-9 3-18 2-3 14-13 5-8 3-24-5-33-4-12-5-11-6-8-6-6-6-4-13-4-5-3-3-3-3-6-2-9-2-33 1-12 2-12 2-6 5-3 9 1 18 10 9 2 12 0 12-2 9-3 10-5 8-9 3-9 0-12-5-15-1-6 1-6 2-3zM341 316l-6 1-6 5-5 9-3 9 0 6 2 6 6 4 6 2 9 0 8-3 4-3 3-6-1-6-5-18-6-5z"/><path fill="#ff8a00" d="M343 112l7-1 8 1 52 10 0 314-151 0 12-30 5-27 15-15 5-9 3-24-4-33-4-12-3-9-7-10-8-8-22-12-5-9 0-12 10-30 5-6 5-2 24-3 27-6 12-6 9-7 5-9 2-9 0-9-6-21 1-3zM335 315l-8 7-5 9-3 9 1 9 4 6 6 3 8 1 10-1 12-6 3-6-6-24-4-5-6-3-6-1z"/><path fill="#ff8000" d="M356 127l6-2 12 0 15 4 21 6 0 116-5 5-3 6-5 33 1 5 3 4 9 4 0 128-147 0 11-30 2-9 1-15 3-6 10-10 6-8 3-6 2-18-4-33-4-15-3-8-6-11-9-10-21-13-3-6 1-9 3-6 14-18 9-9 13-6 35-10 9-4 6-4 5-6 5-12 2-9 2-15zM335 313l-9 7-7 14-2 9 2 9 8 6 11 2 14-2 13-6 3-3 0-3-5-12-2-12-2-6-4-3-8-2-6 0z"/><path fill="#fe7401" d="M376 145l7 0 9 2 18 9 0 59-6 5-9 9-9 13-3 11 1 18 0 9-5 12-8 12-3 3-3 2-21-1-6 2-7 3-6 6-6 9-4 9 0 9 2 6 7 6 8 3 12 0 30-7 7-5 5-10 3-2 21-4 0 103-143 0 10-30 2-24 4-6 15-18 2-6 3-18-5-36-6-21-7-12-7-9-20-15-1-3 0-6 4-6 13-12 10-12 8-6 13-5 33-9 10-4 6-6 14-22 3-3zM374 322l3 1 5 5 1 6-3 2-6-1-3-2-1-2 0-6z"/><path fill="#fc6504" d="M375 184l5-3 3 0 3 3 1 6-4 9-6 6-3 5-3 13-4 12 0 6 8 27 0 9-2 9-5 9-6 6-6 3-18 3-6 3-6 5-6 7-7 12-1 3-1 6 4 9 5 5 6 3 9 2 9 0 15-3 21-1 21-9 9-2 0 89-139 0 10-30 1-24 3-6 15-18 2-6 4-15-3-15-3-24-6-21-4-9-9-13-16-17-1-3 1-3 19-15 11-15 7-5 12-4 15-3 33 0 6-2z"/><path fill="#f95707" d="M328 196l7 0 9 3 5 3 5 6 1 9-3 15 0 6 14 24 2 9 1 9-3 9-7 9-6 3-15 4-6 3-10 8-11 13-3 0-3-6-4-28-5-18-6-13-12-20-2-6 1-3 2-3 14-6 4-3 3-15 5-5 9-5zM305 352l3-2 10 8 5 3 12 2 24-2 21 1 30-7 0 81-135 0 9-30 0-24 3-6z"/><path fill="#f54c08" d="M320 202l9-1 6 2 6 3 4 5 2 9-4 15 1 6 16 24 3 9 0 6-3 9-5 6-23 10-7 5-14 13-3-2-1-2-8-42-13-27-2-6 1-3 2-4 16-8 2-6 1-9 3-6 5-4zM304 358l4-3 3 1 12 6 12 2 24-1 15 2 9 1 27-4 0 74-131 0 9-30-1-24 6-12z"/><path fill="#ef4308" d="M318 208l5-1 6 0 6 3 4 4 1 9-4 18 3 6 14 18 4 9 1 6-1 6-4 6-21 10-18 13-3 0-3-6-7-32-10-24-1-6 2-6 14-9 2-5 4-13 2-3zM304 361l4-2 3 0 18 6 9 1 19-2 26 5 27-1 0 68-127 0 8-30 0-6-2-15 1-6 5-9z"/><path fill="#ea3b08" d="M319 214l7-2 4 2 3 3 1 3 0 6-4 12 0 6 17 21 4 9 1 6-1 6-4 5-15 8-12 8-6 2-3-2-2-6-5-21-8-24-1-6 2-6 11-9 6-15zM303 364l5-3 3 0 18 5 27-1 24 7 30 1 0 63-124 0 8-30 0-6-3-15 1-6 5-9z"/><path fill="#e6340a" d="M321 220l5 0 2 3 0 6-4 9 0 6 16 21 5 9 1 6-2 6-3 3-18 13-6 2-3-1-3-5-4-18-6-18-1-9 2-6 9-9 6-14zM308 364l6 0 18 4 24-1 24 7 30 4 0 58-121 0 8-30 0-6-3-15 0-6 5-9z"/><path fill="#e22e0e" d="M314 247l6 2 10 10 5 9 3 9-1 6-2 3-9 8-6 4-3 0-3-4-9-32 1-9 2-3zM307 367l4-1 18 3 27 0 24 8 30 7 0 52-117 0 7-33-4-18 1-6 2-6z"/><path fill="#de2812" d="M314 256l3 0 6 3 5 9 0 9-2 5-3 3-3 0-3-3-6-14 0-9zM306 370l8-2 15 2 26 0 25 10 18 5 12 5 0 46-114 0 7-33-4-22 3-8z"/><path fill="#dc2415" d="M306 373l8-3 15 2 24 0 6 1 18 9 23 9 10 7 0 38-111 0 6-33-3-21 2-6z"/><path fill="#da2219" d="M337 373l13 0 6 2 21 11 13 5 9 6 3 6 2 9-4 15-1 9-97 0 1-9 5-24 0-9-3-9 1-6 2-3 6-3 12 1z"/><path fill="#d9211c" d="M326 376l15-1 12 1 36 21 4 6 0 6-9 15-2 12-76 0 0-9 6-27 0-6-2-12 1-3 3-2z"/><path fill="#d82020" d="M327 379l14-2 12 2 9 6 19 15 1 6-8 18-2 12-62 0 1-12 7-39 1-3z"/><path fill="#d82229" d="M330 382l11-2 9 2 12 9 8 9 2 3 0 6-10 27-46 0-1-12 4-24 5-12 2-3z"/><path fill="#d82533" d="M335 385l6-1 6 3 11 10 3 6 1 6-2 6-10 21-25 0-2-5-1-10 1-18 6-13z"/><path fill="#d8273c" d="M334 394l4-2 5 2 5 6 2 6-1 6-2 4-3 3-6 3-3 0-3-2-3-8 0-10z"/></g><path d="M341-2l-12 3-9 5-3 4-3 5-1 4 1 6 2 6 4 6 3 3 11 6 3 3 7 15 6 5 4 1 5 0 6-3 5-6 3-9 1-9-3-9-3-3-3 0-9 2-3-2 3-5 11-4 1-3 0-6-2-6-8-6-8-3zM207 58l5-1 3 1 0 3-3 4-3 1-3 0-3-2 0-3zM281 106l-21 3-4 3 0 3 7 8 9 6 9 3 6-1 3-2 7-8 3-6 0-3-1-3-4-3-5-1zM338 336l-3 2-1 5 1 2 3 2 4-1 1-3-2-6zM202 436l3-3 28-20 15-13 9-10 7-17 5-5 15-9 3-4 1-6 1-18-5-28-3-8-6-9-12-13-3-2-6 0-15 1-6 2-5 3-19 18-6 4-9 2-9-1-6-4-4-7-2-6 0-9 2-12 30-72 5-15 1-9 0-9-6-27 1-11 3-9 3-5 6-5 11-3 2-3 1-18 10-15 0-6-3-5-4-4-2-9-3-2-3-1-12 2-12-1-6 2-3 3-6 8-5 4-3 9-3 3-8 6-12 6-8 2-12-2-12 2-15-3M306 436l0-9 6-27 0-6-2-9 0-3 1-3 6-3 24-1 9 0 9 4 12 8 15 8 6 5 1 3 0 6-9 15-2 12" fill="none" stroke="#181818" stroke-opacity="0.6" stroke-width="0.75"/><path d="M184.0,108.0 186.2,117.3 188.0,126.1 189.3,135.8" fill="none" stroke="#000" stroke-width="2.6" stroke-linecap="round" stroke-linejoin="round"/><g font-size="21" font-weight="bold" font-style="italic" fill="#000"><text transform="translate(248.4,24.6) rotate(-5)" y="7.6" text-anchor="middle">32</text><text transform="translate(369.8,69.8) rotate(-5)" y="7.6" text-anchor="middle">32</text><text transform="translate(172.3,97.4) rotate(-10)" y="7.6" text-anchor="middle">31</text><text transform="translate(248.4,262.2) rotate(0)" y="7.6" text-anchor="middle">32</text><text transform="translate(344.4,378.1) rotate(5)" y="7.6" text-anchor="middle">33</text></g>
</g></g>
<use href="#st"/>
<use href="#over"/>
<use href="#axl"/>
<path d="M552.2,0L567.5,-6.8L582.7,0Z" fill="#fbb582" stroke="#b08050" stroke-width=".8"/><path d="M552.2,439.1L567.5,445.6L582.7,439.1Z" fill="#e070ff" stroke="#8030a0" stroke-width=".8"/><rect x="552.2" y="0" width="30.5" height="439.1" fill="url(#cb)"/><path d="M552.5,0V439.1M582.4,0V439.1" stroke="#000" stroke-opacity=".35" stroke-width="1.2" fill="none"/><path d="M552.2,439.1h6.3M582.7,439.1h-6.3M552.2,376.4h6.3M582.7,376.4h-6.3M552.2,313.6h6.3M582.7,313.6h-6.3M552.2,250.9h6.3M582.7,250.9h-6.3M552.2,188.2h6.3M582.7,188.2h-6.3M552.2,125.5h6.3M582.7,125.5h-6.3M552.2,62.7h6.3M582.7,62.7h-6.3M552.2,0.0h6.3M582.7,0.0h-6.3" stroke="#000" stroke-width="2" fill="none"/><g font-size="29.4" font-weight="bold" font-style="italic" fill="#000"><text x="589.0" y="448.4">27</text><text x="589.0" y="385.7">28</text><text x="589.0" y="322.9">29</text><text x="589.0" y="260.2">30</text><text x="589.0" y="197.5">31</text><text x="589.0" y="134.8">32</text><text x="589.0" y="72.0">33</text><text x="589.0" y="9.3">34</text></g>
</g>
<text x="715.1" y="585.7" font-size="36.4" font-weight="bold">D</text><text x="1340.3" y="601.0" text-anchor="end" font-size="38.6" font-weight="bold" font-style="italic">Salinity @ bottom</text>
<g transform="translate(92.5,1204.1)">
<use href="#base"/>
<g clip-path="url(#csea)"><g clip-path="url(#cenv2)">
<g filter="url(#bl)"><rect x="105" y="-13" width="310" height="454" fill="#d868ff"/><path fill="#cf5fff" d="M202-5l5-3 115 0 10 4 30 6 15 6 16 11 17 20 0 397-300 0 0-385 12 0 7-2 8-3 15-9 11-9 11-15 5-6 9-6zM215 90l0 5 4 8 5 4 3 0 3-1-1-3-8-10-3-4z"/><path fill="#c656ff" d="M251-2l21-3 12 1 12 3 12 8 7 9 7 12 0 3-1 3-4 4-3 8 0 3 3 5 6 4 3 0 3-1 3-5 0-6-2-12 3-3 8-3 12-3 9 2 7 4 8 9 6 12 4 15 0 15-4 14-11 22-1 12 3 12 7 12 29 25 0 257-300 0 0-380 15 0 12-3 30-13 7-6 9-18 5-5 6-3 27-7zM215 78l-3 3-2 10 2 7 6 10 6 5 9 5 29 15 10 11 3 1 3-1 3-5-1-3-9-24-3-6-8-6-18-1-9-3-5-5-7-11-3-2zM245 174l-3 4 0 1 5 8 4 9 6 4 3 0 4-1 4-6-1-3-1-2-12-7-4-6-2-1z"/><path fill="#bc4eff" d="M267 10l11-2 9 2 7 3 6 6 4 9-1 18 3 18 0 6-2 6-8 8-9 5-6 1-21-4-18 2-6-1-11-14-7-4-6-2-3 8-2 13 2 9 9 14 22 19 4 6 2 6 0 6-2 9-14 21-3 9-1 6 4 3 9 2 15 7 6 2 6-1 29-19 13-18 9-8 9-5 6-1 9 1 9 5 9 8 17 18 5 9 0 6-1 3-6 5-6 2-9-1-36-9-3 0-4 3-1 3 0 6 2 5 9 10 6 9 21 21 15 10 6 0 4-1 14-12 9-5 9-3 0 188-300 0 0-375 12 0 24-2 21-10 6-2 12 0 2-1 1-3-1-9 2-9 5-6 9-4 9-3 9-1 27 4 6 0z"/><path fill="#af47ff" d="M206 22l9-1 6 1 3 2 4 4 5 13 3 4 6 2 6 0 9-5 3-3 6-11 6-5 9-3 7 2 5 4 4 8 2 27-3 9-7 6-5 2-6 0-15-2-18-5-15-12-21-9-9-7-3-6 0-6 4-6zM165 55l5-2 6 0 18 5 6 5 6 10-1 18 3 9 7 10 17 17 6 9 2 9-2 9-17 33-2 6 1 3 1 2 18 5 18 6 6 1 6-1 18-8 9-1 6 0 3 2 3 5 9 28 2 3 16 8 17 16 13 10 6 3 9 0 30-9 0 170-300 0 0-372 24 0 15 1zM290 242l-1 2 1 3 1-3zM328 181l4-1 3 0 2 1 1 3-3 4-6 0-2-1-1-3z"/><path fill="#a141ff" d="M279 31l5 0 3 1 3 4 2 7 1 12-3 9-6 5-6 0-6-1-6-2-4-5-1-3 2-6 8-15 4-4zM208 34l4-2 3 2 0 3-3 2-3-1zM168 58l8-1 12 3 6 2 6 5 4 9 0 15 1 6 10 16 13 14 6 12 1 9-2 9-17 33 0 6 2 4 3 2 12 2 30 9 6-1 18-6 12 1 3 2 3 4 3 10 0 5-3 7 0 3 6 3 18 5 6 3 27 24 9 5 6 2 9 1 24-4 0 159-300 0 0-368 24-1 15 3 12-9zM287 235l-2 6 0 6 2 5 3 1 5-3 7-11 3-1-9-4-6 0z"/><path fill="#943dff" d="M277 43l4-2 3 1 2 4-1 9-4 4-6 0-3-4 1-6zM168 61l8-1 15 3 6 4 3 3 3 6-1 15 2 6 8 14 13 16 6 12 1 9-2 9-16 33-1 6 3 6 5 2 12 3 30 8 9 0 15-4 9 0 3 2 3 4 0 6-3 4-12 3-3 2-1 3 0 15 1 3 3 3 3 0 3-1 12-9 6-1 15 3 9 4 27 24 9 6 6 2 9 1 24 0 0 151-300 0 0-365 24-1 12 3 3 0 15-10z"/><path fill="#873aff" d="M168 64l5-1 15 2 6 2 4 3 2 3 2 6-1 12 2 6 9 16 11 14 5 9 1 9-1 9-3 9-14 27 0 6 2 6 5 3 45 12 12 1 15-3 4 2 1 3-2 3-9 3-3 3-1 3 2 21 2 3 3 2 6-1 9-6 6-2 12 0 9 2 9 5 24 23 9 6 15 5 24 1 0 145-300 0 0-363 24-1 12 4 3 0zM338 337l-2 3-1 3 3 4 3 2 3 0 3-3 1-6-4-4-3-1z"/><path fill="#7c39ff" d="M166 67l7-2 15 1 6 2 3 3 4 8-1 12 2 6 7 13 12 17 4 9 2 9-2 12-13 27-3 8 0 7 3 5 6 3 27 6 24 7 6 3 2 3 3 27 1 3 3 3 6 1 18-9 12 0 9 1 9 6 15 13 9 10 9 7 15 6 24 4 0 138-300 0 0-360 24-1 12 4 3 0zM338 333l-3 3-2 4 1 6 7 7 6-1 5-6 0-6-1-3-3-3-4-2z"/><path fill="#743aff" d="M165 70l8-2 15 0 6 2 3 3 3 6-1 12 1 6 19 30 4 9 2 9-2 12-13 27-3 9 0 6 4 6 7 4 27 6 17 5 7 3 3 3 4 12 3 18 2 3 3 2 6 1 18-8 12-1 9 1 8 5 13 12 12 13 9 7 12 6 27 7 0 132-300 0 0-357 24-2 12 4 6-2zM338 331l-6 6-2 6 1 3 4 5 6 5 6 0 3-2 4-5 2-6-1-6-2-4-6-4-6 0z"/><path fill="#6b3dff" d="M172 70l16-1 6 3 3 3 2 4-1 12 2 6 18 30 4 9 1 9-1 9-3 9-10 18-3 9-1 9 3 6 7 4 30 7 19 7 4 3 7 13 2 5 1 13 3 5 3 2 6 0 18-8 15-1 6 1 6 3 13 12 14 16 9 8 15 8 24 8 0 125-300 0 0-355 21-2 15 4 6-2 12-8zM338 328l-4 3-4 6-2 6 1 3 9 10 6 4 3 0 6-4 5-7 2-6 0-6-4-7-6-4-6 0z"/><path fill="#6642ff" d="M168 73l20-2 6 2 4 6-1 12 2 6 17 30 4 9 1 9-2 12-15 33 0 9 2 6 3 3 6 3 30 7 15 5 3 2 11 16 3 18 4 5 3 2 6 0 12-6 9-2 15-1 6 2 17 15 19 24 6 4 36 18 0 116-300 0 0-353 21-1 15 3 6-2 12-8zM344 322l-6 3-6 5-5 7-1 6 3 6 9 10 6 5 3 0 6-2 8-10 3-6 1-9-3-9-6-6-6-1z"/><path fill="#6147ff" d="M181 73l7-1 3 1 4 3 2 6-1 9 1 4 18 32 4 12 1 9-3 9-11 24-4 9 0 9 4 8 9 5 30 7 11 4 4 3 4 6 9 9 2 6 0 12 3 5 3 3 3 1 6-1 12-5 6-2 18-1 6 2 17 16 9 15 4 12 3 2 11 4 22 14 12 6 0 106-300 0 0-350 18-2 18 3 6-2 15-10zM356 310l-9 4-12 9-6 7-5 10 1 6 13 16 6 6 6 1 6-1 3-3 11-16 2-9 0-6-3-9-10-15z"/><path fill="#604dfd" d="M176 76l12-3 6 3 2 6-1 9 2 6 17 30 3 9 1 9-1 9-16 36-1 9 2 6 4 4 6 4 31 7 14 6 6 9 6 4 3 4 3 19 3 5 3 2 6 1 18-7 21-1 6 2 12 10 6 9 3 9 0 3-3 5-10 10-13 18-5 12 2 6 17 23 9 10 6 14 18 19 6 4 6 1 24 3 0 16-300 0 0-348 18-1 18 1 8-3 10-7 6-2zM387 340l5-2 3 1 15 6 0 48-9 2-9-2-9-4-6-7-3-12 0-9 6-12z"/><path fill="#6053fa" d="M182 76l6-2 3 1 3 3 1 4 0 9 1 6 17 30 3 12 0 9-2 9-12 24-3 9-1 9 2 6 5 6 6 3 16 5 15 2 11 5 3 3 4 6 8 6 3 3 1 3 0 9 1 6 4 6 4 3 3 1 6-1 15-5 12 1 9-1 6 2 11 9 3 9 0 6-3 3-8 5-3 4-3 12-8 18-1 6 0 3 4 6 10 12 18 36 22 22 12 5 24 6 0 6-300 0 0-346 18-1 18 0 6-2 15-9zM391 361l4-1 3 1 3 3 2 6-2 7-3 2-6 2-6-2-2-6 2-8z"/><path fill="#5f5af8" d="M186 76l5 0 2 3 1 15 16 30 5 15 0 9-2 9-12 24-4 9 0 9 3 9 3 3 6 4 18 6 15 2 9 4 9 11 9 7 1 5 1 9 1 5 3 5 6 4 6 1 18-5 7 2 8 7 3 0 6-3 6 2 3 3 1 3-1 3-9 6-3 6-2 18-7 18 1 9 14 18 17 39 10 8 12 13 27 15-288 0 0-343 36-3 6-2 15-8 12-2z"/><path fill="#5c61f8" d="M181 79l7-2 4 2 1 3 1 13 17 32 3 12 0 9-3 9-12 24-3 9-1 9 3 9 5 6 6 3 18 6 15 2 8 4 7 9 8 6 3 3 1 12 2 6 4 6 3 3 3 2 6 0 12-3 6 0 6 3 8 10 3 6 0 6-2 15-6 21 1 9 16 18 16 44 9 5 12 13 18 13-276 0 0-341 36-4 21-10z"/><path fill="#5867f8" d="M184 79l4-1 3 2 3 17 14 27 5 15-1 9-2 9-12 24-4 9-1 9 3 9 4 6 6 4 12 3 9 5 12 0 9 4 9 11 8 6 1 3 1 9 2 6 3 6 6 6 3 2 6 0 15-4 6 3 4 5 4 6 2 9-2 12-6 21 0 6 2 6 17 18 11 30 4 18 9 4 11 11 15 12-269 0 0-339 36-5 21-10z"/><path fill="#4f6ef8" d="M172 82l16-2 3 2 2 15 14 27 4 12 0 9-1 9-14 27-3 9-2 9 3 10 3 5 6 4 13 5 11 7 12-2 4 1 5 3 7 9 8 8 5 19 4 6 6 6 6 3 12-4 6 0 7 4 4 6 2 9-2 9-7 21 1 9 1 6 3 4 12 9 6 8 3 12 7 18 2 15 1 3 2 2 9 4 20 18-263 0 0-337 36-6 18-9z"/><path fill="#4575f8" d="M182 82l6 0 2 3 3 12 15 30 2 12 0 9-3 9-13 24-3 9-1 12 3 9 7 8 15 6 10 7 5 1 9-2 6 2 15 17 9 23 12 15 3 1 10-6 5-1 5 1 3 3 3 6 1 6-1 6-6 15-1 6 0 9 2 9 3 6 12 6 6 6 2 3 3 12 6 15 2 9 0 9 2 6 12 7 13 11 2 3-258 0 0-335 33-6 9-3 15-8zM242 299l-2 5 2 6 3 1 5-1 6-3 0-3-5-3-6-2z"/><path fill="#3b7bf6" d="M166 85l7-2 12 0 3 1 4 13 12 24 5 12 0 9-2 12-14 27-5 12 0 9 3 11 3 4 6 5 15 6 9 6 6 1 9-2 6 3 12 17 16 33 1 6 0 3-4 6 4 3 13 5 6 0 2-2-2-12 2-6 4-3 3 1 2 2 2 6-1 6-3 5-4 4 0 3 2 21 5 15 3 4 12 5 6 6 3 12 8 18 1 18 1 3 17 12 8 9-254 0 0-333 36-8zM239 291l-3 4-2 6 2 9 3 4 6 1 12-4 4-1 7-6-3-3-11-4-9-6-3-1z"/><path fill="#3182f3" d="M169 85l13-1 3 0 3 2 4 11 13 27 3 12 0 9-2 9-15 27-4 12-1 9 2 10 3 5 6 6 15 7 12 7 6 1 9-1 3 1 3 3 4 9 2 6-1 3-8 3-2 3-1 6 2 9-8 10-2 5-1 9 3 9 3 3 6 2 18-5 12-4 9 2 9 5 4 6 4 15 7 17 4 4 11 2 3 3 2 4 10 27 3 21 3 4 15 11 5 6-251 0 0-331 33-8zM254 262l3 2 3 3 9 19-1 6-4 3-4 0-6-3-7-9-1-3 1-3 4-12z"/><path fill="#2889f0" d="M173 85l10 0 5 3 15 33 4 15 0 9-3 9-14 27-5 12-1 12 3 9 4 7 6 5 27 14 15 3 3 4-1 6-5 7-2 5 1 15-8 15 0 9 3 10 4 5 5 1 30-8 6-1 6 3 8 5 3 6 4 12 9 20 4 4 11 2 3 4 11 24 1 9 1 12 2 5 15 13 5 6-248 0 0-329 33-9 24-12zM256 280l1-2 3 1 3 4 1 3-2 3-2 1-3-2-2-5z"/><path fill="#248ff0" d="M165 88l8-2 9 0 3 1 13 25 6 15 2 12-1 9-5 12-15 27-3 12 0 9 3 9 8 9 32 18 5 3 2 3-2 15 0 15-7 12-1 6 0 6 5 12 3 4 6 3 36-10 6 1 7 5 4 6 13 30 3 5 3 2 12 4 3 4 11 24 2 21 5 7 9 8 5 6-245 0 0-327 33-10z"/><path fill="#2196f0" d="M166 88l10-2 6 1 3 1 14 27 5 15 1 12-2 9-4 9-16 27-3 12 0 9 4 12 7 9 6 4 22 11 6 6 1 6-2 9 2 12-1 3-7 11-1 7 2 9 5 12 6 6 6 1 33-11 6 0 7 4 5 6 18 36 3 3 10 3 5 6 10 21 2 21 3 5 13 13 2 3-243 0 0-325 33-11z"/><path fill="#1c9cf2" d="M168 88l11-1 6 2 13 26 5 15 1 12-2 9-4 9-16 27-4 12-1 9 3 12 8 11 9 6 18 10 3 3 0 6-4 12 1 12-4 15 1 9 5 12 7 9 5 3 4 1 6-1 12-6 18-5 6 0 6 4 3 4 19 36 4 3 10 4 5 5 10 21 3 23 3 5 12 14-240 0 0-323 33-12z"/><path fill="#16a2f5" d="M170 88l9 0 6 2 13 25 5 15 0 12-2 9-5 9-16 27-4 12-1 9 2 12 5 9 9 10 15 11 2 3-4 15 1 24 2 12 3 9 8 12 6 4 6 2 6 0 15-8 18-5 6 1 5 3 22 39 3 3 12 5 5 7 9 18 2 18 2 6 14 18-239 0 0-320 30-13 24-13z"/><path fill="#10a9f7" d="M175 88l7 1 5 5 11 24 4 15 0 9-3 9-23 39-3 9-1 12 2 9 3 9 5 7 13 17 2 6-1 15 2 18 3 12 4 9 5 9 6 6 5 4 7 2 8-1 15-8 15-4 6-1 6 3 23 38 4 4 12 6 4 5 9 18 2 18 2 6 13 18-237 0 0-318 30-13 27-15z"/><path fill="#10afed" d="M166 91l10-2 6 1 3 3 11 22 5 15 0 12-3 9-24 39-3 9-2 12 1 9 3 9 14 27 5 36 3 12 4 9 6 9 7 8 7 4 8 3 9-1 15-9 15-5 6-1 3 2 3 2 6 12 16 24 5 5 12 6 5 7 7 15 5 24 11 18-235 0 0-316 30-14z"/><path fill="#10b6e3" d="M167 91l6-2 6 1 3 1 3 3 11 21 4 15 0 11-3 10-25 39-3 9-3 12 2 15 11 30 6 36 7 18 7 12 7 8 9 6 9 3 6 0 6-1 15-9 15-5 6-1 3 2 7 12 20 27 12 7 7 8 8 15 4 24 11 18-234 0 0-313 27-14z"/><path fill="#0ebdd7" d="M169 91l4-1 6 0 3 2 3 3 11 23 4 15-1 9-3 9-26 39-5 12-2 12 1 15 9 30 5 30 8 21 7 12 9 9 8 6 11 4 9 0 6-1 15-9 15-5 6 0 3 2 6 9 20 27 13 7 7 8 7 15 4 24 10 18-232 0 0-311z"/><path fill="#0ac3c9" d="M171 91l8 0 3 1 3 4 10 22 4 15-1 9-3 9-28 39-5 12-2 12-1 12 2 12 11 51 6 18 7 12 11 12 10 7 12 5 9 1 6-1 6-3 15-9 12-3 6 0 28 36 14 8 6 7 7 15 5 25 9 17-231 0 0-308 6-3 45-30z"/><path fill="#07c9bc" d="M165 94l5-2 6-1 7 3 5 8 6 13 3 9 1 9-1 9-3 8-6 9-23 31-6 12-4 15 1 21 7 39 5 18 6 15 8 12 11 12 10 6 12 5 9 1 6-1 9-3 12-7 6-3 9-2 6 2 15 16 12 16 15 9 5 6 8 15 5 26 8 16-230 0 0-305z"/><path fill="#04ccaf" d="M166 94l4-2 6 0 6 2 2 3 10 21 3 15-1 9-4 9-7 10-23 29-7 12-4 15-1 18 3 27 6 27 7 18 8 12 10 12 12 9 13 6 12 2 9-1 6-1 15-9 6-2 9-2 6 2 15 15 11 14 4 3 11 6 5 6 8 15 5 24 8 18-229 0 0-302 46-34z"/><path fill="#00d0a1" d="M167 94l9-2 5 2 3 3 5 9 4 12 3 15-1 9-4 9-6 8-20 22-9 12-6 12-4 15-2 21 3 24 6 24 7 18 10 15 11 12 13 9 12 5 12 2 9 0 9-2 15-9 6-2 9-1 6 2 15 13 12 14 13 8 6 6 7 15 5 24 8 18-228 0 0-299 43-34z"/><path fill="#00d098" d="M168 94l8-1 3 1 4 3 9 18 2 9 1 9-1 9-5 9-7 10-20 20-9 12-8 12-5 15-2 18 1 21 6 24 8 21 9 15 13 15 13 10 15 6 15 3 12-1 9-4 12-7 9-3 9 1 9 6 9 7 12 14 12 7 8 9 6 12 5 24 7 18-227 0 0-295 44-38z"/><path fill="#00d08e" d="M170 94l6 0 3 0 6 7 8 20 1 9 0 6-3 10-6 9-29 29-10 12-8 12-5 12-2 18 1 21 5 21 8 21 11 18 11 13 13 11 17 8 15 4 15-1 9-2 15-9 9-2 9 0 9 5 9 8 12 13 15 9 4 6 7 15 4 21 7 18-226 0 0-291 45-42 8-6z"/><path fill="#01cf85" d="M164 97l6-2 6-1 6 4 5 8 3 9 3 9 0 9-2 10-6 10-9 10-25 21-12 12-7 9-6 12-3 18 1 21 5 24 9 21 11 18 13 15 16 12 16 8 15 3 15 0 12-3 15-9 9-2 9 0 12 7 17 17 15 9 5 6 7 15 3 21 7 18-225 0 0-285 36-39 10-9z"/><path fill="#04cc79" d="M165 97l5-2 6 0 3 1 4 4 5 9 3 12 2 9-1 6-4 10-9 11-12 11-41 31-7 9-5 9-3 12 1 15 8 30 10 24 13 21 13 15 17 13 18 9 18 4 15-1 13-4 14-8 9-2 9 0 12 6 17 16 13 7 6 8 7 15 4 21 6 18-224 0 0-277 17-23 10-12 17-18z"/><path fill="#07c96e" d="M167 97l6-2 6 2 3 3 4 6 4 12 2 9-1 9-3 8-6 8-6 6-21 15-12 7-12 5-6 1-6 0-3-2-1-3-1-9 3-12 6-12 9-15 15-18 11-12zM110 277l0-2 20 35 14 18 16 15 20 12 17 6 18 1 18-3 8-4 10-6 6-2 12 0 12 5 16 15 14 8 6 7 6 15 4 21 6 18-223 0z"/><path fill="#08c561" d="M168 97l5-1 5 1 4 3 3 6 3 9 3 12 0 6-3 8-6 9-6 6-18 12-18 7-6 1-6-2-4-5-1-6 2-9 4-12 10-15 14-18 8-8zM110 295l0-2 22 29 17 18 17 12 19 8 18 4 18 0 15-4 15-9 9-3 12 1 9 5 15 13 15 9 5 6 8 18 3 18 5 18-222 0z"/><path fill="#09be54" d="M170 97l6 0 3 1 6 8 3 12 2 9 0 6-2 6-9 12-15 11-15 6-6 1-6-1-3-1-3-4-1-6 1-9 3-9 7-12 13-18 7-7zM110 307l0-1 3 2 20 23 17 15 17 11 18 7 18 3 18-1 15-4 17-10 7-2 12 1 9 4 15 13 15 8 5 6 7 18 8 36-221 0z"/><path fill="#0bba48" d="M173 97l3 0 4 3 4 6 2 6 3 15 0 6-3 6-7 10-15 10-9 4-6 1-9-2-4-5-1-6 1-9 4-9 17-27 7-6zM110 316l22 21 15 12 20 12 18 6 18 3 18-2 12-3 21-11 9-2 9 0 9 4 15 12 14 8 5 6 8 18 7 36-220 0z"/><path fill="#0eb53b" d="M165 100l5-2 6 0 6 5 2 6 3 9 1 9-1 6-5 10-12 11-12 5-6 1-6-1-3-2-4-6 0-6 2-9 13-24 4-6zM110 325l3 2 22 19 14 9 18 9 21 7 18 1 15-1 12-4 21-11 9-2 9 0 9 3 15 12 14 7 5 6 7 18 7 36-219 0z"/><path fill="#10b030" d="M166 100l4-1 6 0 3 2 3 4 3 7 2 9-1 12-4 8-9 8-12 6-9 0-6-3-2-4-1-6 1-6 5-12 8-15 5-6zM110 334l0-1 3 1 23 18 19 11 18 7 18 4 18 1 15-3 12-4 21-11 6-2 9 0 9 3 16 12 12 6 5 6 4 9 4 12 7 33-219 0z"/><path fill="#15ae2b" d="M168 100l5-1 3 1 3 2 3 4 4 15-1 12-3 6-9 8-9 4-9 1-6-4-2-3 0-6 1-6 4-12 6-12 5-6zM110 340l3 1 24 17 17 9 19 7 18 3 18 0 15-2 9-3 21-11 9-4 9 0 9 2 15 11 12 6 5 6 5 9 4 12 6 33-218 0z"/><path fill="#19ab27" d="M169 100l7 0 5 6 3 12 0 12-5 9-6 5-9 4-6 0-6-3-1-3-1-6 1-6 8-21 5-6zM110 349l0-3 27 17 21 9 18 6 18 2 15 0 15-3 12-4 23-12 7-2 9 0 6 1 14 10 13 6 5 6 4 9 4 12 6 33-217 0z"/><path fill="#1ea922" d="M165 103l5-3 3 0 3 1 3 3 4 8 0 15-2 6-5 6-9 5-6 1-3-1-3-3-2-8 2-9 3-12 4-6zM110 355l0-3 27 15 21 9 18 5 18 2 18-1 15-3 39-18 9-1 6 2 13 8 13 6 5 6 9 21 5 33-216 0z"/><path fill="#24a81d" d="M166 103l7-2 4 2 3 3 2 6 0 9 0 6-3 6-7 6-8 2-3-1-3-2-2-8 3-18 4-6zM110 361l0-3 27 14 21 8 18 4 18 2 15-1 15-3 12-4 30-15 9-2 6 2 12 7 13 6 6 6 5 12 4 12 4 30-215 0z"/><path fill="#2ba818" d="M167 103l6-1 3 1 4 6 1 9 0 6-3 6-5 5-6 2-3 0-3-3-2-10 1-12 4-6zM110 364l27 12 18 7 21 5 18 1 15-1 15-3 12-4 21-10 12-7 6-1 6 1 12 7 12 5 6 6 5 9 5 15 3 30-214 0z"/><path fill="#33a814" d="M169 103l4-1 5 4 2 6 0 6-1 5-3 5-6 3-3 0-3-2-1-2-2-6 0-6 3-8zM269 367l6-2 6 0 12 7 12 4 4 3 5 9 6 18 4 30-214 0 0-67 27 12 18 6 21 4 18 1 18-2 18-4 30-12z"/><path fill="#3ba90f" d="M166 106l4-3 3 0 3 2 3 4 0 9-3 5-3 2-6 0-3-4-1-9zM274 367l4-1 6 2 9 4 12 5 5 5 5 9 5 17 3 28-213 0 0-62 27 11 21 6 21 3 18 1 24-4 39-12 5-3 5-6z"/><path fill="#45ab0d" d="M167 106l3-2 3 0 3 2 2 3 0 6-1 3-4 4-3 0-3-1-2-3-1-6zM273 370l5-2 6 1 21 8 5 5 4 9 6 18 2 27-212 0 0-57 27 10 21 6 21 3 18 0 21-3 45-12 5-4z"/><path fill="#4fae0a" d="M169 106l4-1 4 4 0 6-4 4-3 1-3-2-2-3 1-6zM278 370l6 0 18 6 5 3 2 3 4 9 6 18 2 27-211 0 0-52 27 9 21 5 21 3 21-1 21-3 45-12 4-3 4-9z"/><path fill="#59b008" d="M167 109l3-3 3 0 2 3 1 3-3 5-3 0-3-2-1-3zM278 373l3-2 3 1 18 5 7 5 4 9 5 18 2 27-210 0 0-47 27 8 21 5 21 2 21-1 21-3 44-12 7-5z"/><path fill="#66b408" d="M169 109l1-1 3 1 0 5-3 0-1-2zM278 376l3-2 6 0 15 3 6 5 4 9 6 18 1 27-209 0 0-42 27 7 21 5 21 1 21-1 21-3 42-12 9-5z"/><path fill="#72b808" d="M281 376l6-1 12 2 5 2 4 4 4 8 5 18 1 27-208 0 0-38 30 8 21 4 21 1 21-2 21-4 39-11 9-6z"/><path fill="#7fbc08" d="M287 376l15 3 3 1 4 5 8 26 0 25-207 0 0-33 30 7 21 3 21 1 21-2 24-5 36-11 9-6 9-11 3-3z"/><path fill="#8fc108" d="M283 379l4-2 12 1 6 3 3 4 8 27 0 24-206 0 0-29 30 7 21 3 24 0 21-2 27-6 30-11 9-6z"/><path fill="#a0c608" d="M286 379l4-1 10 1 5 3 3 3 7 27 0 24-205 0 0-24 30 6 24 3 24-1 21-2 27-7 27-11 9-6 10-12z"/><path fill="#adc808" d="M291 379l11 1 3 2 3 6 7 24-1 24-204 0 0-20 30 6 24 2 24 0 24-4 27-7 24-11 9-6 12-14z"/><path fill="#b6c908" d="M286 382l4-2 9 0 4 2 3 3 3 6 5 21-1 24-203 0 0-15 33 5 30 2 27-2 27-6 21-8 18-9 9-7z"/><path fill="#bfca08" d="M288 382l8-1 6 1 3 2 2 4 6 24-1 24-202 0 0-11 36 6 27 1 27-2 27-7 21-8 18-10 9-7 9-13z"/><path fill="#c8cb08" d="M291 382l5-1 6 2 3 3 2 5 5 24-2 21-119 0 36-9 24-10 21-14 14-18zM110 430l31 6-31 0z"/><path fill="#d1cc08" d="M288 385l5-3 6 0 3 2 3 4 3 9 2 18-1 21-96 0 29-11 15-8 18-15zM110 436l2 0z"/><path fill="#dbcc05" d="M290 385l3-1 6-1 3 2 3 4 2 11 2 18-2 18-80 0 24-12 12-8 12-11 9-14z"/><path fill="#e5cc03" d="M292 385l4-1 4 1 3 3 2 4 1 8 1 21-1 15-68 0 19-11 9-7 12-14 9-15z"/><path fill="#efcc00" d="M289 388l4-2 6 0 3 2 3 6 0 9-1 9 1 12-2 12-55 0 15-11 6-5 9-13 7-13z"/><path fill="#f4cb00" d="M292 388l4-1 3 0 3 3 1 4 1 9-2 9 1 15-2 9-43 0 14-12 14-30z"/><path fill="#f9ca00" d="M296 388l3 1 2 2 2 6-1 6-3 9 1 15-2 9-28 0 10-9 1-3 1-12 5-15 3-6z"/><path fill="#fec800" d="M293 391l3-1 3 1 2 6-1 6-5 12 0 9-2 5-3-2-1-6-3-9 1-12 3-6z"/><path fill="#ffc200" d="M292 394l4-2 2 2 1 3-1 6-5 5-3-1-1-4 1-4z"/></g><path d="M110 81l21-2 15 4 6-2 12-8 6-3 18-1 6 3 3 3 2 4-1 12 2 6 19 33 4 12 0 9-3 9-11 21-3 9-1 9 3 6 7 4 30 7 19 7 4 3 7 13 2 5 1 13 3 5 3 2 6 0 12-6 6-2 15-1 6 1 6 3 13 12 14 16 9 8 15 8 24 8M338 328l-4 3-4 6-2 6 1 3 9 10 6 4 3 0 6-4 5-7 2-6 0-6-4-7-6-4-6 0zM110 103l36-8 18-9 6-2 15-1 3 1 4 13 14 27 3 9 0 6 0 9-3 9-13 24-4 9-1 12 2 9 4 6 4 3 17 8 9 6 6 1 9-2 3 1 3 2 12 17 16 33 1 6 0 3-4 6 4 3 13 5 6 0 2-2-2-12 2-6 4-3 3 1 2 2 2 6-1 6-3 5-4 4 0 3 2 21 5 15 3 4 3 2 6 1 3 2 6 6 3 12 8 18 1 18 1 3 3 3 14 9 6 6 2 3M239 291l-3 4-2 6 2 9 3 4 6 1 12-4 4-1 7-6-3-3-11-4-9-6-3-1zM110 125l6-3 51-30 6-2 6 0 3 2 3 3 9 17 4 12 2 9-1 9-2 6-4 9-18 24-7 12-4 12-1 12 1 12 9 30 5 30 6 18 7 12 11 12 8 6 11 4 9 0 6-1 15-9 15-5 6 0 3 2 6 9 20 27 4 3 9 4 7 8 7 15 4 24 10 18M168 97l5-1 5 1 4 3 3 6 3 9 3 12 0 6-3 8-6 9-6 6-18 12-9 4-9 3-6 1-6-2-4-5-1-6 2-9 4-12 10-15 14-18 8-8zM110 293l3 3 16 23 17 18 18 14 18 8 18 5 15 0 9-1 9-2 9-4 9-6 6-2 12 0 6 1 6 4 15 13 15 9 5 6 5 9 3 9 3 18 5 18M169 103l4-1 3 2 2 2 2 6 0 6-1 5-3 5-6 3-3 0-3-2-1-2-2-6 0-6 3-8zM110 369l27 12 18 6 21 4 18 1 18-2 15-3 33-13 9-7 3-2 3 0 6 0 12 7 12 4 6 6 4 9 5 15 4 30M110 416l30 6 24 2 24 0 21-3 27-7 24-10 12-8 12-14 6-3 6 0 6 1 3 2 4 9 6 21-1 24M293 391l3-1 3 1 2 6-1 6-5 12 0 9-2 5-3-2-1-6-3-9 1-12 3-6z" fill="none" stroke="#181818" stroke-opacity="0.6" stroke-width="0.75"/><path d="M279 31l5 0 3 1 3 4 2 7 1 12-1 6-2 3-6 5-6 0-6-1-6-2-4-5-1-3 2-6 8-15 4-4zM208 34l1-1 3-1 3 2 0 3-3 2-3-1zM110 68l24-1 12 3 3 0 15-10 9-3 21 5 6 5 3 6 1 6 0 12 2 7 9 15 15 17 3 6 2 6 0 9-2 6-17 33 0 6 2 4 3 2 12 2 30 9 6-1 18-6 6 0 6 1 3 2 3 4 3 10 0 5-3 7 0 3 6 3 18 5 6 3 27 24 9 5 6 2 9 1 24-4M287 235l-2 6 0 6 2 5 3 1 5-3 7-11 3-1-9-4-6 0z" fill="none" stroke="#000" stroke-width="2.6" stroke-linejoin="round"/><path fill="#fff" d="M231.2,341.1 235.6,346.7 240.1,356.6 244.5,365.9 239.6,365.0 235.2,361.4 232.6,354.4Z"/><g font-size="21" font-weight="bold" font-style="italic" fill="#000"><text transform="translate(208.0,22.8) rotate(-5)" y="7.6" text-anchor="middle">1</text><text transform="translate(194.8,69.1) rotate(-20)" y="7.6" text-anchor="middle">2</text><text transform="translate(171.6,98.9) rotate(-10)" y="7.6" text-anchor="middle">10</text><text transform="translate(206.9,198.2) rotate(25)" y="7.6" text-anchor="middle">1</text><text transform="translate(247.7,256.0) rotate(60)" y="7.6" text-anchor="middle">4</text><text transform="translate(272.0,324.4) rotate(0)" y="7.6" text-anchor="middle">6</text><text transform="translate(336.0,332.1) rotate(10)" y="7.6" text-anchor="middle">1</text><text transform="translate(296.3,372.9) rotate(-5)" y="7.6" text-anchor="middle">12</text><text transform="translate(298.5,417.1) rotate(-60)" y="7.6" text-anchor="middle">4</text><text transform="translate(329.8,423.0) rotate(90)" y="7.6" text-anchor="middle">3</text><text transform="translate(385.0,403.8) rotate(60)" y="7.6" text-anchor="middle">4</text></g>
</g></g>
<use href="#st"/>
<use href="#over"/>
<use href="#axl"/>
<path d="M552.2,0L567.5,-6.8L582.7,0Z" fill="#fbb582" stroke="#b08050" stroke-width=".8"/><path d="M552.2,439.1L567.5,445.6L582.7,439.1Z" fill="#e070ff" stroke="#8030a0" stroke-width=".8"/><rect x="552.2" y="0" width="30.5" height="439.1" fill="url(#cb)"/><path d="M552.5,0V439.1M582.4,0V439.1" stroke="#000" stroke-opacity=".35" stroke-width="1.2" fill="none"/><path d="M552.2,439.1h6.3M582.7,439.1h-6.3M552.2,329.3h6.3M582.7,329.3h-6.3M552.2,219.6h6.3M582.7,219.6h-6.3M552.2,109.8h6.3M582.7,109.8h-6.3M552.2,0.0h6.3M582.7,0.0h-6.3" stroke="#000" stroke-width="2" fill="none"/><g font-size="29.4" font-weight="bold" font-style="italic" fill="#000"><text x="589.0" y="448.4">0</text><text x="589.0" y="338.6">5</text><text x="589.0" y="228.9">10</text><text x="589.0" y="119.1">15</text><text x="589.0" y="9.3">20</text></g>
</g>
<text x="2.6" y="1174.1" font-size="36.4" font-weight="bold">E</text><text x="608.0" y="1174.4" text-anchor="end" font-size="38.6" font-weight="bold" font-style="italic">[NO<tspan font-size="20" dy="13.8" dx="1.3">3</tspan><tspan font-size="20" dy="-26.4" dx="1.3">-</tspan><tspan dy="12.6">] µmol L</tspan><tspan font-size="24" dy="-10.4">-1</tspan><tspan dy="10.4">@ surface</tspan></text>
<g transform="translate(825.8,1203.9)">
<use href="#base"/>
<g clip-path="url(#csea)"><g clip-path="url(#cenv2)">
<g filter="url(#bl)"><rect x="105" y="-13" width="310" height="454" fill="#d868ff"/><path fill="#cf5fff" d="M165-8l245 0 0 444-300 0 0-380 13-13 21-12 7-6 5-9z"/><path fill="#c656ff" d="M169-8l241 0 0 444-300 0 0-374 13-16 8-5 15-8 9-8 5-9zM227 64l-2 3 0 3 2 5 3 1 6-2 4-4 0-3-3-3-7-1zM275 136l-6 3-2 3 1 3 5 3 8 2 5-2 3-3 2-3 0-3-4-4-6-1z"/><path fill="#bc4eff" d="M173-5l1-3 217 0 7 3 12 3 0 438-300 0 0-365 9-16 5-6 7-5 18-9 10-10 4-6zM281 48l-18 10-12 1-21-1-6 3-2 3 0 6 2 7 3 5 3 3 3 0 9-3 3 0 4 3 1 3-2 6-11 9-2 6 5 27 1 24 1 6 3 1 9-7 9-5 23-1 9-6 5-6 0-6-6-15 0-6 1-6 11-18 1-6 0-6-2-6-13-21-5-4z"/><path fill="#af47ff" d="M178-8l141 0 4 4 6 4 21 8 30 3 30 5 0 420-300 0 0-355 3-4 7-19 5-7 9-7 16-7 8-6 6-6zM290 34l-9 3-21 14-12 3-20 1-4 2-3 4-1 9 3 15 0 18 1 6 7 21 2 9-1 15-4 21 0 3 2 4 6 1 11-2 4-3 7-12 5-5 6-2 18-2 16-9 4-6 0-6-4-12 0-9 4-9 14-21 2-6 0-6-3-9-15-25-6-5z"/><path fill="#a141ff" d="M184-8l107 0 2 9-1 9-4 9-24 24-7 5-9 3-21 1-3 1-4 5-2 9 2 15-2 15 1 9 2 9 5 15 2 12-1 15-9 30 2 6 4 2 12-5 15-3 4-3 7-15 6-6 22-5 12-6 7-4 2-3 2-6-5-18 1-9 5-7 16-17 11-23 6-7 3-1 12-1 3-1 2-3 2-9 1-3 4-2 15 0 21-2 0 400-300 0 0-347 3-2 3-5 4-18 5-9 6-6 18-9 16-12 4-6 7-17z"/><path fill="#943dff" d="M190-8l83 0 4 12 0 9-3 9-6 9-7 9-7 5-6 2-24 2-3 2-3 5-1 11 2 15-3 15 0 12 6 24 2 15-2 12-8 21-1 9 2 7 3 3 3 1 6-1 12-6 15-2 3-1 3-4 4-15 5-6 6-2 12-3 12-4 9-5 6-4 3-6 1-3-6-15 1-9 6-9 13-12 12-13 9-4 18-2 6-2 24-15 9-4 0 382-300 0 0-341 5-4 4-6 4-21 4-9 7-6 18-8 17-13 4-6 6-15z"/><path fill="#873aff" d="M197-5l3-3 56 0 7 9 4 9 0 6-2 9-5 9-6 6-6 4-6 1-18 0-3 1-3 3-1 3-2 12 2 18-4 18 0 9 1 9 6 18 0 12-1 9-8 24-2 9 3 9 6 5 9 0 12-5 12-1 6-1 3-2 3-4 4-16 3-6 5-3 13-3 14-5 12-7 6-6 2-6 0-3-6-12 1-9 4-6 23-20 6-4 6-2 18-2 9-2 27-13 0 370-300 0 0-336 6-4 6-9 2-5 1-18 5-9 7-6 14-6 20-12 5-6 6-15 3-4z"/><path fill="#7c39ff" d="M209-2l9-2 9-1 15 4 6 3 6 5 4 6 1 6-1 6-2 6-4 6-4 3-9 2-18-1-3 1-3 4-1 12 2 24-5 18-1 12 7 24 0 12-2 12-8 21-1 9 2 9 7 6 6 2 6 0 12-4 16-1 8-4 3-4 1-4 3-15 5-6 30-10 9-5 7-6 4-6 1-6-7-12 1-6 4-6 23-19 9-4 27-4 27-9 0 360-300 0 0-331 9-8 6-9 2-6 1-18 5-9 4-4 15-7 24-13 5-6 5-12 5-5 9-6z"/><path fill="#743aff" d="M221 7l12 1 12 4 6 7 1 6-4 9-6 4-9 0-15-5-3 1-3 1-2 5 5 39-1 6-5 18-1 9 5 21 2 12-2 12-9 24-1 9 1 6 2 5 4 4 5 3 9 2 6 0 12-3 15-2 9-5 4-7 2-15 4-6 5-3 24-8 12-7 9-9 4-6 0-3-1-3-6-9 1-6 23-20 6-4 6-1 27-3 24-7 0 353-300 0 0-327 9-7 9-12 2-8-1-12 1-6 3-6 2-3 5-4 37-17 8-6 9-11 6-4 9-3z"/><path fill="#6b3dff" d="M229 22l4-2 3 0 5 2 2 3 1 3-1 3-4 3-3-1-4-2-4-6zM183 34l11-3 6 3 6 10 6 17 2 21-7 21-2 9 1 6 5 18 1 12-3 12-8 21-1 9 1 6 3 6 7 6 7 3 12 1 24-3 9-3 6-4 4-6 3-18 2-4 3-2 24-8 15-10 12-12 2-6 0-3-6-9 0-3 2-3 20-18 9-3 27-2 24-5 0 346-300 0 0-322 3-2 9-9 9-12 2-9-1-12 0-6 5-8 5-4 22-11z"/><path fill="#6642ff" d="M185 37l9 0 6 5 8 13 4 12 1 15-8 21-2 9 1 6 5 18 0 12-2 9-9 24-1 9 2 9 4 6 6 4 6 3 12 2 24-2 9-2 9-3 7-8 3-18 1-3 3-3 22-9 17-12 13-12 3-6 0-3-2-9 0-3 7-9 5-6 5-3 6-2 27-1 24-4 0 340-300 0 0-318 6-4 9-10 9-13 1-9-1-15 1-6 2-3 6-5 18-9z"/><path fill="#6147ff" d="M185 40l9 2 6 4 6 9 5 12 1 15-9 21-2 9 1 6 5 18 0 12-2 9-9 21-2 12 2 9 4 6 6 5 9 4 15 2 21-2 12-2 9-4 4-3 4-6 3-15 4-6 18-10 31-23 5-6 2-6 0-12 2-6 5-6 9-3 27-1 24-4 0 335-300 0 0-313 6-5 9-10 10-14 3-9-2-18 1-6 3-3 6-5 18-8zM362 393l-6 5-1 5 0 3 4 7 3 2 6 1 3-2 4-5 1-3 0-6-1-3-4-4-3-1z"/><path fill="#604dfd" d="M178 43l10 0 9 4 9 10 4 10 1 9 0 6-10 21-2 9 1 6 5 18 0 12-3 9-9 21-2 12 2 9 3 6 8 6 8 3 18 3 27-1 15-4 6-4 5-6 4-15 4-6 23-18 33-24 3-6 0-15 3-5 6-2 24 0 27-4 0 310-6-1-9-4-6-6-8-12-4-3-6-3-6 0-6 3-4 3-3 6 1 10 6 12 6 5 14 9-269 0 0-308 6-5 9-10 9-12 4-7 2-9-2-18 2-7 6-5 15-8z"/><path fill="#6053fa" d="M170 46l15-1 9 3 9 8 3 4 3 7 1 9-1 6-10 21-1 6 0 9 5 18-1 12-2 9-10 21-2 12 2 9 4 7 9 7 9 3 15 3 24-1 18-2 7-2 9-9 7-18 4-6 16-15 14-10 9-6 22-11 4-3 1-12 3-3 45-9 0 292-12-4-17-12-7-3-9 0-9 5-6 7-1 9 4 15 11 15-254 0 0-303 6-5 12-15 8-10 4-9 3-9-3-18 2-6 3-3 9-6z"/><path fill="#5f5af8" d="M164 49l15-2 12 2 6 4 6 5 5 9 1 9-1 6-2 6-8 12-2 9 0 9 5 18 0 9-4 12-10 21-2 12 1 9 6 9 8 6 9 3 21 3 33 0 17-3 4-3 4-6 9-24 17-18 15-11 9-5 12-4 15-2 5-2 4-10 6-5 14-6 16-4 0 278-12-3-15-7-9-3-9 1-10 5-6 6-2 5 0 4 3 18 8 15-248 0 0-298 6-5 9-11 12-16 5-9 3-12-3-18 2-6 7-6z"/><path fill="#5c61f8" d="M172 49l13 0 9 4 9 7 4 10 1 6-1 6-2 6-9 12-2 9 1 9 4 15 0 12-4 12-11 21-3 12 2 9 5 9 8 6 10 4 24 4 36 0 17-2 4-3 3-6 5-18 4-9 10-12 8-8 12-8 9-4 15-4 18-1 3-2 9-11 5-4 10-5 12-3 0 266-12-1-24-8-6 1-6 2-10 6-5 6-2 9 3 21 6 12-244 0 0-291 6-6 12-16 10-14 6-12 4-12-3-18 2-6 3-3 8-5z"/><path fill="#5867f8" d="M165 52l14-1 12 3 6 3 6 6 4 7 0 6-1 7-3 5-9 12-2 6 0 9 5 21 0 9-3 9-13 24-3 12 1 9 5 9 7 6 12 5 27 5 36 0 18-2 4-2 3-6 6-21 4-9 9-12 7-6 12-8 9-4 15-3 15-1 6-2 18-15 9-4 9-3 0 257-12-1-21-5-6 0-9 3-12 8-5 6-2 9 3 21 5 12-241 0 0-284 6-6 12-17 12-19 7-13 3-12 0-6-2-12 2-6 7-6zM266 282l-4 4 1 3 6 3 3-2 0-5-3-3z"/><path fill="#4f6ef8" d="M160 55l13-2 6 0 9 2 12 7 3 3 2 5 1 6-1 6-5 8-7 7-3 6 0 12 5 18-1 12-3 9-14 24-3 12 1 9 5 9 8 7 12 5 27 5 30 2 18-1 9-1 6-5 3-5 5-19 5-12 6-9 9-9 11-7 9-4 36-5 21-14 9-4 6-1 0 246-12 0-21-2-6 0-12 5-11 8-5 6-2 9 3 21 4 12-238 0 0-276 6-6 6-9 26-45 4-9 2-9-3-18 4-6zM263 277l-6 3-3 3-3 6 0 3 18 4 3 0 3-4 0-10-4-5z"/><path fill="#4575f8" d="M168 55l11 0 15 5 6 4 3 3 2 6 0 6-2 4-3 4-9 8-3 5 0 15 5 18-1 12-4 9-15 24-4 12 1 9 5 9 7 7 12 6 30 6 36 3 15-2 9-2 5-3 5-6 7-24 5-12 7-9 7-6 12-8 6-2 36-4 24-14 12-3 0 237-15 1-24 0-12 5-14 10-4 6-2 9 3 21 3 12-235 0 0-267 6-6 6-9 24-44 8-16 4-15-1-6-3-6 1-6 4-3zM260 273l-6 3-6 7-5 12 1 3 1 1 3 1 12-3 12 1 4-3 2-9-1-6-2-3-6-4z"/><path fill="#3b7bf6" d="M166 58l13 0 15 5 6 3 3 7 0 6-3 6-14 9-2 3 2 15 5 21 0 9-6 12-18 24-2 6-1 6 2 12 6 9 7 6 12 6 33 6 36 4 24-5 6-4 5-7 6-21 5-12 6-9 9-9 8-5 9-3 36-5 24-12 12-3 0 229-18 3-18 0-6 2-12 6-13 10-4 6-2 6 3 24 3 12-233 0 0-257 6-5 7-11 34-69 4-9 1-9-1-6-2-6 1-3zM260 267l-9 6-6 7-3 5-3 7-1 6 1 3 3 2 6 0 12-4 12 1 3-1 3-4 1-9-2-9-2-3-6-5-6-2z"/><path fill="#3182f3" d="M167 64l3-2 6-1 15 3 7 3 2 2 2 4-1 6-1 3-6 4-12 4-3 4 2 9 8 27 0 6-1 6-6 11-22 25-3 6-1 6 1 6 2 6 6 9 11 9 12 5 54 8 15 3 6 0 21-7 6-3 6-8 3-7 3-15 5-12 7-10 9-8 9-5 6-2 12-1 27-4 21-10 12-2 0 220-21 4-15 2-6 2-15 9-12 9-4 6-2 6 3 24 3 12-231 0 0-245 6-4 6-6 7-12 14-39 23-45 2-12zM260 259l-15 14-7 10-3 9 0 6 1 5 3 3 6 0 15-5 12 0 5-3 2-3 1-12-2-8-12-15-3-2z"/><path fill="#2889f0" d="M178 70l4-2 12 1 3 1 2 3 1 3-3 5-3 1-15-1-3-2 0-6zM166 97l4-2 3 2 3 5 10 28 0 9-4 9-12 12-15 10-6 2-3 0-3-4-1-8 0-9 2-12 5-13 9-19 3-5zM408 145l2 0 0 211-42 12-18 11-11 9-4 6-1 6 2 24 3 12-229 0 0-234 21-10 6-1 3 1 3 2 8 11 8 9 8 6 9 5 15 5 48 6 8 2 10 6 3-1 12-8 15-6 7-6 5-8 5-19 6-15 7-9 7-6 11-5 15-1 24-4 24-9zM257 249l-9 13-9 12-6 12-2 9 1 6 3 6 4 2 6 0 15-7 12 0 3 0 3-3 2-4 2-9-2-9-14-23-6-5z"/><path fill="#248ff0" d="M165 106l2-1 3 0 3 3 9 18 2 10-2 6-6 7-9 6-9 2-3 0-3-3-2-3 0-12 5-16 6-12zM407 148l3 0 0 202-18 6-21 8-27 18-7 6-4 6-1 6 2 24 3 12-227 0 0-223 15-4 9 0 9 3 23 14 13 5 12 3 27 2 15 2 9 4 5 5 0 6-3 6-13 18-2 6-1 9 0 9 3 6 5 5 6 0 18-8 15-1 5-5 3-9-1-9-1-4-14-26-1-6 2-3 3-3 13-6 6-4 7-8 3-6 4-15 4-12 5-9 5-6 8-6 9-4 15-1 24-4 24-7z"/><path fill="#2196f0" d="M165 118l2-2 3 1 3 2 5 8 2 6-1 5-3 4-6 5-6 1-3-1-3-3-1-8 2-9zM405 151l5 0 0 194-18 5-9 3-42 29-7 6-3 6-1 6 2 21 4 15-226 0 0-213 15-2 9 0 9 2 33 13 12 2 30 2 12 3 6 3 3 4 0 6-10 12-3 6-2 15 1 9 2 9 6 7 6 1 6-2 15-8 15-1 6-6 3-9-1-9-12-27-2-6 0-3 2-3 3-3 16-8 9-10 10-33 5-9 5-6 7-5 9-4 15-1 24-4z"/><path fill="#1c9cf2" d="M400 154l10 0 0 186-24 6-6 3-20 18-28 21-3 6-1 6 3 21 3 15-224 0 0-203 15-2 12 1 39 11 38 4 8 3 2 3-2 3-6 6-1 3 6 33 2 9 4 6 6 5 6 0 19-11 17-2 5-4 3-3 2-9-1-9-12-27-1-6 1-3 3-4 15-9 10-11 10-33 5-9 5-6 9-6 6-3 15 0z"/><path fill="#16a2f5" d="M393 157l17-1 0 178-24 6-7 3-18 21-31 24-3 6-1 6 3 21 3 15-222 0 0-194 15-1 15 1 39 9 13 5 6 6 11 19 13 32 8 7 6 2 3-1 18-12 6-2 9-1 6-2 6-6 2-9-1-9-11-27-1-6 1-3 4-5 12-6 11-13 9-30 4-9 4-6 8-6 9-5 15 1 12-3z"/><path fill="#10a9f7" d="M384 160l14-2 12 1 0 171-12 3-15 3-8 4-4 5-7 13-5 6-9 8-18 11-5 5-2 6 0 6 6 36-221 0 0-184 18-1 15 1 21 5 15 5 9 7 12 14 6 9 10 21 5 6 9 5 6 0 3 0 18-14 6-2 12-1 6-4 4-5 2-9-1-9-10-24-2-9 4-6 12-7 12-14 8-27 5-12 5-6 7-6 8-4 15 1 12-3z"/><path fill="#10afed" d="M371 163l24-2 15 1 0 163-12 4-18 4-6 3-4 4-6 15-7 9-7 6-19 12-5 5-2 4-1 9 6 36-219 0 0-175 15-1 15 1 16 4 14 5 11 7 10 10 9 11 12 18 6 6 6 4 6 1 9-1 18-15 6-2 9-1 6-2 3-2 5-6 2-9-1-9-10-24-1-9 1-3 4-3 9-6 12-14 6-21 7-16 3-6 8-7 9-5 15 1z"/><path fill="#10b6e3" d="M383 163l12 0 15 2 0 154-12 7-18 4-9 4-4 6-5 15-7 9-8 7-18 10-4 4-3 6 0 9 6 36-218 0 0-166 27 1 12 2 12 5 12 6 9 7 9 9 17 19 7 6 12 5 6 0 6-2 6-4 12-11 6-3 9-1 6-2 4-3 5-6 2-9-1-9-10-24-1-6 0-3 4-5 9-5 12-15 3-5 4-18 7-15 4-7 6-5 9-5 15 1 12-3z"/><path fill="#0ebdd7" d="M364 166l28-2 18 5 0 144-12 9-21 6-6 3-6 6-5 18-6 9-10 8-18 9-3 3-2 7 0 9 6 36-217 0 0-158 24 2 21 6 12 6 9 6 28 24 9 6 7 3 7 1 6 0 6-2 6-4 14-13 4-2 15-3 6-4 5-6 1-6 0-9-3-9-8-18-1-6 1-3 2-3 12-8 9-13 3-6 4-15 8-18 4-6 6-6 8-4 15 2z"/><path fill="#0ac3c9" d="M383 166l12 1 15 6 0 60-3 6-1 11 1 19 3 13 0 21-7 10-7 6-7 3-12 3-9 5-5 7-5 18-6 9-8 6-18 8-4 4-2 6-1 12 6 36-215 0 0-149 24 2 21 7 15 8 29 21 13 7 8 2 7 1 6-1 6-2 6-4 15-15 18-4 7-5 5-6 1-6 0-9-3-9-8-18-1-6 1-3 3-3 10-7 10-14 3-6 4-15 8-18 4-6 7-6 6-3 6 0 9 2 15-4z"/><path fill="#07c9bc" d="M362 169l21-1 9 1 9 3 9 6 0 42-6 9-2 12 0 30 2 27-2 9-7 9-6 3-15 4-6 4-4 4-4 6-4 18-6 9-9 6-18 8-3 4-1 6-1 12 6 36-214 0 0-141 21 2 21 7 15 7 28 17 14 6 15 3 9-1 6-2 6-4 15-15 15-4 6-3 6-4 4-6 2-6-1-9-10-27-1-6 3-5 9-6 11-16 7-21 8-18 4-6 6-5 6-3 6 0 9 3z"/><path fill="#04ccaf" d="M333 172l5-1 12 3 15-4 21 0 8 2 9 6 7 9 0 21-10 18-3 9 1 18-1 21 2 21 0 6-2 6-4 6-4 3-18 6-8 6-5 9-4 18-6 9-10 6-15 4-3 3-2 11-1 12 6 36-213 0 0-133 18 2 18 5 18 7 30 15 15 6 9 1 9 0 6-1 8-4 7-6 12-12 19-6 8-5 4-4 3-6-1-9-2-9-8-21-1-6 2-3 9-6 12-18 5-18 10-21 6-7z"/><path fill="#00d0a1" d="M330 175l8-3 12 4 3 0 12-3 9 0 9-1 6 2 7 4 5 6 3 6 1 9-3 12-8 21 1 21-3 24 2 18-1 9-3 6-4 3-15 5-9 8-5 11-4 18-6 8-6 5-6 2-6 1-9-1-1 3-2 9-1 18 6 36-212 0 0-126 15 2 18 4 48 20 15 4 12 1 9 0 9-3 6-3 18-17 3-2 18-6 9-6 3-3 2-6 0-9-11-30 0-6 10-9 11-17 7-22 11-20z"/><path fill="#00d098" d="M332 175l6-1 15 5 12-3 9 2 9-1 4 1 5 4 4 5 2 6 0 9-1 9-7 21 2 21-5 24 2 18-2 9-4 5-12 6-9 8-6 11-5 21-3 6-4 3-6 4-9 1-6-2-9-9-3 1-1 2 1 6 4 6 1 3-1 24 6 36-211 0 0-118 15 1 18 4 54 18 12 2 9 1 12-2 9-4 6-4 18-17 15-5 10-5 7-6 2-9-3-12-9-24 1-6 10-9 11-18 4-16 12-23 5-6z"/><path fill="#00d08e" d="M330 178l5-2 3-1 12 6 12 2 9 6 12 2 3 1 5 7 1 9-5 24 3 21-1 6-7 18 1 18-2 6-2 3-14 11-6 8-5 11-4 21-6 8-6 3-9 1-6-3-9-10-3 1-3 6 0 3 6 12 0 25 5 35-209 0 0-112 30 5 54 15 12 2 12 0 12-2 9-4 8-6 16-15 18-7 12-6 4-5 1-9-3-12-8-21-1-6 2-3 9-9 10-18 4-14 3-7 11-18z"/><path fill="#01cf85" d="M333 178l5-1 3 1 18 10 9 8 12 5 5 4 2 6-2 21 3 15 0 6-3 9-6 12-4 21-3 6-10 12-6 12-3 9-4 18-2 6-6 5-9 3-5-2-4-3-9-11-3-1-3 7-1 8 5 9 2 6-1 24 5 33-208 0 0-105 27 4 54 12 15 2 12-1 12-3 9-4 9-6 15-15 33-14 4-5 1-6-4-12-8-21-1-9 2-3 6-6 11-18 7-22 12-20 3-3z"/><path fill="#04cc79" d="M332 181l3-2 7 2 14 9 9 10 15 10 2 4 0 18 4 18-2 9-9 15-5 18-9 15-5 12-5 15-3 18-3 6-7 5-6 1-3-1-7-5-11-16-3 5-2 17 7 15-1 24 5 33-207 0 0-99 24 3 54 10 15 1 12 0 12-3 12-5 9-7 12-12 8-5 19-8 12-2 3-2 1-3 0-9-12-33-1-9 9-11 9-17 6-20 12-18zM305 319l0 6 3 2 0-5z"/><path fill="#07c96e" d="M331 184l4-2 3 0 12 7 5 4 8 9 13 12 3 6 5 30-2 9-8 12-6 15-11 18-11 48-5 8-6 2-6-1-4-3-5-6-5-9-2-9 0-12-4-12-2-12-13-30-3-12 1-3 7-9 9-18 6-19zM286 313l7-1 3 1 3 3 3 11 4 7 1 6-2 24 7 15-1 24 5 33-206 0 0-93 21 2 54 8 15 1 15-1 12-3 9-4 9-6 20-18z"/><path fill="#08c561" d="M331 187l4-3 3 0 9 5 6 5 9 11 10 9 5 9 5 24 0 6-2 6-8 12-7 13-9 11-4 6-2 21-4 27-2 5-3 4-6 2-6-1-3-2-4-5-3-6-3-9 1-18-3-15-3-6-12-20-6-19 1-6 6-9 9-18 5-18zM280 316l10-2 5 2 9 18 1 6-1 24 7 15 0 24 2 15 2 18-205 0 0-87 75 8 15 0 15-2 12-3 12-6 9-7 15-15z"/><path fill="#09be54" d="M330 190l5-3 3 0 6 3 8 6 20 24 4 9 5 18-2 9-14 23-6 7-11 9-4 6-1 3 4 10 1 8-2 21-2 7-3 5-6 4-4-1-5-3-4-6-2-6-1-9 3-27-1-6-13-12-6-8-6-13-2-9 2-6 6-9 8-18 4-16 3-5zM283 316l7-1 3 2 3 4 7 16 1 27 6 15 0 24 2 15 2 18-204 0 0-81 72 5 15 0 15-2 12-4 12-5 9-6 21-19z"/><path fill="#0bba48" d="M335 190l6 0 6 4 23 26 3 6 4 12 2 12-2 7-12 18-9 10-9 5-9 4-15 0-9-3-9-9-6-11-3-12 1-6 6-9 8-18 3-15 3-5 9-9zM329 313l3-2 6 1 5 4 2 6 1 6-3 18-2 6-3 3-3 1-6-1-3-3-3-6-2-6 0-6 2-10 3-8zM277 319l7-2 6 0 3 2 2 3 6 12 2 15 0 15 5 12 2 6-1 21 3 18 1 15-203 0 0-76 69 4 18-1 15-3 15-5 12-6 9-7 15-15z"/><path fill="#0eb53b" d="M334 193l4-1 3 1 6 3 20 24 4 7 5 11 1 6 1 6-4 9-12 17-6 6-15 6-9 2-12-1-9-3-6-6-6-12-2-9 2-6 5-9 7-16 4-17 5-6zM280 319l7-1 4 1 3 3 7 15 1 15 0 12 5 12 2 6-1 21 3 18 1 15-202 0 0-70 69 1 18-1 15-3 12-5 12-6 12-9 15-15 9-6zM331 319l4-1 4 1 3 3 1 6-1 18-3 6-4 2-3 0-4-2-3-6-2-6 0-6 2-6 3-6z"/><path fill="#10b030" d="M333 196l5-1 3 0 6 4 18 22 9 17 2 6 0 6-4 9-10 14-6 6-15 6-9 2-12-1-9-3-6-6-4-9-2-9 13-30 4-18 4-5zM284 319l6 1 3 3 5 11 2 6 1 24 6 12 1 6-1 21 3 18 1 15-201 0 0-65 69 0 18-2 15-4 12-5 12-6 9-7 21-20 9-5zM331 325l4-1 3 1 3 6-1 12-2 6-3 2-3 0-3-2-3-5-1-4 2-9z"/><path fill="#15ae2b" d="M332 199l6-2 3 1 6 4 21 28 6 11 1 9-5 9-8 11-6 6-9 5-9 2-18 1-6-2-7-5-5-9-1-9 12-30 4-18 3-4zM277 322l7-2 6 2 3 3 6 12 2 15 0 12 5 12 1 6-1 21 3 18 1 15-200 0 0-59 66-3 18-2 15-4 15-6 12-7 12-9 15-15zM331 331l4-1 3 4 0 8-3 5-3 0-3-4-1-6 1-3z"/><path fill="#19ab27" d="M332 202l6-2 3 1 5 4 25 33 2 6 0 6-3 6-8 12-9 8-18 5-15 0-6-1-6-5-4-7-1-9 10-27 4-20 3-3zM280 322l7-1 3 2 5 8 3 9 2 12 0 12 5 12 1 6-1 21 3 18 1 15-199 0 0-54 63-4 21-3 15-4 15-7 12-7 12-10 15-15 9-6z"/><path fill="#1ea922" d="M332 205l6-2 3 1 3 2 9 14 15 17 3 7 0 6-9 15-9 8-18 6-15 0-6-2-6-6-3-6 0-6 8-24 4-21 3-4zM275 325l6-2 6 0 3 2 2 3 5 9 2 15 0 12 7 18-2 21 4 18 0 15-198 0 0-49 63-5 21-4 15-5 15-7 12-7 12-11 15-15z"/><path fill="#24a81d" d="M335 208l3 0 3 1 12 18 15 14 2 6-1 3-9 15-7 6-21 6-12 0-6-3-5-6-2-6 0-6 8-21 2-17 1-4 5-4zM277 325l7-2 5 2 4 6 4 9 2 12 0 12 6 18-2 21 4 18-1 15-196 0 0-44 63-6 21-5 15-5 12-6 12-7 12-10 18-19z"/><path fill="#2ba818" d="M320 214l3-2 6 0 8 2 3 3 5 12-2 15 1 3 3 2 3 0 3-2 6-7 3 0 3 2 2 2 0 3-2 6-6 9-6 6-18 6-9 1-9-2-5-5-2-3-1-6 7-21 2-18zM280 325l6 0 4 3 4 6 2 9 2 9 0 12 6 18-2 21 4 18-1 15-195 0 0-39 60-7 18-4 18-6 12-6 12-7 15-13 19-20 8-5z"/><path fill="#33a814" d="M320 217l3-3 3 0 6 3 3 3 4 9-1 12 1 6 2 4 3 3 6 1 6-1 1 2 0 3-4 4-3 2-21 7-9-1-6-5-2-7 7-21zM275 328l6-2 6 1 4 4 4 9 2 12 1 15 4 9 1 6-2 21 4 18-1 15-194 0 0-33 60-9 18-4 18-7 12-6 12-8 15-13 18-20z"/><path fill="#3ba90f" d="M322 220l1-2 3 0 5 5 2 6-1 15 7 15 0 3-3 3-7 3-6-1-3-1-3-3-1-4 1-5 5-13zM277 328l7-1 3 1 5 6 3 9 1 9 1 15 5 15-2 21 4 18-1 15-193 0 0-28 60-10 21-6 15-6 12-6 12-9 15-14 18-20 6-5z"/><path fill="#45ab0d" d="M273 331l8-3 6 2 3 4 4 9 2 9 0 15 5 15-2 21 4 18-1 15-192 0 0-23 60-11 21-6 15-7 12-6 12-9 12-12 21-24z"/><path fill="#4fae0a" d="M275 331l6-2 6 2 3 4 3 8 2 9 1 15 4 15-2 21 4 18-2 15-190 0 0-17 39-8 27-6 21-8 18-9 12-9 9-8 27-32 6-5z"/><path fill="#59b008" d="M278 331l6 0 3 2 3 4 3 9 2 21 4 15-3 21 5 18-2 15-189 0 0-11 36-8 27-7 24-9 18-10 18-14 30-37 6-5z"/><path fill="#66b408" d="M273 334l5-2 6 0 5 5 3 9 2 9 0 12 4 15-3 21 4 18-2 15-187 0 0-6 36-8 27-8 21-8 18-9 12-9 9-8 29-37 4-4z"/><path fill="#72b808" d="M275 334l6-1 4 1 4 6 3 9 1 18 3 15-3 21 5 18-2 15-177 0 7-3 35-10 21-7 18-8 15-9 9-7 9-9 30-40 6-6z"/><path fill="#7fbc08" d="M281 334l3 1 3 3 3 7 1 7 1 15 3 15-4 21 1 6 4 9 0 3-2 15-153 0 50-19 15-8 12-8 9-7 9-10 28-41 8-7z"/><path fill="#8fc108" d="M273 337l5-2 6 2 3 3 3 9 1 18 2 15-5 24 1 3 4 7 1 5-3 15-132 0 41-19 12-7 12-9 9-9 6-8 13-23 10-15 6-6z"/><path fill="#a0c608" d="M275 337l6 0 3 1 3 5 2 9 1 33-6 21 2 6 4 5 2 4-3 15-115 0 35-19 12-8 9-8 10-13 14-27 7-12 8-9z"/><path fill="#adc808" d="M271 340l4-2 6 0 3 2 2 3 2 6 0 36-9 24 2 5 6 7 1 3-3 12-98 0 31-19 16-14 10-15 13-30 8-12z"/><path fill="#b6c908" d="M273 340l5-1 4 1 2 3 3 9 0 21-2 12-2 6-7 12-2 6 1 6 6 9 1 3-1 9-81 0 27-20 13-13 7-12 9-30 10-15z"/><path fill="#bfca08" d="M278 340l5 3 2 6 0 24-4 16-3 5-8 9-2 6-1 3 2 6 5 9 1 9-63 0 24-19 10-11 4-9 4-24 4-12 11-17 6-4z"/><path fill="#c8cb08" d="M272 343l6-1 3 1 2 3 1 6-1 21-4 12-4 5-6 5-6 1-3-2-2-6-2-9 1-9 1-6 5-9 6-9zM247 421l4-2 6 2 6 6 3 9-40 0 6-6z"/><path fill="#d1cc08" d="M275 343l3 0 3 3 1 3-1 21-3 9-3 4-3 2-6 1-3-2-3-6-1-11 2-6 5-9 4-6z"/><path fill="#dbcc05" d="M272 346l3-1 3 0 2 4-1 18-1 5-3 5-3 2-3 0-3-1-3-3-2-8 2-6 3-6z"/><path fill="#e5cc03" d="M272 349l3-2 2 2 0 15-2 7-3 3-3 0-3-2-1-2-1-6 2-5z"/><path fill="#efcc00" d="M271 358l1-3 1 3 0 6-1 3-3 0-1-3 1-3z"/></g><path d="M229 22l4-2 3 0 5 2 2 3 1 3-1 3-4 3-3-1-4-2-3-3-1-3zM110 114l3-2 9-9 9-12 2-9-1-12 0-6 3-6 3-3 26-14 24-9 6-1 3 1 3 2 3 4 7 17 4 24-1 6-6 18-2 9 1 6 5 18 1 12-3 12-8 21-1 6 0 6 4 9 5 5 9 4 12 1 27-4 8-3 4-3 4-6 3-18 2-4 3-2 15-4 9-4 15-10 12-12 2-6 0-3-6-9 0-3 2-3 20-18 9-3 27-2 24-5M110 179l6-5 7-11 34-69 4-9 1-9-1-6-2-6 1-3 7-3 12 0 15 5 6 3 3 4 0 3 0 6-3 6-14 9-2 3 0 6 2 9 5 21 0 9-6 12-18 24-2 6-1 6 0 6 2 6 6 9 7 6 12 6 33 6 36 4 24-5 6-4 5-7 6-21 5-12 6-9 9-9 8-5 9-3 36-5 6-2 18-10 12-3M260 267l-9 6-6 7-3 5-3 7-1 6 1 3 3 2 6 0 12-4 12 1 3-1 3-4 1-9 0-6-2-3-2-3-6-5-6-2zM410 367l-18 3-18 0-6 2-12 6-13 10-4 6-2 6 3 24 3 12M110 278l24 2 21 6 12 6 9 6 28 24 9 6 11 4 6 0 6-1 9-5 14-13 4-2 9-1 6-2 6-4 5-6 1-6 0-9-3-9-8-18-1-6 1-3 2-3 9-6 3-2 9-13 3-5 2-10 4-11 6-13 6-9 6-4 6-3 6 0 9 2 14-4 19-2 12 1 15 4M410 313l-12 9-21 6-6 3-6 6-5 18-6 9-10 8-18 9-3 3-2 7 0 9 6 36M331 187l4-3 3 0 9 5 6 5 9 11 10 9 5 9 5 24 0 6-2 6-8 12-7 13-9 11-4 6-1 6-1 15-4 27-2 5-3 4-6 2-6-1-3-2-4-5-3-6-3-9 1-18-3-15-3-6-12-20-5-13-1-6 1-6 6-9 9-18 5-18zM110 349l21 2 51 6 15 0 15-1 15-4 12-6 9-7 14-14 7-4 15-6 6-1 3 1 4 4 8 18-1 27 7 15 0 24 2 15 2 18M320 217l3-3 3 0 6 3 3 3 2 3 2 6-1 12 1 6 2 4 3 3 6 1 6-1 1 2 0 3-4 4-3 2-21 7-9-1-6-5-2-7 7-21zM110 403l60-9 18-4 18-7 15-8 12-8 12-11 21-23 9-5 9-2 3 1 3 3 4 7 3 15 1 15 5 12 0 9-2 15 4 18-1 15M187 436l4-3 27-16 15-13 9-13 11-27 9-15 7-8 3-2 6-1 3 0 3 2 3 6 1 6 0 33-9 24 2 5 6 7 1 3-3 12" fill="none" stroke="#181818" stroke-opacity="0.6" stroke-width="0.75"/><path d="M110 310l15 2 18 4 15 6 33 14 15 4 9 1 9 0 9-2 6-2 8-6 13-13 3-2 18-6 9-6 3-3 2-6 0-9-3-9-8-21 0-6 2-3 8-6 11-17 2-4 4-15 11-21 4-6 6-4 6-2 12 4 3 0 12-3 9 0 9-1 9 3 4 3 5 6 3 6 1 6-2 12-9 24 1 21-3 24 2 18-1 9-3 6-4 3-15 5-9 8-3 5-2 6-4 18-6 8-6 5-6 2-6 1-9-1-1 3-2 9-1 18 6 36" fill="none" stroke="#000" stroke-width="2.6" stroke-linejoin="round"/><path fill="#fff" d="M231.2,341.1 235.6,346.7 240.1,356.6 244.5,365.9 239.6,365.0 235.2,361.4 232.6,354.4Z"/><g font-size="21" font-weight="bold" font-style="italic" fill="#000"><text transform="translate(184.4,71.5) rotate(-10)" y="7.6" text-anchor="middle">4</text><text transform="translate(358.8,102.4) rotate(40)" y="7.6" text-anchor="middle">2</text><text transform="translate(338.9,183.0) rotate(10)" y="7.6" text-anchor="middle">8</text><text transform="translate(207.6,230.8) rotate(10)" y="7.6" text-anchor="middle">4</text><text transform="translate(287.1,235.2) rotate(20)" y="7.6" text-anchor="middle">6</text><text transform="translate(324.6,241.8) rotate(60)" y="7.6" text-anchor="middle">10</text><text transform="translate(240.7,281.5) rotate(30)" y="7.6" text-anchor="middle">4</text><text transform="translate(277.1,316.9) rotate(0)" y="7.6" text-anchor="middle">8</text><text transform="translate(342.2,312.4) rotate(60)" y="7.6" text-anchor="middle">8</text><text transform="translate(337.8,367.6) rotate(0)" y="7.6" text-anchor="middle">6</text><text transform="translate(382.0,369.8) rotate(-10)" y="7.6" text-anchor="middle">4</text><text transform="translate(250.6,372.0) rotate(60)" y="7.6" text-anchor="middle">2</text><text transform="translate(297.0,416.2) rotate(-40)" y="7.6" text-anchor="middle">0</text></g>
</g></g>
<use href="#st"/>
<use href="#over"/>
<use href="#axl"/>
<path d="M552.2,0L567.5,-6.8L582.7,0Z" fill="#fbb582" stroke="#b08050" stroke-width=".8"/><path d="M552.2,439.1L567.5,445.6L582.7,439.1Z" fill="#e070ff" stroke="#8030a0" stroke-width=".8"/><rect x="552.2" y="0" width="30.5" height="439.1" fill="url(#cb)"/><path d="M552.5,0V439.1M582.4,0V439.1" stroke="#000" stroke-opacity=".35" stroke-width="1.2" fill="none"/><path d="M552.2,439.1h6.3M582.7,439.1h-6.3M552.2,329.3h6.3M582.7,329.3h-6.3M552.2,219.6h6.3M582.7,219.6h-6.3M552.2,109.8h6.3M582.7,109.8h-6.3M552.2,0.0h6.3M582.7,0.0h-6.3" stroke="#000" stroke-width="2" fill="none"/><g font-size="29.4" font-weight="bold" font-style="italic" fill="#000"><text x="589.0" y="448.4">0</text><text x="589.0" y="338.6">5</text><text x="589.0" y="228.9">10</text><text x="589.0" y="119.1">15</text><text x="589.0" y="9.3">20</text></g>
</g>
<text x="715.1" y="1174.1" font-size="36.4" font-weight="bold">F</text><text x="1340.0" y="1174.6" text-anchor="end" font-size="38.6" font-weight="bold" font-style="italic">[NO<tspan font-size="20" dy="13.8" dx="1.3">3</tspan><tspan font-size="20" dy="-26.4" dx="1.3">-</tspan><tspan dy="12.6">] µmol L</tspan><tspan font-size="24" dy="-10.4">-1</tspan><tspan dy="10.4">@ bottom</tspan></text>
<g transform="translate(84.9,1782.8)">
<use href="#base"/>
<g clip-path="url(#csea)"><g clip-path="url(#cenv2)">
<g filter="url(#bl)"><rect x="105" y="-13" width="310" height="454" fill="#da6aff"/><path fill="#d565ff" d="M110-8l251 0 5 6 20 16 12 14 12 22 0 386-300 0z"/><path fill="#d161ff" d="M110-8l223 0 3 6 7 6 31 17 9 8 6 8 5 9 4 12 5 18 4 23 3 6 0 331-300 0z"/><path fill="#cd5dff" d="M121-5l3-3 189 0 6 18 7 9 6 3 21 4 12 4 9 6 6 7 7 15 6 21 0 15-3 12-4 6-6 5-18 4-24 9 1 3 2 1 9 1 9-2 18-8 9-1 24 7 0 305-300 0 0-438zM332 207l-5 4-1 3-1 3 3 6 4 5 6 5 6 1 3-1 3-4 1-3-1-6-3-7-3-4-3-2-3-1z"/><path fill="#c858ff" d="M156-8l141 0 6 27 2 6 5 6 6 3 7 1 21 1 12 2 12 6 6 7 8 19 3 9 1 12-3 9-5 6-7 5-21 9-22 4-3 3 0 3 5 6 14 6 12 1 18-5 9 0 9 2 18 7 0 289-300 0 0-417 18 0 12-4 10-8 5-9zM332 201l-8 4-6 6-1 3 1 6 17 23 6 4 9-1 6-3 4-5 2-6-1-6-12-24-5-2zM341 321l-3 2-1 2 1 6 3 4 3 2 3 0 2-3 0-6-5-6z"/><path fill="#c454ff" d="M174-8l109 0 2 24 0 12-1 6-4 6-14 11-3 7 1 6 2 5 6 10 3 2 3 0 3-3 16-26 8-5 12-2 24-2 9 2 6 2 9 7 10 16 5 12 0 6-1 6-5 9-9 6-15 7-15 3-18 1-15-5-9-1-2 1 9 6 11 5 17 13 13 6 15 5 6 0 12-2 6 1 30 16 0 271-300 0 0-402 18 2 9 0 12-4 12-7 6-6 3-5zM278 101l-1 5 1 3 6 3 6 1 0-1-3-2-6-7zM347 192l-26 10-10 6-3 3-2 3 3 6 13 15 10 17 3 3 6 3 9 1 11-3 7-4 3-5 2-9-3-12-8-15-3-15-3-3-3-1zM338 316l-3 6 0 9 6 8 6 2 3 0 3-4 1-3-1-6-4-6-5-5-3-2z"/><path fill="#bf50ff" d="M187-8l82 0 2 15-1 12-4 9-12 18-3 9 1 9 9 24 1 21 1 6 3 3 6 3 21 4 18 7 38 22 8 6 4 6 0 6-1 3-3 3-7 6-18 10-15 6-9 3-6 0-6-2-11-8-7-3-18 0-6-3-3 0 2 9 3 6 13 18 6 2 12-3 24 12 7 7 11 19 6 5 6 3 6 3 9 1 27-2 7-2 4-3 3-6 1-6-3-9-17-27-2-6 1-6 3-7 3-4 6-3 9 1 12 6 0 241-300 0 0-390 21 2 9 0 33-13 6-4 3-3 2-6zM335 312l-3 10 1 6 2 7 3 4 6 4 6 1 3-1 3-3 1-6-1-6-3-6-9-11-3-1-3 0zM334 49l7 0 9 2 6 3 5 4 8 12 5 9 2 9-1 6-4 6-3 3-18 10-15 3-12 0-9-2-15-7-7-7-3-9 1-9 7-15 8-9 9-5z"/><path fill="#b94cff" d="M198-8l57 0 2 12-1 12-3 9-11 21-2 9 2 9 8 15 3 9 1 9 0 18 3 9 6 4 27 1 18 5 34 20 6 6 3 6 0 6-3 6-10 9-15 8-9 3-6 0-9-2-15-9-15-6-6-4-12-12-6-3-3 0-3 1-3 3-2 3-1 6 3 9 10 15 11 13 9 12 6 5 9 5 21 2 9 3 18 24 18 13 24 5 15 8 6 2 6 0 12-4 0 149-300 0 0-381 27 3 6-1 18-7 21-6 6-3 3-4 3-6 1-24zM335 307l-3 4-2 8 1 9 2 6 4 6 4 4 6 3 7-1 4-3 3-6-1-6-2-6-11-17-3-3-3-1zM326 55l12-2 9 1 6 3 7 7 9 12 3 9-1 9-4 6-3 3-8 5-9 4-9 1-12 0-15-3-9-5-5-5-3-6 0-6 1-6 6-12 5-6 5-4z"/><path fill="#b249ff" d="M212-5l1-3 24 0 5 9 1 6-1 12-4 9-11 13-9 6-3 0-3-3-5-13-2-12 1-14zM167 58l30 1 15-1 3 1 15 12 12 12 4 8 1 9-2 33-3 6-12 12-6 9-2 9 1 6 20 27 12 12 8 10 15 17 6 2 15-1 9 2 6 6 26 30 6 12-8 6-6 6-3 6-1 6 2 15 3 6 5 7 6 4 9 1 6-3 3-3 2-6-1-9-10-18-5-15-1-3 9-3 9 1 6 2 12 8 6 3 9 0 12-1 0 134-300 0 0-373 33 1zM329 58l12-1 9 3 6 4 9 12 4 9 0 6-3 6-7 7-6 3-9 3-18 0-9-1-6-2-6-3-4-4-3-6-1-6 2-6 5-9 4-6 6-4zM270 136l14-3 15 2 12 4 15 8 11 7 8 9 1 6-3 9-6 6-8 6-9 3-9 2-9-2-27-15-7-6-5-6-5-9-2-6 1-6 2-3z"/><path fill="#ab46ff" d="M330 61l11-1 9 3 6 5 8 11 2 6 0 6-3 6-7 6-6 3-9 2-21 0-12-5-6-6-1-3-1-6 3-9 4-6 4-4 6-4zM122 70l27 1 18-1 9 0 12 5 18 15 6 0 9-3 6 0 6 2 3 3 3 5 1 6-2 12-6 15-17 25-3 8 1 9 6 9 11 10 12 15 13 11 14 18 6 12 3 2 3 1 15-3 9 1 9 7 16 19 4 9 1 6-8 21 0 12 3 12 3 6 5 6 6 4 9 1 6-2 7-6 2-6-1-9-9-15-1-6 2-6 3-2 6 0 15 10 6 2 9 1 12-1 0 125-300 0 0-365zM279 139l11-2 12 1 12 5 15 8 7 6 4 6 2 6-3 9-6 6-7 5-9 3-6 0-9-3-21-12-6-5-5-6-3-6-1-6 1-6 2-3 4-3z"/><path fill="#a542ff" d="M329 64l9-2 6 1 6 3 7 7 6 9 1 6-2 6-5 6-10 5-15 2-12-1-6-2-6-3-3-3-2-4 0-6 1-6 4-6 3-4 6-4zM110 79l24-2 18 3 24 2 9 3 21 15 6 2 12 0 3 1 2 3-2 7-22 44-2 9 1 9 5 6 18 12 14 15 13 10 13 20 5 14 3 4 3 0 15-4 9 0 9 5 13 14 4 6 3 9-1 6-5 18 1 15 4 12 3 6 5 5 9 4 9 0 8-3 6-6 3-9-1-9-3-6-4-6 0-4 3 0 10 7 8 3 9 2 15-1 0 116-300 0zM283 142l10-2 12 2 12 5 12 7 6 6 3 6 0 6-3 6-6 6-6 4-6 2-6 0-9-4-18-11-9-9-3-9 1-6 2-3 3-3z"/><path fill="#9e40ff" d="M327 67l8-2 6 0 6 2 6 5 6 7 2 6 0 6-3 6-8 5-12 3-21-2-6-2-3-3-3-7 0-6 3-6 3-4 6-5zM128 85l9 1 18 4 18 0 6 1 12 7 15 14 3 6 0 6-3 9-12 30-1 9 2 6 5 6 24 10 6 5 11 12 12 9 12 18 4 18 3 4 6 1 12-5 9-1 9 3 10 10 6 9 3 9-4 24 3 20 6 13 6 7 6 3 6 1 12-1 8-4 4-3 9-12 3-2 24-4 0 108-300 0 0-348zM286 145l10-2 9 1 12 5 9 5 6 6 3 6 0 6-3 6-9 8-9 2-9-3-16-10-7-6-4-9 0-6 1-3 2-3z"/><path fill="#973eff" d="M324 70l14-3 6 1 6 3 8 11 1 6-2 6-7 6-9 3-21-1-9-4-3-4-1-3 2-9 5-7zM116 97l15-2 24 4 21-1 9 4 8 7 5 9 1 9-3 9-11 30-2 9 2 7 5 5 4 2 21 4 9 4 6 5 9 9 12 9 5 6 7 12 2 6 2 15 2 5 3 1 3 0 15-6 9-1 9 4 7 6 6 9 3 9-2 24 3 21 5 12 8 9 9 4 15-1 16-6 17-10 15-3 0 100-300 0 0-338zM289 148l7-2 9 1 12 4 9 6 3 3 3 6 0 6-3 6-6 5-9 3-9-3-11-8-9-9-3-6 1-6 2-3z"/><path fill="#913cff" d="M332 70l6-1 6 1 6 4 4 5 3 6 0 3-2 6-3 3-8 3-12 1-14-1-7-4-2-5 0-3 4-9 7-5zM129 106l29 1 18-2 6 2 5 5 3 6 1 9-5 15-13 30-1 9 1 6 6 5 6 2 27 2 9 2 6 4 12 11 10 7 5 6 7 12 2 6 1 18 2 5 3 3 6 0 12-6 9-3 9 2 6 5 6 7 3 8 1 9-1 18 4 21 5 12 6 9 6 4 6 1 15 0 18-4 18-8 12-3 0 94-300 0 0-325zM291 151l5-2 9 1 9 2 9 5 3 3 4 6 0 6-4 6-6 5-6 1-6-2-10-7-7-6-4-6-1-6 2-3z"/><path fill="#8a3aff" d="M327 73l8-2 6 0 8 5 4 4 2 5-1 6-2 3-5 3-9 2-15 0-9-3-3-5-1-3 3-6 6-6zM163 112l10-1 5 1 5 6 1 6-2 9-5 12-23 36-2 9 2 6 7 4 7 2 11 0 33-4 9 2 6 4 10 10 13 9 7 9 4 12 1 24 4 9 3 1 3-1 13-9 8-3 9 0 6 3 6 7 4 8 1 9 0 18 4 24 6 12 4 6 5 4 9 3 18 0 18-3 18-6 9-2 0 88-300 0 0-308 12-7 9-4zM294 154l5-2 6 0 9 3 6 3 6 5 1 3 0 6-1 3-3 4-6 2-6 0-5-3-11-9-4-6 0-6z"/><path fill="#8339ff" d="M324 76l11-3 9 1 6 5 2 3 1 6-1 3-5 4-6 2-15 1-9-2-3-2-1-3 0-6 4-5zM163 118l7-1 3 1 3 2 1 4 0 6-3 6-7 10-9 8-12 6-9 1-5-1-4-3-3-6 0-6 2-6 5-6 8-6 5-3zM298 157l4-1 6 0 6 1 6 4 4 5 1 6-2 3-3 3-3 1-6 0-3-2-6-5-5-6-1-6zM203 202l12-1 9 3 12 11 12 8 5 6 4 9 2 6 0 39 1 4 3 3 6-1 3-3 11-12 9-6 4-1 6 1 8 6 4 6 2 6 1 24 5 24 7 15 6 7 9 4 21 1 18-2 27-6 0 83-300 0 0-191 18-14 12-7 52-19z"/><path fill="#7e38ff" d="M330 76l11-1 6 4 4 6-1 3-1 3-5 3-6 2-15 0-6-2-2-3-1-3 3-5 5-4zM304 160l7 0 8 3 3 6-2 6-6 2-5-2-3-3-4-6 0-3zM201 205l11-2 9 1 6 4 10 9 9 6 6 6 4 9 1 9-3 42 1 6 2 3 6-1 10-5 5-5 9-12 6-4 3-1 5 1 7 5 5 10 2 24 7 27 7 14 6 7 9 3 21 2 18-1 27-4 0 78-300 0 0-150 7-6 19-30 11-12 11-8 31-19z"/><path fill="#7a39ff" d="M327 79l8-2 6 1 6 4 1 3 0 3-4 4-6 2-12 0-6-1-2-2-1-2 1-4 3-3zM308 166l3-2 6 2 2 3-1 3-4 2-3-2-3-3zM209 205l9 0 6 2 12 11 12 8 4 6 3 9 1 9-6 42 1 8 3 4 6-2 18-9 4-4 8-12 6-3 3 0 6 4 4 5 2 8 4 22 6 24 5 12 6 9 9 5 24 2 15 0 30-2 0 73-300 0 0-121 14-5 5-3 5-6 3-9 6-27 6-12 7-9 39-33z"/><path fill="#763aff" d="M327 82l11-2 4 2 2 3 0 1-1 2-5 3-13 0-4-3 1-3zM205 208l10-2 6 1 6 4 9 9 10 6 4 6 3 9 1 9-8 42 2 9 3 6 6 0 23-12 4-3 9-12 3-1 3 0 5 4 3 6 13 49 6 14 6 8 9 4 27 3 42 0 0 69-300 0 0-103 35-8 13-5 5-4 0-6-6-15-3-12 0-12 3-12 5-9 5-6 18-17 11-13z"/><path fill="#713bff" d="M211 208l7 0 6 3 12 10 9 6 5 8 2 9 0 6-10 42 1 6 5 12 3 1 6-2 12-7 16-7 8-7 3-2 3 0 3 1 3 5 17 54 4 9 6 7 9 4 27 3 42 2 0 65-300 0 0-89 82-16 9-3 4-3 1-6-2-9-6-3-16-5-9-6-5-7-3-6-2-12 3-12 7-12 17-18 10-15 6-4z"/><path fill="#6d3cff" d="M207 211l8-2 9 3 21 17 3 6 2 9-1 9-6 24-6 15 0 3 6 9 2 9 3 2 3-1 21-12 13-4 11-6 3 1 3 2 6 13 10 32 5 13 3 6 5 5 4 2 6 2 12 1 18 3 24 1 15 2 0 61-300 0 0-78 91-21 17-6 1-3-4-6-1-6 3-15-5-2-18-2-12-5-8-9-2-6-1-6 1-9 3-9 19-22 6-14z"/><path fill="#6a3eff" d="M211 211l4-1 6 2 21 17 4 6 2 12-7 27-5 11-3 3-6 2-15 3-9 0-12-3-9-7-4-9-1-9 4-12 17-21 5-15 3-3zM292 298l4-1 3 1 6 8 6 14 11 35 3 6 4 4 9 4 15 1 18 4 21 2 18 4 0 56-300 0 0-68 99-28 17-6 7-6-11-6-3-3 0-6 2-5 3-4 6-4 3 0 3 1 5 6 0 6-3 9 1 3 12-9 18-11z"/><path fill="#6840ff" d="M208 214l7-2 6 1 3 2 18 17 3 6 0 6-1 9-4 15-4 12-3 3-6 3-18 3-9-1-10-5-5-6-2-9 0-6 2-6 3-6 12-15 2-6 2-9zM291 301l5 0 3 1 6 8 6 14 10 34 4 6 4 4 9 3 15 1 18 5 19 2 20 7 0 50-300 0 0-59 111-38 10-5 13-9 9-9 13-8 12-5zM227 307l6-2 4 2 1 6-2 4-3 4-3 0-3 0-3-2-1-6z"/><path fill="#6543ff" d="M212 214l3-1 6 2 16 14 4 6 1 9-1 9-3 15-5 10-3 3-6 2-15 2-9-1-6-4-5-6-2-9 1-6 3-6 13-18 2-15 2-3zM283 304l10-1 6 3 3 3 8 16 10 35 3 5 5 5 7 3 15 0 21 7 18 3 21 10 0 43-300 0 0-49 114-46 18-12 15-14 12-7zM228 313l2-3 3 1 1 2-2 3-2 1-2-1z"/><path fill="#6345ff" d="M210 217l5-2 3 0 6 3 13 14 2 6 0 15-6 19-3 5-3 2-12 3-9 0-6-3-5-5-3-9 2-9 12-20 1-4 0-9zM275 307l9-2 9 0 6 4 3 3 7 13 9 36 4 6 4 4 9 4 17 1 16 7 18 3 9 5 15 12 0 33-300 0 0-40 12-5 102-48 18-13 15-14 9-6z"/><path fill="#6048ff" d="M214 217l4 0 3 1 6 5 8 9 2 9-2 15-5 15-3 4-4 2-11 2-6-1-6-4-2-3-2-6 2-9 10-18 2-18zM280 307l13 1 5 2 4 5 6 13 9 35 6 9 9 5 20 2 13 7 18 5 5 3 14 18 8 7 0 17-300 0 0-31 15-7 99-53 18-13 16-16 11-6z"/><path fill="#604bfe" d="M213 220l5-2 6 4 8 10 2 6-2 18-4 12-6 6-7 2-9-2-3-3-2-6 2-9 7-15 1-6 0-12zM272 310l9-2 6 0 6 1 5 4 4 5 4 7 9 39 5 9 6 5 6 2 18 2 15 10 12 6 4 5 3 9 4 6 17 18-295 0 0-22 18-10 99-59 18-14 12-13z"/><path fill="#604efc" d="M214 223l1-2 3-1 6 3 6 9 1 6-4 21-2 6-4 5-6 2-5-1-3-3-1-6 7-18zM276 310l8-1 6 1 6 3 3 3 6 12 4 15 3 21 5 10 9 7 6 3 15 2 6 4 16 16 8 18 8 12-275 0 0-13 18-10 59-40 40-26 15-12 18-18 9-5z"/><path fill="#6052fb" d="M218 223l3 1 3 2 3 6 1 3-1 5-6 11-3-8-2-14 0-3zM218 253l0-1 2 1 0 6-2 4-3 2-2-3 2-6zM270 313l8-2 9 0 6 2 6 6 3 6 3 9 6 34 3 8 3 3 6 5 18 7 8 6 10 15 10 24-259 0 0-1 27-19 52-40 41-29 15-13 13-15z"/><path fill="#6055f9" d="M220 229l1-1 2 4-2 2zM273 313l8-1 8 1 5 3 5 6 3 6 3 12 4 30 2 7 6 8 17 12 5 6 15 33-229 0 6-6 56-48 46-36 27-27z"/><path fill="#6058f8" d="M280 313l7 1 5 2 4 4 3 5 6 21 3 33 3 6 9 9 4 6 5 15 9 21-200 0 4-6 50-48 44-37 24-25 9-5z"/><path fill="#5e5cf8" d="M270 316l8-2 9 1 6 4 6 9 5 21 1 33 9 18 5 21 5 15-175 0 4-6 47-51 36-32 23-25 4-3z"/><path fill="#5c5ff8" d="M274 316l10 0 6 3 6 6 3 7 3 11 1 9-1 30 11 54-154 0 3-6 22-27 23-27 32-31 21-23 6-4z"/><path fill="#5b62f8" d="M267 319l11-2 9 1 7 7 4 9 4 18-2 33 1 33 3 18-136 0 3-6 16-24 21-27 31-32 21-24z"/><path fill="#5966f8" d="M271 319l10-1 9 4 6 9 3 12 1 15-5 54 1 24-119 0 18-33 19-27 46-51 3-3z"/><path fill="#5669f8" d="M265 322l13-3 9 3 6 6 5 15 1 9-1 12-8 48-2 24-103 0 14-30 14-24 17-21 30-35z"/><path fill="#526cf8" d="M268 322l7-1 6 0 8 4 5 9 3 15 1 9-2 12-4 18-7 24-4 24-88 0 11-30 14-27 11-15 23-27 11-12z"/><path fill="#4c70f8" d="M275 322l9 2 6 5 5 11 1 15-1 12-4 18-10 24-7 27-72 0 2-15 6-18 6-15 7-12 11-15 26-31 6-5z"/><path fill="#4873f8" d="M268 325l10-2 6 2 4 3 3 6 2 6 2 15-2 12-4 18-10 21-12 30-57 0 1-15 2-12 4-15 5-12 12-18 16-21 13-14z"/><path fill="#4276f8" d="M274 325l7 1 6 4 3 4 3 11 1 10-1 9-4 15-4 9-16 30-12 18-36 0-3-15 0-12 3-15 6-15 11-18 16-21 12-12z"/><path fill="#3e7af7" d="M269 328l6-1 7 1 5 4 3 6 2 11 0 9-5 21-6 12-12 19-9 11-6 6-6 3-6 2-6-1-6-4-2-3-4-9-1-12 3-15 6-15 10-15 15-20z"/><path fill="#387df6" d="M268 331l4-2 6-1 6 3 4 6 2 9 1 9-4 19-6 14-18 23-6 6-6 3-6 1-6 0-6-5-4-10 0-12 2-12 5-12 7-12 14-18z"/><path fill="#3480f4" d="M271 331l4-1 6 1 3 3 4 6 1 15-1 9-4 12-6 12-15 18-6 5-6 2-9 0-6-5-3-8 0-12 3-12 7-15 11-15 9-10z"/><path fill="#2f84f2" d="M269 334l6-2 3 0 4 2 4 6 1 6 1 9-4 17-6 13-12 14-6 5-6 3-9-1-6-5-2-7 0-9 3-12 5-12 6-9 9-11z"/><path fill="#2a87f0" d="M274 334l4 0 3 2 3 4 2 6 0 12-4 15-7 12-9 11-9 5-6 1-3-1-3-2-3-4-2-7 1-9 3-12 5-9 11-15 7-6z"/><path fill="#278af0" d="M271 337l4-1 3 0 3 3 2 4 1 12-3 14-6 12-9 11-9 5-6-1-3-2-2-3-2-6 0-9 3-9 4-9 9-12 6-6z"/><path fill="#258ef0" d="M270 340l5-2 3 1 3 4 1 9-1 12-6 12-9 12-6 4-6-1-4-3-2-5 0-7 1-9 3-6 8-12z"/><path fill="#2391f0" d="M270 343l5-1 3 1 1 3 1 9-2 9-6 12-6 7-3 2-6 1-3-3-1-4 0-12 4-9 9-12z"/><path fill="#2294f0" d="M268 349l4-3 3 1 2 5-1 9-7 12-6 4-3-1-2-3-1-6 2-6z"/></g><path d="M110 358l91-21 10-3 7-3 1-3-4-6-1-6 3-15-2-2-3 0-18-2-12-5-3-3-5-6-2-6-1-6 1-9 3-9 5-6 14-16 6-14 7-6 8-2 6 1 3 2 9 8 12 9 3 6 2 9-1 9-6 24-6 15 0 3 6 9 2 9 3 2 3-1 21-12 13-4 11-6 3 1 3 2 6 13 6 17 4 15 5 13 3 6 5 5 4 2 6 2 12 1 18 3 24 1 15 2M269 328l6-1 7 1 5 4 3 6 2 11 0 9-5 21-6 12-12 19-9 11-6 6-6 3-6 2-6-1-6-4-2-3-4-9-1-12 3-15 6-15 10-15 15-20 6-6z" fill="none" stroke="#181818" stroke-opacity="0.6" stroke-width="0.75"/><path fill="#fff" d="M231.2,341.1 235.6,346.7 240.1,356.6 244.5,365.9 239.6,365.0 235.2,361.4 232.6,354.4Z"/><g font-size="22" font-weight="bold" font-style="italic" fill="#000"><text transform="translate(223.0,221.0) rotate(-3)" y="7.9" text-anchor="middle">0.1</text><text transform="translate(277.0,321.4) rotate(0)" y="7.9" text-anchor="middle">0.2</text></g>
</g></g>
<use href="#st"/>
<use href="#over"/>
<use href="#axl"/>
<path d="M552.2,0L567.5,-6.8L582.7,0Z" fill="#fbb582" stroke="#b08050" stroke-width=".8"/><path d="M552.2,439.1L567.5,445.6L582.7,439.1Z" fill="#e070ff" stroke="#8030a0" stroke-width=".8"/><rect x="552.2" y="0" width="30.5" height="439.1" fill="url(#cb)"/><path d="M552.5,0V439.1M582.4,0V439.1" stroke="#000" stroke-opacity=".35" stroke-width="1.2" fill="none"/><path d="M552.2,439.1h6.3M582.7,439.1h-6.3M552.2,351.3h6.3M582.7,351.3h-6.3M552.2,263.5h6.3M582.7,263.5h-6.3M552.2,175.6h6.3M582.7,175.6h-6.3M552.2,87.8h6.3M582.7,87.8h-6.3M552.2,0.0h6.3M582.7,0.0h-6.3" stroke="#000" stroke-width="2" fill="none"/><g font-size="29.4" font-weight="bold" font-style="italic" fill="#000"><text x="589.0" y="448.4">0</text><text x="589.0" y="360.6">0.2</text><text x="589.0" y="272.8">0.4</text><text x="589.0" y="184.9">0.6</text><text x="589.0" y="97.1">0.8</text><text x="589.0" y="9.3">1</text></g>
</g>
<text x="3.5" y="1743.5" font-size="36.4" font-weight="bold">G</text><text x="608.6" y="1756.6" text-anchor="end" font-size="38.6" font-weight="bold" font-style="italic">[PO<tspan font-size="20" dy="13.8" dx="1.3">4</tspan><tspan font-size="20" dy="-26.4" dx="1.3">3-</tspan><tspan dy="12.6">] µmol L</tspan><tspan font-size="24" dy="-10.4">-1</tspan><tspan dy="10.4">@ surface</tspan></text>
<g transform="translate(818.0,1782.8)">
<use href="#base"/>
<g clip-path="url(#csea)"><g clip-path="url(#cenv2)">
<g filter="url(#bl)"><rect x="105" y="-13" width="310" height="454" fill="#a844ff"/><path fill="#993eff" d="M110-8l300 0 0 444-300 0 0-346 21-17 4-6 0-3-4-1-9 1-12 3z"/><path fill="#8a3bff" d="M110-8l300 0 0 444-300 0 0-263 3-5 2-5 4-30 4-15 7-15 19-27 3-9 0-9-1-6-5-3-12-1-24 3z"/><path fill="#7d39ff" d="M110-8l300 0 0 444-300 0 0-207 9-5 17-13 20-18 7-9 1-6-1-6-4-9-13-22-3-8-1-9 1-9 3-6 6-9 11-9 2-3 1-6-4-18-1-15-3-4-4-2-11-2-33 1zM224 186l-3 2-2 5-1 3 3 4 6-2 3-2 3-5-3-5z"/><path fill="#743aff" d="M110-8l300 0 0 444-300 0 0-175 9-3 12-6 33-28 15-9 12-3 27-2 6-2 9-9 3-5 1-4-1-4-3-3-22-14-14-16-15-14-9-10-10-8-1-3 1-6 11-12 5-9 1-9-1-9-9-13-5-14-2-3-5-3-15-3-33-2zM242 297l-3 4 1 6 2 2 3 1 3-1 3-2 1-3 0-3-1-3-3-2z"/><path fill="#6b3dff" d="M110-8l246 0-15 19-5 11-1 6 1 3 4 3 4 1 15-1 3-1 3-3 2-8 1-21 0-9 42 0 0 444-300 0 0-151 21-3 9-4 8-4 9-9 18-24 13-12 12-7 21-7 6-4 9-13 4-8-1-3-3-5-10-10-6-9-6-15-2-18 2-6 4-7 2-5 0-6-3-6-2-3-3-2-6 2-2 3 2 15-1 3-2 4-6 1-6-2-3-3-2-3 0-3 6-15-1-21-2-6-13-13-9-14-6-5-15-4-36-5zM239 291l-3 2-3 5-1 6 1 3 2 3 4 3 3 1 6-1 6-5 2-4 0-3-1-6-4-4-3-1z"/><path fill="#6642ff" d="M110-8l230 0-8 27-1 6 1 5 3 4 5 3 16 0 6 0 7-6 11-22 10-17 20 0 0 444-300 0 0-133 48-2 14-3 7-3 4-6 3-21 2-9 7-15 11-15 6-4 9-4 6-4 12-20 2-7-1-6-10-15-5-12-1-12 3-18 0-6-2-15-4-10-6-6-12-5-3-3-1-12-1-3-19-13-15-17-6-3-12-3-36-8zM233 277l-5 3-6 9-3 9 0 6 3 6 10 6 7 1 6-1 7-3 6-6 1-6-1-9-4-6-3-2-15-7z"/><path fill="#6048ff" d="M110-8l221 0-4 30 2 9 3 4 6 3 18 1 9-1 5-4 22-27 15-14 3-1 0 444-300 0 0-119 48 1 48 6 15 0 18-3 12-5 7-6 2-3 2-6-1-12-3-6-10-7-12-10-11-7-5-6-2-6-1-6 1-6 12-16 12-25 1-4-1-6-10-18-2-9 0-9 5-18 0-6-11-29-13-16-2-6 1-12-1-2-3-1-12-1-9-4-6-4-12-12-9-5-21-7-27-7z"/><path fill="#604ffc" d="M110-8l215 0-1 30 2 9 2 3 7 5 9 2 15 0 9-3 6-4 21-20 9-7 6-3 0 432-300 0 0-107 45 0 51 3 15-1 24-10 12-8 3-3 3-6 1-15-1-6-3-3-12-9-14-15-5-12-1-9 1-6 15-39-1-6-7-18-1-9 1-9 8-18 1-6-2-3-8-9-8-18-11-15-1-6 2-15-2-8-3-1-15 3-9-1-6-3-15-13-9-5-24-10-24-8zM221 21l-3 4-1 6 1 7 3 1 10-5 2-3 1-3-1-5-3-3-3-1z"/><path fill="#6057f9" d="M110-8l209 0 4 39 2 3 9 6 10 3 15 0 9-2 27-20 15-8 0 423-300 0 0-97 39-1 57-1 18-2 27-16 11-9 3-6 2-18-2-6-14-10-10-11-5-9-2-9 0-12 1-9 3-12 8-18-1-6-6-18 0-12 2-6 4-7 14-17 0-3-2-3-15-5-6-5-17-32 0-9 3-18 4-6 10-7 3-5 1-6-2-6-2-3-6-3-3 0-6 3-6 7-4 14-3 6-8 4-9 1-9-4-15-11-15-8-27-13-15-5z"/><path fill="#5d5ef8" d="M110-8l203 0 7 40 5 5 10 5 6 2 18 0 8-1 34-20 9-3 0 416-300 0 0-88 90-6 21-3 9-4 24-16 7-6 5-6 4-18 0-6-4-6-16-12-9-12-2-9-2-21 3-15 7-18-1-6-5-18 1-9 2-6 4-7 6-5 21-12 3-3-1-3-8-6-9-3-15-3-6-3-3-4-14-26-1-9 3-15 4-6 12-9 2-3 2-6-1-9-3-6-2-3-5-2-3-1-9 4-7 8-6 15-4 6-7 4-6 0-9-2-33-22-27-14-12-5z"/><path fill="#5965f8" d="M110-8l197 0 7 21 4 21 5 4 12 6 6 1 18 1 6-1 33-15 12-4 0 410-300 0 0-79 90-11 21-4 12-5 27-21 8-9 5-18-1-6-6-9-9-6-6-6-6-9-3-6-2-21 0-9 2-12 5-12 1-6-4-15 0-9 2-9 7-9 10-6 21-9 3-3 1-6-2-6-5-3-18-5-21-3-4-4-12-21-2-12 2-12 4-7 14-11 4-9 1-6-2-9-2-4-4-5-8-3-6 1-6 4-9 10-9 19-6 5-6 1-6-1-9-4-36-24-30-17zM365 401l-3 3 0 8 3 4 3 0 2-4 0-3-2-7z"/><path fill="#516df8" d="M119-8l181 0 10 21 5 21 2 3 4 3 20 7 24 0 30-11 15-5 0 405-300 0 0-72 90-14 24-6 9-5 13-11 15-12 9-9 4-18-1-6-4-8-12-10-9-12-3-6-3-21-1-9 2-9 6-18-3-18 0-9 4-9 5-6 8-5 21-8 6-5 3-6-3-11-3-4-3-2-9-2-27-3-6-2-6-9-8-15-2-12 2-9 5-6 9-6 5-6 6-12 0-9-1-9-2-6-5-6-3-2-6-1-9 4-6 4-9 11-8 17-4 6-6 4-6 0-9-3-9-5-48-35zM359 391l-2 3-1 9 1 12 5 8 6 4 3 0 4-3 2-6 0-9-3-10-3-7-3-2-6-1z"/><path fill="#4674f8" d="M128-8l93 0-11 15-10 22-6 5-6 1-9-2-9-5-37-30zM264-8l24 0 11 11 6 8 5 11 4 15 6 5 15 5 9 1 21 1 27-8 18-4 0 399-24 0-2-18-7-24-4-6-5-3-3 0-6 0-5 3-1 3-2 9 1 15 10 21-252 0 0-64 87-18 27-8 9-4 11-11 19-15 6-6 4-6 3-12-1-9-6-10-12-11-6-9-3-6-1-12-3-12 0-15 7-18-3-18 0-6 3-9 6-7 9-5 18-6 6-5 5-7 0-6-4-12-4-5-9-2-30-4-6-3-10-16-4-12 1-6 2-6 17-14 7-10 3-12z"/><path fill="#3a7cf6" d="M135-8l80 0-8 15-8 18-5 5-6 2-9-1-10-6-29-27zM275 4l3-1 6-1 6 2 6 4 9 11 7 18 2 3 4 3 17 6 6 1 21 1 24-5 24-4 0 394-7 0-14-23-12-25-6-5-6-1-6 0-6 2-4 7-2 24 6 21-243 0 0-57 87-22 30-10 9-6 10-10 22-18 7-9 2-12-1-9-7-13-11-11-6-9-3-15-3-12-1-12 1-6 6-15-2-18 1-6 2-6 4-6 6-4 21-8 6-4 6-8 1-9-4-15-6-5-6-2-27-4-9-3-6-6-4-7-3-6-1-9 1-6 2-3 14-11 7-7 14-27z"/><path fill="#2f83f2" d="M142-8l67 0-12 30-6 6-6 1-9-2-6-4-24-25zM277 13l4-2 6 0 9 4 7 7 6 15 5 6 21 8 27 2 21-4 27-2 0 377-6-4-9-10-17-25-7-4-12-1-6 1-3 2-5 8-3 27 3 18-235 0 0-50 87-26 30-11 9-6 12-12 21-18 6-6 3-12 0-9-6-13-12-15-5-8-3-15-5-15 0-12 6-18-1-18 1-6 3-6 4-4 6-4 18-7 6-4 8-11 1-3 0-6-4-15-5-7-9-3-21-3-12-4-6-5-4-5-3-6-1-9 2-6 18-15 7-9 9-15z"/><path fill="#278bf0" d="M148-8l55 0-9 27-6 6-6 1-6-2-6-4-18-22zM280 19l7-1 9 3 6 6 6 13 3 3 6 4 18 6 27 2 18-2 30-1 0 361-6-4-6-5-13-16-7-6-7-3-12-1-9 2-5 5-4 6-1 15-4 15 1 15-227 0 0-43 87-29 30-13 9-6 13-14 22-18 5-6 3-15-1-9-6-12-14-21-4-15-5-15-1-12 7-18-1-18 3-9 3-4 6-4 18-7 6-4 5-5 4-8 2-4 0-6-4-15-4-8-9-5-21-3-14-5-4-3-5-6-2-6-1-6 3-6 17-14 15-18zM323 390l-1 1 1 3 3-3z"/><path fill="#2392f0" d="M155-8l42 0-3 12-5 12-4 4-6 1-5-2-4-4zM283 25l7-1 6 3 3 3 8 13 4 4 6 3 15 4 30 4 15-1 33 1 0 346-9-5-15-14-9-6-9-3-12 0-8 3-10 9-3 1-9-4-3 0-3 3-2 6 2 5 3 0 9-4 3 1 1 4-1 6-5 9-1 6 1 15-220 0 0-35 87-34 30-14 9-6 15-16 21-18 5-6 3-15-1-9-7-15-11-15-2-6-3-12-5-15-2-12 2-6 6-12-1-18 4-9 7-6 20-8 6-4 8-15 2-9-5-18-5-8-9-5-18-2-12-5-9-7-3-9 1-6 3-3 14-12 15-16z"/><path fill="#1f99f1" d="M162-8l28 0-2 9-3 6-3 3-3 2-3 0-3-3-6-8zM284 31l6-1 3 1 6 5 7 10 5 4 18 6 36 6 45 2 0 332-9-4-20-13-10-4-18 0-6 2-9 6-3 0-6-2-6 1-5 6-2 6 1 6 3 5 2 1 2 3-1 12 2 15-215 0 0-28 90-40 30-15 9-7 10-12 25-21 4-6 3-15-1-9-8-17-10-16-5-18-5-15-1-9 7-18 0-15 3-9 8-7 18-7 6-4 5-6 5-12 1-9-5-21-6-9-9-5-15-1-9-3-8-6-4-6 0-3 0-3 4-6 26-23z"/><path fill="#18a0f4" d="M282 40l5-2 6 0 3 2 9 11 6 3 18 6 24 4 18 7 6 1 15-2 18 1 0 318-33-14-9-2-15 0-6 1-9 5-9-1-6 2-6 6-2 8 6 42-211 0 0-21 93-45 27-15 9-7 15-17 21-18 4-6 2-12 0-10-9-21-7-11-3-6-3-15-5-15-1-9 1-4 6-14 0-15 3-7 6-6 18-7 9-6 4-7 6-15 0-6-4-18-2-6-4-7-6-6-3-1-15-2-7-2-5-3-5-6 0-6 5-6z"/><path fill="#11a7f7" d="M287 49l3-1 3 1 7 6 7 3 19 5 24 4 24 10 36 0 0 305-33-9-9-2-18 0-24 4-6 5-3 4-3 9 0 7 4 36-208 0 0-13 96-52 24-14 9-7 16-19 21-18 4-6 2-15-1-9-9-21-9-15-2-18-4-12-2-9 2-6 5-9 1-18 3-6 6-6 17-6 8-6 5-6 6-18 0-6-5-24-10-18-3-3-3-2-12 1-6-2-4-3 0-3 0-3 4-5z"/><path fill="#10aeef" d="M303 67l8-2 30 4 9 2 24 10 36 3 0 292-36-6-15-2-24 0-9 4-9 9-4 10 0 9 2 36-205 0 0-5 102-61 21-14 8-7 13-15 21-19 5-5 3-12-1-12-1-6-8-18-8-15-3-24-3-9 0-6 6-15 0-15 4-9 6-4 18-8 8-6 4-6 2-9 3-9 1-6-5-24-7-18 1-6z"/><path fill="#10b6e4" d="M307 73l7-3 27 3 36 14 33 3 0 280-60-4-12-3-4 1-5 2-9 8-5 8-2 6-1 9 1 39-194 0 6-6 18-12 90-60 9-8 13-16 20-18 6-6 2-12 0-12-2-8-7-16-7-12-2-6 0-12 3-12-5-12 5-15 0-15 3-6 4-4 15-7 7-4 7-6 5-6 1-9 3-9 1-6-9-39 0-6z"/><path fill="#0dbdd6" d="M313 79l4-2 24 1 36 13 33 5 0 268-18-1-24 2-15-2-15-3-6 1-4 3-5 4-6 8-5 12-1 9-1 39-180 0 6-6 16-12 84-61 6-6 12-15 24-21 3-5 3-15-1-12-8-21-7-12-2-9 0-9 6-12 0-3-2-12 2-24 2-6 3-3 31-21 5-6 1-9 4-18-4-15-2-21z"/><path fill="#0ac4c7" d="M341 85l9 2 30 11 30 4 0 256-18 1-24 3-14-1-16-3-6 1-6 4-9 10-6 15-3 48-168 0 5-6 15-12 76-59 6-6 13-16 26-25 2-5 1-6 0-17-9-24-7-13-1-6 1-9 7-15-1-18 2-15 3-6 4-6 32-24 2-3 2-12 4-15 0-6-2-9 2-6 9-9 3-2z"/><path fill="#06cab8" d="M343 94l10 1 33 10 24 4 0 244-18 1-24 6-30-5-6 2-7 4-8 10-6 14-5 51-157 0 5-6 17-15 65-55 6-5 14-18 25-24 3-6 1-6 0-9-1-9-9-24-5-9-2-9 1-9 9-15 1-6-1-15 2-9 5-12 5-6 9-8 15-9 4-4 11-30 3-15 5-6z"/><path fill="#02cea9" d="M347 103l6 0 36 8 21 4 0 233-18 2-24 6-30-2-9 2-6 4-6 8-6 14-6 54-148 0 5-6 15-15 62-56 18-22 25-24 3-6 0-6 0-18-9-24-6-12-1-6 2-9 8-12 2-6 1-21 3-12 4-9 6-6 7-5 13-7 6-6 18-39 2-3z"/><path fill="#00d09c" d="M348 115l5-2 9 0 48 8 0 222-18 2-24 8-30-1-9 2-6 4-7 9-5 12-8 57-138 0 4-6 11-12 59-57 18-22 26-26 3-12-1-18-8-24-7-12-1-6 3-9 8-12 3-6 2-24 3-12 3-6 8-8 18-10 4-3 11-18z"/><path fill="#00d092" d="M355 124l7-2 9 0 39 4 0 212-18 2-24 9-30 1-9 3-8 5-7 9-4 12-4 30-5 27-129 0 3-6 16-18 48-49 18-23 24-23 3-4 3-12-1-18-9-24-6-12-1-6 3-9 9-12 3-6 2-9 1-18 2-9 3-6 6-6 6-4 12-6 6-5 9-12 6-6z"/><path fill="#00d088" d="M352 133l22-3 36 2 0 202-21 2-18 8-6 2-27 2-9 3-9 6-6 8-4 11-5 33-6 27-121 0 4-6 12-15 48-54 14-18 28-29 3-10-1-21-8-24-6-12-1-6 3-9 10-12 3-6 2-9 0-15 3-12 3-6 5-6 22-12 16-17 6-2z"/><path fill="#03cd7b" d="M386 136l24 1 0 192-24 3-18 9-30 5-9 3-9 6-6 7-5 11-2 9-2 25-7 29-113 0 3-6 13-18 44-52 10-14 26-26 5-7 2-12-1-18-8-24-6-12-1-6 3-9 10-12 3-6 3-9 1-24 4-9 9-8 12-5 7-5 11-10 6-4 18-3z"/><path fill="#06ca6e" d="M358 142l16 0 18-1 18 1 0 184-21 1-9 2-15 10-30 6-9 4-9 6-4 6-5 12-4 33-8 30-105 0 4-9 12-18 38-47 11-16 25-25 5-8 2-12 0-18-9-24-6-12 0-6 2-7 12-14 4-9 2-9 0-18 3-9 3-5 4-4 19-9 16-12 6-2z"/><path fill="#08c461" d="M384 145l11 0 15 2 0 175-32 3-16 11-18 5-12 4-9 4-8 6-4 6-4 9-1 9-2 27-9 30-99 0 6-12 11-18 42-57 26-27 6-8 2-10-1-21-8-24-6-12-1-6 2-6 14-15 4-9 2-9 0-21 3-9 7-6 14-6 22-13z"/><path fill="#09be52" d="M337 151l7-1 45-2 21 3 0 168-33 2-3 2-12 10-21 6-12 5-9 5-6 5-5 7-2 6-2 12-2 27-10 30-91 0 5-12 10-18 39-57 25-25 6-8 2-12 0-21-8-24-6-12 0-9 4-6 12-12 3-6 2-9 0-24 4-9 5-5 16-7z"/><path fill="#0cb844" d="M335 154l6-2 12 1 12-2 21 0 9 1 15 4 0 159-35 4-15 12-22 7-18 9-7 5-5 6-2 6-2 12-2 30-11 30-84 0 9-21 19-33 23-33 23-23 7-10 2-12-1-21-8-24-6-12 0-6 3-7 14-14 4-6 1-9 0-24 2-6 6-7z"/><path fill="#0fb336" d="M366 154l23 1 21 5 0 152-36 5-15 12-21 7-18 9-10 7-4 6-2 9-1 30-2 9-12 30-76 0 7-21 18-33 21-33 20-18 7-9 3-6 1-12 0-21-8-24-6-12 0-6 5-9 12-11 5-7 1-9-1-24 2-6 2-3 6-5 27-12 6 0 12 2z"/><path fill="#13af2d" d="M335 157l6 0 12 2 12-3 18 1 12 2 15 6 0 144-36 6-6 3-9 8-21 7-21 11-9 7-4 7-2 6 0 33-1 9-14 30-69 0 3-12 4-12 17-33 18-29 20-16 7-9 2-6 2-12-1-25-2-8-12-30 2-6 1-3 5-5 9-7 6-9 1-9-1-24 2-6 2-3 5-4z"/><path fill="#18ac28" d="M329 160l9-2 15 3 12-2 15 0 12 3 18 8 0 137-36 6-6 3-12 9-18 5-11 7-13 6-8 6-4 6-2 6 1 33 0 9-5 12-11 21-61 0 1-12 4-12 7-18 8-15 17-27 5-5 16-10 6-6 1-3 3-18-1-27-8-24-5-12-1-6 4-7 14-11 4-6 2-9-1-27 2-6 6-6z"/><path fill="#1daa23" d="M332 160l9 0 12 3 15-3 12 1 14 5 16 9 0 129-39 8-15 11-6 2-12 1-10 8-17 8-11 7-3 6 0 6 3 30 0 12-4 10-13 23-53 0 1-18 8-24 7-15 10-15 5-9 2-3 6-4 24-10 3-4 1-3-4-8-1-4-1-39-8-24-5-9 0-6 6-9 13-9 5-9 0-18-1-15 2-6 2-3 4-3z"/><path fill="#23a81e" d="M326 163l6-2 6-1 15 5 12-3 12 1 15 6 18 11 0 121-36 9-21 11-15 1-15 11-15 4-3-1-2-5-7-8-2-4-3-39-12-36 2-6 2-3 13-10 6-9 1-20-1-15 2-6 4-4zM268 352l13-2 6 2 3 3 6 16 2 11 2 15-2 9-8 15-10 15-44 0-1-9 1-9 8-30 4-9 12-15 3-7z"/><path fill="#2ba819" d="M328 163l10-2 15 5 12-2 12 2 13 6 20 14 0 112-36 10-21 10-3 1-6-2-3 0-9 5-9 8-9 2-6-2-9-7-3-4-2-9-2-30-12-36 1-5 3-4 12-9 6-9 2-6 0-15-1-15 2-6 6-5zM269 358l6-1 6 2 6 4 6 7 3 8 2 10 1 9-1 6-2 6-6 10-14 17-33 0-2-9-1-9 2-12 5-18 6-12 9-9z"/><path fill="#33a813" d="M331 163l7-1 15 5 12-1 12 3 16 9 17 15 0 102-51 17-3 0-6-3-3 1-11 6-13 11-9 2-12-6-3-2-3-5-2-12-2-27-11-33 0-3 3-5 13-10 6-9 2-6 0-15-1-15 2-6 5-4zM270 367l5-1 9 1 3 2 5 4 2 6 3 9 1 9-1 6-7 13-6 8-6 5-9 7-15 0-7-9-2-9 1-9 3-21 4-9 4-5z"/><path fill="#3da90f" d="M325 166l7-2 6-1 15 6 12-1 6 1 21 13 18 19 0 91-18 8-30 8-3 0-6-4-3 0-27 20-6 2-3 0-12-5-3-2-3-6-2-12-2-24-10-33 2-6 15-12 5-9 1-6 1-15-1-15 2-6 4-4zM264 373l11-3 6 1 6 2 3 2 3 5 4 17-1 6-3 6-9 12-9 7-9 2-6 0-6-4-3-7-1-7 2-27 5-8z"/><path fill="#48ac0c" d="M326 166l6-2 6 0 12 5 15 0 6 3 21 15 15 20 3 2 0 80-19 9-23 7-6 1-6-4-3-1-3 1-27 20-3 1-6 1-12-5-5-6-2-12-2-24-10-33 2-6 14-11 6-10 2-21-2-15 3-6 3-3zM263 376l12-3 6 1 6 2 4 6 4 12-1 9-4 8-9 9-9 5-6 0-6-3-3-4-2-6-1-21 1-6 4-6z"/><path fill="#53af09" d="M329 166l9-1 12 5 12 1 6 2 21 17 15 21 6 6 0 69-17 9-22 8-6 0-9-3-6 0-27 20-3 1-6 1-6-1-6-3-3-3-2-5-2-12-2-21-9-33 3-6 12-10 6-10 2-7 0-15-1-15 2-5 5-4zM263 379l9-3 9 1 6 3 3 5 3 9 0 9-6 9-9 6-9 2-4-2-4-6-4-24 2-6z"/><path fill="#60b208" d="M331 166l7 0 12 5 12 1 6 3 6 7 13 11 13 21 7 9 3 2 0 58-15 9-21 8-9 1-9-3-6 1-27 19-6 3-3 0-6-2-6-3-4-6-3-12-1-21-8-27-1-6 3-6 14-12 4-9 2-21-1-12 1-6 2-3 4-3zM263 382l6-2 9 0 6 2 3 3 3 6 1 9-4 8-6 5-6 1-3 0-5-5-6-21 0-3z"/><path fill="#6db608" d="M324 169l8-2 6 0 12 5 12 2 3 1 17 18 13 22 9 12 6 5 0 47-14 10-19 9-9 2-12-3-6 0-30 21-6 1-9-2-3-2-3-5-3-12-1-21-8-27-1-6 4-6 12-11 5-10 2-21-1-12 1-6 5-5zM267 385l5-2 3 0 6 2 3 3 3 9 0 4-3 4-3 1-3 1-3-1-3-4-5-11-1-3z"/><path fill="#7bbb08" d="M326 169l6-2 6 0 12 6 12 3 3 2 13 15 4 6 9 18 19 23 0 33-13 13-17 9-12 3-12-3-6 1-30 20-6 2-9-3-3-2-3-6-3-9-1-21-7-27 0-6 3-6 11-10 5-11 3-21-1-12 1-6 4-4z"/><path fill="#8cc008" d="M328 169l7-1 6 1 9 4 9 3 6 5 13 18 8 18 16 21 8 12 0 15-10 15-7 6-10 6-12 4-15-2-6 1-30 19-4 2-5 0-6-2-3-3-4-7-1-9-1-18-5-18-2-12 2-6 11-12 6-12 2-21 0-12 1-6 3-3z"/><path fill="#9fc508" d="M331 169l4-1 6 2 18 8 4 3 12 18 9 21 18 24 3 9 1 9-3 9-4 6-6 6-8 6-8 4-6 2-15-2-6 1-30 19-3 1-6 1-6-2-3-3-3-6-2-9 0-18-5-18-2-12 2-6 11-12 5-11 3-19-1-15 2-6 5-4z"/><path fill="#adc908" d="M324 172l8-3 6 1 19 8 4 3 11 18 10 24 17 24 3 9 0 6-2 9-4 6-6 6-9 6-10 4-15-2-6 1-5 3-7 6-18 10-5 2-4 0-7-3-5-8-1-7 0-15-5-21-1-12 2-6 9-12 5-9 4-21-1-18 3-4z"/><path fill="#b7ca08" d="M326 172l6-2 6 0 16 8 5 3 10 18 11 27 15 21 3 7 1 8-3 9-3 6-6 6-10 6-6 2-15-1-6 1-6 3-9 7-15 8-9 3-6-2-3-4-3-7-1-19-5-21 0-12 2-6 10-13 4-8 3-21 0-18 2-3 3-2z"/><path fill="#c1cb08" d="M328 172l7-1 6 1 11 6 7 6 9 18 9 25 16 23 2 6 0 9-2 6-4 6-12 10-6 2-15-1-6 2-6 2-9 7-15 9-9 2-3 0-4-3-5-9 0-18-5-21 0-9 2-9 9-12 4-9 4-21 0-18 4-4z"/><path fill="#cbcc08" d="M331 172l4-1 6 2 13 8 3 3 10 21 8 24 15 24 2 6 0 6-4 9-5 6-6 4-6 3-15 0-6 1-6 2-10 8-16 9-7 2-6-3-3-3-2-5 0-18-5-21 0-9 2-9 9-12 4-9 4-21 0-18 2-3 4-2z"/><path fill="#d6cc06" d="M324 175l8-3 6 1 10 5 7 6 11 24 7 24 13 21 2 6 0 6-3 9-5 5-6 4-6 2-12-1-9 3-16 11-14 8-6 1-6-2-4-7 0-18-5-21 0-9 3-9 7-12 4-9 5-21 0-18 3-3z"/><path fill="#e1cc04" d="M326 175l6-2 6 0 9 5 6 6 12 27 4 21 13 21 2 6 0 6-4 9-6 6-6 2-12 0-9 2-25 17-11 5-6-3-3-5-1-21-4-18 0-9 3-9 8-14 3-7 4-21 1-18 3-3z"/><path fill="#eccc01" d="M329 175l6-1 5 1 5 3 6 6 5 15 7 15 4 24 10 15 2 6 1 6-3 6-6 5-6 2-12 0-9 4-21 16-6 4-6 2-3-1-3-2-3-6 1-15-5-21 0-9 3-9 7-13 3-8 5-21 1-16 4-5z"/><path fill="#f3cb00" d="M332 175l6 0 6 3 3 3 4 6 2 12 6 12 2 6 1 29 9 13 0 6-2 3-4 2-12-1-6 2-6 5-11 13-6 6-10 6-6 1-3-3-2-4 1-15-5-21 0-12 13-27 6-24 0-12 1-3 4-3z"/><path fill="#f9ca00" d="M326 178l6-2 6 0 4 2 6 6 3 18 7 15 0 12-3 12-9 15-11 12-7 18-8 9-9 5-3 0-4-5 1-18-5-18 0-9 2-9 10-18 6-24 1-15 2-3z"/><path fill="#fec800" d="M329 178l9-1 5 4 3 3 2 18 7 15 0 12-3 9-7 12-13 15-6 18-4 6-5 6-6 3-3-1-3-5 1-12-5-18 0-12 2-9 9-18 7-24 2-15 2-3z"/><path fill="#ffc100" d="M335 178l6 3 2 3 2 15 6 18 1 12-3 9-5 9-16 18-8 22-4 5-5 3-3-2-1-1 1-15-6-18 0-12 11-24 8-27 1-12 4-3z"/><path fill="#ffb800" d="M329 181l6-1 4 1 2 3 0 12 7 21 1 12-6 15-4 6-12 12-13 25-3-1-1-9-6-15-1-12 2-9 7-15 5-17 5-10 1-12 2-3z"/><path fill="#ffad00" d="M328 184l7-2 3 2 0 12 8 21 1 12-3 9-5 9-12 12-10 13-3 1-3-2-3-3-3-7-1-8 0-6 9-21 4-15 7-15 2-9z"/><path fill="#ffa200" d="M332 190l11 24 2 12-1 6-4 9-3 6-20 20-3 1-3-1-4-5-2-7 0-8 9-21 4-15 11-19z"/><path fill="#ff9400" d="M325 202l4-3 3 1 5 5 5 12 1 12-3 9-5 9-15 14-6 3-3-1-3-3-2-7 0-6 2-6 6-15 5-15z"/><path fill="#ff8400" d="M324 205l5-2 3 0 3 3 5 11 1 12-3 9-5 9-13 11-6 3-3-1-3-4-1-6 1-6 7-18 4-15z"/><path fill="#fe7101" d="M323 208l3-2 3-1 3 1 3 3 4 11 1 9-3 9-6 9-11 9-6 2-3-1-2-4 0-9 6-15 4-15z"/><path fill="#fa5b06" d="M326 208l3-1 3 2 4 5 2 9-1 9-4 9-4 6-9 7-6 2-3-3-1-9 6-15 4-15 3-4z"/><path fill="#f44908" d="M324 211l2-1 3 0 3 2 4 8 1 9-4 9-4 7-9 7-6 1-2-3-1-6 7-18 2-10z"/><path fill="#eb3c08" d="M323 214l3-2 3 0 3 2 3 7 0 8-2 6-4 7-6 6-6 3-3-1-1-6z"/><path fill="#e4320c" d="M326 214l3 0 3 4 2 5 0 6-2 6-6 8-6 5-3 0-2-1-1-3 1-3 7-24z"/><path fill="#df2811" d="M325 217l4 0 2 3 1 3 0 6-3 7-3 5-6 4-3-1 0-6 6-19z"/><path fill="#db2317" d="M326 220l3 2 1 1 0 6-4 8-3 3-3 0 0-2 3-13z"/></g><path d="M356-8l-12 15-7 12-2 5 0 4 1 3 4 3 4 1 15-1 5-3 2-3 1-6 1-21 0-9M110 285l21-3 9-4 8-4 9-9 18-24 13-12 12-7 21-7 6-4 9-13 3-5 1-3-1-3-3-5-10-10-6-9-6-15-2-18 2-6 4-7 2-8-2-8-3-4-3-2-3 1-3 1-2 3 2 15-1 3-2 4-3 1-3 0-6-2-3-3-2-3 0-3 6-15-2-24-4-6-10-10-9-14-6-5-9-3-21-4-21-2M239 291l-3 2-3 5-1 6 1 3 2 3 4 3 3 1 6-1 6-5 2-4 0-3-1-6-4-4-3-1-6 0zM215-8l-8 15-8 18-5 5-6 2-9-1-10-6-29-27-5-6M110 379l87-22 18-5 12-5 9-6 10-10 22-18 4-4 3-5 2-12-1-9-7-13-11-11-6-9-3-15-3-12-1-12 1-6 6-15-2-18 1-6 2-6 4-6 6-4 21-8 6-4 6-8 2-6-1-3-4-15-3-3-3-2-6-2-27-4-9-3-6-6-4-7-3-6-1-9 1-6 2-3 14-11 7-7 4-6 7-16 5-8 4-3 6-2 6 1 6 3 6 5 6 8 3 6 4 12 2 3 6 4 18 6 24 1 24-5 24-4M403 436l-14-23-12-25-3-3-3-2-6-1-6 0-6 2-3 4-1 3-2 24 6 21M410 364l-18-1-24 2-15-2-15-3-6 1-4 3-5 4-6 8-5 12-1 9-1 39M130 436l6-6 16-12 66-47 18-14 6-6 12-15 24-21 3-5 2-6 1-9-1-12-8-21-7-12-2-9 0-9 6-12 0-3-2-12 2-24 2-6 3-3 31-21 5-6 1-9 4-18-4-15-2-21 1-3 4-2 24 1 36 13 12 3 21 2M329 178l6-1 3 0 5 4 3 3 1 3 1 15 7 15 0 12-3 9-7 12-13 15-3 6-3 12-4 6-5 6-6 3-3-1-2-2-1-3 1-12-5-18 0-12 2-9 9-18 7-24 2-15 2-3zM324 211l2-1 3 0 3 2 4 8 1 9-4 9-4 7-9 7-3 1-3 0-2-3-1-6 7-18 2-10z" fill="none" stroke="#181818" stroke-opacity="0.6" stroke-width="0.75"/><path d="M410 295l-16 6-21 6-14 5-3 0-6-3-3 1-11 6-13 11-6 2-6-1-12-7-3-5-2-12-2-27-7-21-4-9 0-3 0-3 3-5 13-10 6-9 2-6 0-15-1-15 2-6 5-4 15-6 6-2 6-1 15 5 12-1 9 2 9 4 10 6 17 15M254 436l-7-9-2-9 1-12 4-21 4-8 6-5 12-6 6 0 9 3 3 2 3 4 3 10 2 15-2 6-9 14-6 7-12 9" fill="none" stroke="#000" stroke-width="2.6" stroke-linejoin="round"/><path fill="#fff" d="M231.2,341.1 235.6,346.7 240.1,356.6 244.5,365.9 239.6,365.0 235.2,361.4 232.6,354.4Z"/><g font-size="22" font-weight="bold" font-style="italic" fill="#000"><text transform="translate(236.1,58.4) rotate(-55)" y="7.9" text-anchor="middle">0.2</text><text transform="translate(318.9,68.3) rotate(-8)" y="7.9" text-anchor="middle">0.3</text><text transform="translate(322.2,163.2) rotate(-8)" y="7.9" text-anchor="middle">0.5</text><text transform="translate(353.1,212.9) rotate(55)" y="7.9" text-anchor="middle">0.7</text><text transform="translate(212.9,205.2) rotate(15)" y="7.9" text-anchor="middle">1</text><text transform="translate(315.6,260.7) rotate(-12)" y="7.9" text-anchor="middle">0.8</text><text transform="translate(246.0,282.8) rotate(-5)" y="7.9" text-anchor="middle">0.1</text><text transform="translate(370.7,293.8) rotate(-5)" y="7.9" text-anchor="middle">0.</text><text transform="translate(279.1,360.0) rotate(-8)" y="7.9" text-anchor="middle">0.5</text><text transform="translate(380.7,386.5) rotate(-30)" y="7.9" text-anchor="middle">0.</text><text transform="translate(313.3,415.2) rotate(-40)" y="7.9" text-anchor="middle">0.</text></g>
</g></g>
<use href="#st"/>
<use href="#over"/>
<use href="#axl"/>
<path d="M552.2,0L567.5,-6.8L582.7,0Z" fill="#fbb582" stroke="#b08050" stroke-width=".8"/><path d="M552.2,439.1L567.5,445.6L582.7,439.1Z" fill="#e070ff" stroke="#8030a0" stroke-width=".8"/><rect x="552.2" y="0" width="30.5" height="439.1" fill="url(#cb)"/><path d="M552.5,0V439.1M582.4,0V439.1" stroke="#000" stroke-opacity=".35" stroke-width="1.2" fill="none"/><path d="M552.2,439.1h6.3M582.7,439.1h-6.3M552.2,351.3h6.3M582.7,351.3h-6.3M552.2,263.5h6.3M582.7,263.5h-6.3M552.2,175.6h6.3M582.7,175.6h-6.3M552.2,87.8h6.3M582.7,87.8h-6.3M552.2,0.0h6.3M582.7,0.0h-6.3" stroke="#000" stroke-width="2" fill="none"/><g font-size="29.4" font-weight="bold" font-style="italic" fill="#000"><text x="589.0" y="448.4">0</text><text x="589.0" y="360.6">0.2</text><text x="589.0" y="272.8">0.4</text><text x="589.0" y="184.9">0.6</text><text x="589.0" y="97.1">0.8</text><text x="589.0" y="9.3">1</text></g>
</g>
<text x="715.1" y="1743.5" font-size="36.4" font-weight="bold">H</text><text x="1332.4" y="1756.6" text-anchor="end" font-size="38.6" font-weight="bold" font-style="italic">[PO<tspan font-size="20" dy="13.8" dx="1.3">4</tspan><tspan font-size="20" dy="-26.4" dx="1.3">3-</tspan><tspan dy="12.6">] µmol L</tspan><tspan font-size="24" dy="-10.4">-1</tspan><tspan dy="10.4">@ bottom</tspan></text>
<text x="731.4" y="1285.6" font-size="39" font-weight="bold" textLength="20.6" lengthAdjust="spacingAndGlyphs">e</text>
</svg></body></html>
